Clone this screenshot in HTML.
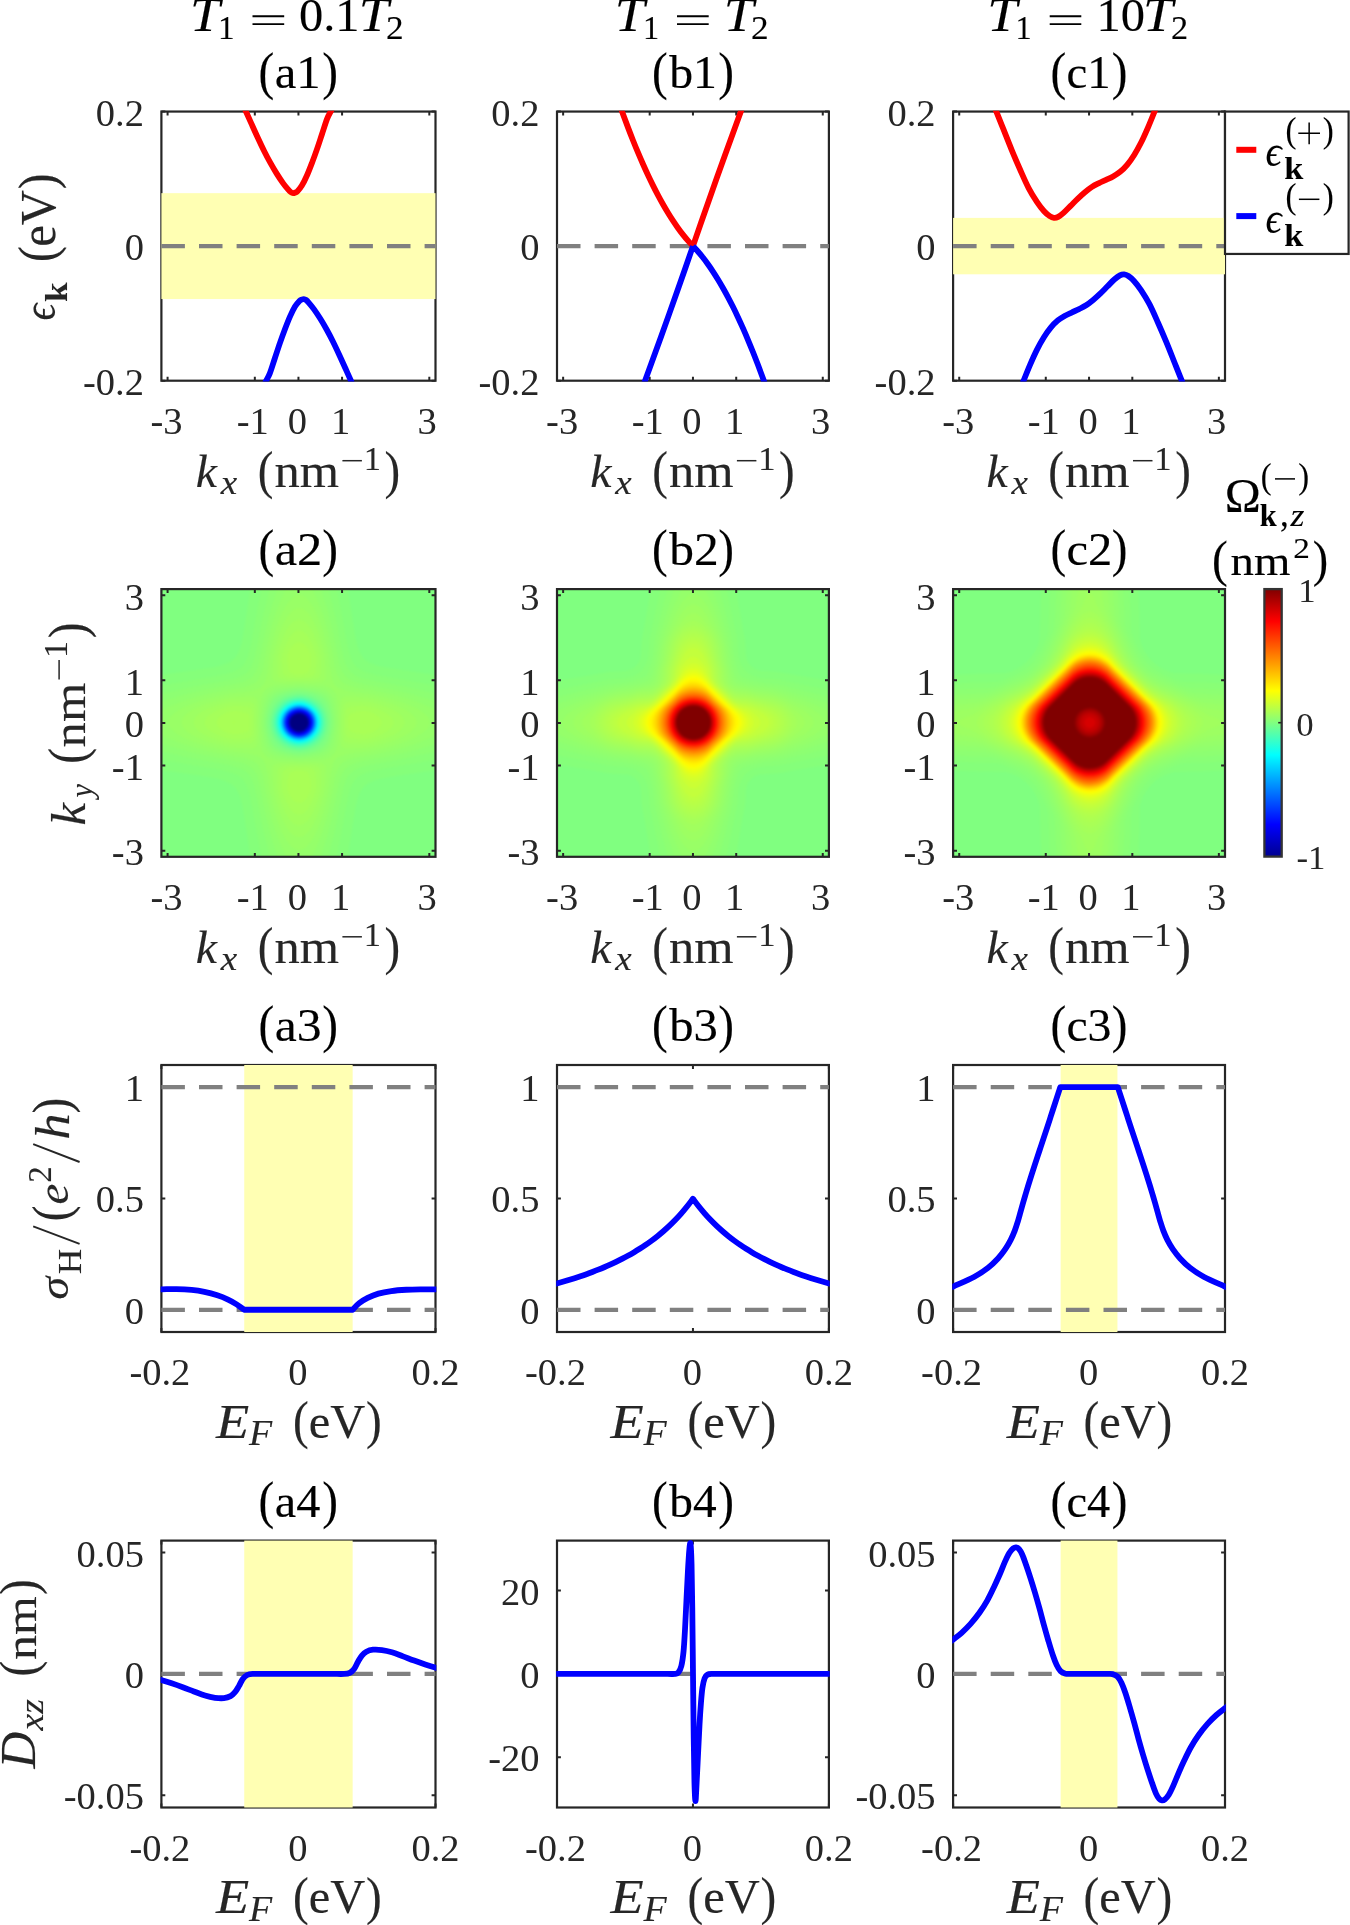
<!DOCTYPE html>
<html><head><meta charset="utf-8"><title>figure</title>
<style>html,body{margin:0;padding:0;background:#fff;font-family:"Liberation Serif",serif}svg{display:block;will-change:transform}</style></head>
<body>
<svg width="1350" height="1925" viewBox="0 0 1350 1925" font-family="'Liberation Serif', serif">
<defs>
<filter id="hb" x="-5%" y="-5%" width="110%" height="110%" color-interpolation-filters="sRGB"><feGaussianBlur stdDeviation="1.3"/></filter>
<clipPath id="ka1"><rect x="160.6" y="110.75" width="275.7" height="270.75"/></clipPath>
<clipPath id="ya1"><rect x="161.4" y="111.55" width="274.1" height="269.15"/></clipPath>
<clipPath id="ka2"><rect x="160.6" y="588.3" width="275.7" height="269.3"/></clipPath>
<clipPath id="ya2"><rect x="161.4" y="589.1" width="274.1" height="267.7"/></clipPath>
<clipPath id="ka3"><rect x="160.6" y="1064.2" width="275.7" height="268.6"/></clipPath>
<clipPath id="ya3"><rect x="161.4" y="1065" width="274.1" height="267"/></clipPath>
<clipPath id="ka4"><rect x="160.6" y="1539.8" width="275.7" height="268.5"/></clipPath>
<clipPath id="ya4"><rect x="161.4" y="1540.6" width="274.1" height="266.9"/></clipPath>
<clipPath id="kb1"><rect x="556.2" y="110.75" width="273.5" height="270.75"/></clipPath>
<clipPath id="yb1"><rect x="557" y="111.55" width="271.9" height="269.15"/></clipPath>
<clipPath id="kb2"><rect x="556.2" y="588.3" width="273.5" height="269.3"/></clipPath>
<clipPath id="yb2"><rect x="557" y="589.1" width="271.9" height="267.7"/></clipPath>
<clipPath id="kb3"><rect x="556.2" y="1064.2" width="273.5" height="268.6"/></clipPath>
<clipPath id="yb3"><rect x="557" y="1065" width="271.9" height="267"/></clipPath>
<clipPath id="kb4"><rect x="556.2" y="1539.8" width="273.5" height="268.5"/></clipPath>
<clipPath id="yb4"><rect x="557" y="1540.6" width="271.9" height="266.9"/></clipPath>
<clipPath id="kc1"><rect x="952.3" y="110.75" width="273.5" height="270.75"/></clipPath>
<clipPath id="yc1"><rect x="953.1" y="111.55" width="271.9" height="269.15"/></clipPath>
<clipPath id="kc2"><rect x="952.3" y="588.3" width="273.5" height="269.3"/></clipPath>
<clipPath id="yc2"><rect x="953.1" y="589.1" width="271.9" height="267.7"/></clipPath>
<clipPath id="kc3"><rect x="952.3" y="1064.2" width="273.5" height="268.6"/></clipPath>
<clipPath id="yc3"><rect x="953.1" y="1065" width="271.9" height="267"/></clipPath>
<clipPath id="kc4"><rect x="952.3" y="1539.8" width="273.5" height="268.5"/></clipPath>
<clipPath id="yc4"><rect x="953.1" y="1540.6" width="271.9" height="266.9"/></clipPath>
<linearGradient id="jet" x1="0" y1="1" x2="0" y2="0"><stop offset="0" stop-color="#00008F"/><stop offset="0.12" stop-color="#0000FF"/><stop offset="0.38" stop-color="#00FFFF"/><stop offset="0.5" stop-color="#80FF80"/><stop offset="0.62" stop-color="#FFFF00"/><stop offset="0.88" stop-color="#FF0000"/><stop offset="1" stop-color="#800000"/></linearGradient>
</defs>
<rect width="1350" height="1925" fill="#fff"/>
<rect x="161.4" y="111.55" width="274.1" height="269.15" fill="none" stroke="#262626" stroke-width="2.2"/><path d="M167.58,111.55v3.9 M167.58,380.7v-3.9M254.83,111.55v3.9 M254.83,380.7v-3.9M298.45,111.55v3.9 M298.45,380.7v-3.9M342.07,111.55v3.9 M342.07,380.7v-3.9M429.32,111.55v3.9 M429.32,380.7v-3.9M161.4,111.55h3.9 M435.5,111.55h-3.9M161.4,246.1h3.9 M435.5,246.1h-3.9M161.4,380.7h3.9 M435.5,380.7h-3.9" stroke="#262626" stroke-width="2" fill="none"/>
<rect x="161.4" y="193.15" width="274.1" height="105.9" fill="#FFFFB3"/>
<path d="M161.4,246.2H435.5" stroke="#808080" stroke-width="4.2" stroke-dasharray="23.5 14.1" fill="none"/>
<path d="M243.39,105.82C243.8,106.74 244.5,108.29 245.85,111.3C247.21,114.31 249.53,119.48 251.52,123.89C253.51,128.3 255.72,133.23 257.82,137.74C259.91,142.25 262.01,146.77 264.11,150.96C266.21,155.16 268.31,159.15 270.41,162.93C272.51,166.71 274.61,170.27 276.71,173.63C278.8,176.99 281.11,180.45 283,183.08C284.89,185.7 286.72,187.84 288.04,189.37C289.36,190.9 290.1,191.64 290.94,192.27C291.77,192.9 292.34,193.11 293.08,193.15C293.81,193.19 294.61,192.84 295.34,192.52C296.08,192.21 296.39,192.42 297.48,191.26C298.57,190.11 300.32,188.22 301.89,185.59C303.46,182.97 305.25,179.3 306.93,175.52C308.61,171.74 310.29,167.33 311.97,162.93C313.64,158.52 315.32,153.9 317,149.08C318.68,144.25 320.36,139 322.04,133.96C323.72,128.93 325.61,122.63 327.08,118.85C328.55,115.07 329.78,113.45 330.85,111.3C331.93,109.14 333.09,106.82 333.54,105.93" stroke="#FF0000" stroke-width="5.8" fill="none" stroke-linejoin="round" clip-path="url(#ka1)"/>
<path d="M263.36,386.27C263.81,385.38 264.97,383.06 266.05,380.9C267.12,378.75 268.35,377.13 269.82,373.35C271.29,369.57 273.18,363.27 274.86,358.24C276.54,353.2 278.22,347.95 279.9,343.12C281.58,338.3 283.26,333.68 284.93,329.27C286.61,324.87 288.29,320.46 289.97,316.68C291.65,312.9 293.44,309.23 295.01,306.61C296.58,303.98 298.33,302.09 299.42,300.94C300.51,299.78 300.82,299.99 301.56,299.68C302.29,299.36 303.09,299.01 303.82,299.05C304.56,299.09 305.13,299.3 305.96,299.93C306.8,300.56 307.54,301.3 308.86,302.83C310.18,304.36 312.01,306.5 313.9,309.12C315.79,311.75 318.1,315.21 320.19,318.57C322.29,321.93 324.39,325.49 326.49,329.27C328.59,333.05 330.69,337.04 332.79,341.24C334.89,345.43 336.99,349.95 339.08,354.46C341.18,358.97 343.39,363.9 345.38,368.31C347.37,372.72 349.69,377.89 351.05,380.9C352.4,383.91 353.1,385.46 353.51,386.38" stroke="#0000FF" stroke-width="5.8" fill="none" stroke-linejoin="round" clip-path="url(#ka1)"/>
<rect x="557" y="111.55" width="271.9" height="269.15" fill="none" stroke="#262626" stroke-width="2.2"/><path d="M563.13,111.55v3.9 M563.13,380.7v-3.9M649.68,111.55v3.9 M649.68,380.7v-3.9M692.95,111.55v3.9 M692.95,380.7v-3.9M736.22,111.55v3.9 M736.22,380.7v-3.9M822.77,111.55v3.9 M822.77,380.7v-3.9M557,111.55h3.9 M828.9,111.55h-3.9M557,246.1h3.9 M828.9,246.1h-3.9M557,380.7h3.9 M828.9,380.7h-3.9" stroke="#262626" stroke-width="2" fill="none"/>
<path d="M557,246.2H828.9" stroke="#808080" stroke-width="4.2" stroke-dasharray="23.5 14.1" fill="none"/>
<path d="M612.95,85.19C613.78,87.63 616.28,95.08 617.95,99.87C619.62,104.66 621.28,109.35 622.95,113.93C624.62,118.52 626.28,123 627.95,127.38C629.62,131.76 631.28,136.04 632.95,140.21C634.62,144.39 636.28,148.46 637.95,152.43C639.62,156.4 641.28,160.26 642.95,164.03C644.62,167.79 646.28,171.45 647.95,175.01C649.62,178.56 651.28,182.02 652.95,185.37C654.62,188.72 656.28,191.97 657.95,195.12C659.62,198.27 661.28,201.31 662.95,204.25C664.62,207.19 666.28,210.03 667.95,212.77C669.62,215.5 671.28,218.14 672.95,220.67C674.62,223.2 676.28,225.63 677.95,227.95C679.62,230.28 681.28,232.5 682.95,234.62C684.62,236.74 686.28,238.75 687.95,240.67C689.62,242.58 692.12,245.19 692.95,246.1 M692.95,246.1L700.95,223.02L708.95,200.19L716.95,177.59L724.95,155.25L732.95,133.14L740.95,111.28L748.95,89.66" stroke="#FF0000" stroke-width="5.8" fill="none" stroke-linejoin="round" clip-path="url(#kb1)"/>
<path d="M636.95,402.54L644.95,380.92L652.95,359.06L660.95,336.95L668.95,314.61L676.95,292.01L684.95,269.18L692.95,246.1 M692.95,246.1C693.78,247.01 696.28,249.62 697.95,251.53C699.62,253.45 701.28,255.46 702.95,257.58C704.62,259.7 706.28,261.92 707.95,264.25C709.62,266.57 711.28,269 712.95,271.53C714.62,274.06 716.28,276.7 717.95,279.43C719.62,282.17 721.28,285.01 722.95,287.95C724.62,290.89 726.28,293.93 727.95,297.08C729.62,300.23 731.28,303.48 732.95,306.83C734.62,310.18 736.28,313.64 737.95,317.19C739.62,320.75 741.28,324.41 742.95,328.17C744.62,331.94 746.28,335.8 747.95,339.77C749.62,343.74 751.28,347.81 752.95,351.99C754.62,356.16 756.28,360.44 757.95,364.82C759.62,369.2 761.28,373.68 762.95,378.27C764.62,382.85 766.28,387.54 767.95,392.33C769.62,397.12 772.12,404.57 772.95,407.01" stroke="#0000FF" stroke-width="5.8" fill="none" stroke-linejoin="round" clip-path="url(#kb1)"/>
<rect x="953.1" y="111.55" width="271.9" height="269.15" fill="none" stroke="#262626" stroke-width="2.2"/><path d="M959.23,111.55v3.9 M959.23,380.7v-3.9M1045.78,111.55v3.9 M1045.78,380.7v-3.9M1089.05,111.55v3.9 M1089.05,380.7v-3.9M1132.32,111.55v3.9 M1132.32,380.7v-3.9M1218.87,111.55v3.9 M1218.87,380.7v-3.9M953.1,111.55h3.9 M1225,111.55h-3.9M953.1,246.1h3.9 M1225,246.1h-3.9M953.1,380.7h3.9 M1225,380.7h-3.9" stroke="#262626" stroke-width="2" fill="none"/>
<rect x="953.1" y="217.9" width="271.9" height="56.4" fill="#FFFFB3"/>
<path d="M953.1,246.2H1225" stroke="#808080" stroke-width="4.2" stroke-dasharray="23.5 14.1" fill="none"/>
<path d="M994.03,105.76C994.4,106.69 994.72,107.47 996.26,111.33C997.8,115.19 1000.72,122.48 1003.3,128.93C1005.88,135.38 1008.93,143.24 1011.74,150.04C1014.56,156.84 1017.37,163.41 1020.19,169.74C1023,176.08 1025.82,182.64 1028.63,188.04C1031.45,193.44 1034.5,198.24 1037.08,202.11C1039.66,205.99 1042,208.92 1044.11,211.26C1046.22,213.61 1048.1,215.09 1049.74,216.19C1051.39,217.29 1052.56,217.76 1053.97,217.88C1055.37,218 1056.55,217.76 1058.19,216.89C1059.83,216.03 1061.71,214.55 1063.82,212.67C1065.93,210.79 1068.51,207.98 1070.86,205.63C1073.2,203.29 1075.55,200.82 1077.89,198.6C1080.24,196.37 1082.58,194.21 1084.93,192.26C1087.28,190.32 1089.62,188.44 1091.97,186.91C1094.31,185.39 1096.66,184.29 1099,183.11C1101.35,181.94 1103.7,180.98 1106.04,179.88C1108.39,178.77 1110.73,177.84 1113.08,176.5C1115.42,175.16 1117.77,173.8 1120.12,171.85C1122.46,169.91 1124.81,167.63 1127.15,164.82C1129.5,162 1131.84,158.72 1134.19,154.96C1136.54,151.21 1138.88,146.99 1141.23,142.3C1143.57,137.61 1146.04,131.98 1148.27,126.82C1150.49,121.65 1153.16,114.84 1154.6,111.33C1156.03,107.83 1156.49,106.71 1156.87,105.78" stroke="#FF0000" stroke-width="5.8" fill="none" stroke-linejoin="round" clip-path="url(#kc1)"/>
<path d="M1021.23,386.42C1021.61,385.49 1022.07,384.37 1023.5,380.87C1024.94,377.36 1027.61,370.55 1029.83,365.38C1032.06,360.22 1034.53,354.59 1036.87,349.9C1039.22,345.21 1041.56,340.99 1043.91,337.24C1046.26,333.48 1048.6,330.2 1050.95,327.38C1053.29,324.57 1055.64,322.29 1057.98,320.35C1060.33,318.4 1062.68,317.04 1065.02,315.7C1067.37,314.36 1069.71,313.43 1072.06,312.32C1074.4,311.22 1076.75,310.26 1079.1,309.09C1081.44,307.91 1083.79,306.81 1086.13,305.29C1088.48,303.76 1090.82,301.88 1093.17,299.94C1095.52,297.99 1097.86,295.83 1100.21,293.6C1102.55,291.38 1104.9,288.91 1107.24,286.57C1109.59,284.22 1112.17,281.41 1114.28,279.53C1116.39,277.65 1118.27,276.17 1119.91,275.31C1121.55,274.44 1122.73,274.2 1124.13,274.32C1125.54,274.44 1126.71,274.91 1128.36,276.01C1130,277.11 1131.88,278.59 1133.99,280.94C1136.1,283.28 1138.44,286.21 1141.02,290.09C1143.6,293.96 1146.65,298.76 1149.47,304.16C1152.28,309.56 1155.1,316.12 1157.91,322.46C1160.73,328.79 1163.54,335.36 1166.36,342.16C1169.17,348.96 1172.22,356.82 1174.8,363.27C1177.38,369.72 1180.3,377.01 1181.84,380.87C1183.38,384.73 1183.7,385.51 1184.07,386.44" stroke="#0000FF" stroke-width="5.8" fill="none" stroke-linejoin="round" clip-path="url(#kc1)"/>
<clipPath id="hac"><rect x="161.40" y="589.10" width="274.10" height="267.70"/></clipPath>
<g clip-path="url(#hac)"><g filter="url(#hb)">
<rect x="155.4" y="583.1" width="286.1" height="279.7" fill="#80FF80"/>
<path d="M249,598.1 250.9,583.1 347.4,583.1 349.1,597.2 355.1,635.7 356.2,641.2 357.5,646.4 359.5,651.7 361.4,655.2 362.6,657 364.2,658.7 365.9,660.3 367.7,661.5 371.3,663.5 376.7,665.4 382.1,666.8 386.2,667.5 428.9,673.9 441.5,675.4 441.5,769.7 427.8,771.3 392.4,776.6 381.9,778.4 375.3,780.1 370.8,781.9 367.6,783.6 364.1,786.4 362,788.9 359.9,792.4 357.8,797.7 356.4,803 355.1,809.4 349.2,847 347.3,862.8 250.9,862.8 249,847 243.6,812.5 241.9,803 240,796.4 238.3,792.4 236.4,789.2 234.6,786.9 233,785.4 231,783.9 227.4,781.9 222.9,780.1 216.6,778.4 205.8,776.6 170.4,771.3 155.4,769.6 155.4,675.5 169.8,673.8 211.2,667.7 216.6,666.7 222,665.3 227.4,663.2 231,661.2 234,658.7 236.4,655.9 238.2,652.9 240,648.7 241.8,642.5 243.6,632.6ZM294,692 290.4,692.6 286.8,693.4 283.2,694.6 279.6,696.2 277.5,697.4 275.3,699.2 273.8,701 271.6,704.5 270.1,708 268.6,713.3 267.9,716.8 267.3,722.1 267.5,725.6 268,729.1 269.7,736.1 271.1,739.7 272.4,742 274.2,744.6 276,746.5 279.6,748.9 285,751.2 288.6,752.1 292.2,752.9 295.8,753.4 299.3,753.6 306.5,752.8 310.1,752 313.7,751 317.3,749.5 319.1,748.6 320.9,747.5 322.7,746 324.5,744 326.2,741.4 327.1,739.7 328.5,736.1 329.5,732.6 330.2,729.1 330.7,725.6 330.9,722.1 330.3,716.8 329.6,713.3 328.7,709.8 326.6,704.5 324.4,701 322.9,699.2 320.9,697.6 317.6,695.7 315.5,694.8 311.9,693.6 306.5,692.3 299.3,691.5Z" fill="#85FF7A"/>
<path d="M262,583.1 336.2,583.1 337.8,593.7 341.6,613 346.2,639.4 348,648.2 349.9,655.2 352,660.5 354,664 355.4,665.8 356.9,667.3 359.6,669.3 362.9,671.1 367.7,672.8 374.9,674.7 382.8,676.3 410.9,681 430.7,684.7 441.5,686.3 441.5,758.8 428.9,760.7 412.7,763.8 383.9,768.6 374.9,770.4 369.5,771.8 364.1,773.6 360.5,775.2 358.4,776.6 356.3,778.4 354.7,780.1 353.5,781.9 351.6,785.4 349.7,790.5 347.9,797.2 346.4,804.7 341.4,832.9 337.9,850.5 336.1,862.8 262.1,862.8 260.3,850.5 256.8,832.9 251.8,804.7 250.4,797.7 248.5,790.7 246.6,785.4 244.7,781.9 243.5,780.1 241.9,778.4 240,776.7 238.2,775.5 234.6,773.8 229.2,771.9 222,770.1 214.8,768.7 186,763.9 168,760.5 155.4,758.6 155.4,686.5 168,684.6 187.8,680.9 215.4,676.3 223.8,674.6 230.5,672.8 235.3,671.1 238.6,669.3 241.8,666.9 244.2,664 246.2,660.5 248.3,655.2 250.2,648.2 252,639.4 256.9,611.2 260.1,595.4ZM286.8,692.2 283.2,693.2 279.6,694.6 276,696.6 274.2,698.1 272.4,700.1 270.8,702.7 269.3,706.2 268.1,709.8 267.3,713.3 266.5,718.6 266.2,722.1 266.4,725.6 267.1,730.9 267.9,734.4 269.6,739.7 271.2,743.2 272.4,745 274.2,747 276,748.5 278.9,750.2 281.4,751.3 285,752.5 288.6,753.4 294,754.3 299.3,754.7 304.7,754.2 308.3,753.6 311.9,752.8 315.5,751.8 317.3,751.1 320.9,749.4 322.7,748.2 324.5,746.5 326.3,744.2 327.9,741.4 329.3,737.9 330.3,734.4 331.1,730.9 331.6,727.3 332,722.1 331.5,716.8 330.9,713.3 328.9,706.2 327.4,702.7 326.4,701 325.1,699.2 323.4,697.4 320.8,695.7 319.1,694.8 315.5,693.3 310.1,691.8 304.7,690.9 299.3,690.4 292.2,691.1Z" fill="#89FF76"/>
<path d="M270.5,583.1 327.7,583.1 329.7,593.7 334.8,614.8 337.8,628.8 340.7,645 343.8,658.7 345.5,664 347.2,667.5 349.7,671 351.5,672.8 353.8,674.6 356.9,676.4 360.5,677.8 365.9,679.2 377.1,681.6 394.7,684.7 409.1,687.6 430.7,692.6 441.5,694.6 441.5,750.5 430.7,752.5 409.1,757.5 394.7,760.4 376.7,763.6 367.7,765.5 362.3,766.8 359.2,767.8 356.9,768.8 353.3,770.9 350.7,773.1 347.9,776.4 346.1,779.6 345.2,781.9 344.1,785.4 342.8,790.7 340.5,801.2 336.5,822.3 333.8,834.7 329.9,850.5 327.5,862.8 270.7,862.8 268.3,850.5 263.6,831.1 260.3,815.3 257.7,801.2 254.1,785.4 252.6,780.8 250.4,776.6 249.1,774.8 247.5,773.1 245.5,771.3 243.6,770 241.8,769 238.2,767.5 231,765.6 216.6,762.6 198.6,759.4 184.2,756.4 166.2,752.3 155.4,750.3 155.4,694.8 168,692.5 186,688.3 198.6,685.7 222,681.4 229.5,679.9 236.4,678.2 241.3,676.3 244.4,674.6 247.2,672.3 249.9,669.3 251,667.5 252.7,664 254.8,657 257.9,642.9 260.4,628.8 263.4,614.8 268.5,593.7ZM288.6,690.4 283.2,691.6 279.6,692.7 276,694.3 274.2,695.5 272.4,697.1 270.7,699.2 269.7,701 268.2,704.5 267.1,708 265.9,713.3 265.1,720.3 265,723.8 265.5,729.1 266.5,734.4 267.9,739.7 269.2,743.2 270.1,744.9 271.3,746.7 272.9,748.5 275.1,750.2 277.8,751.6 281.4,753 286.8,754.4 290.4,755 295.8,755.7 299.3,756 304.7,755.5 310.1,754.7 317.3,752.8 320.9,751.4 322.7,750.5 324.5,749.2 326.3,747.4 328.1,744.9 329,743.2 330.3,739.7 331.3,736.1 332.4,730.9 332.9,727.3 333.3,722.1 332.8,716.8 332.3,713.3 330.6,706.2 329.3,702.7 328.1,700.3 326.1,697.4 324.5,695.9 322.7,694.6 319.1,692.9 313.7,691.2 306.5,689.9 299.3,689.1 294,689.6Z" fill="#8DFF72"/>
<path d="M278.6,583.1 319.6,583.1 322.4,593.7 327.8,611.2 331.4,625.3 333,632.4 338.9,662.3 339.8,665.8 341.1,669.3 343,672.8 344.3,674.8 345.7,676.3 347.9,678.3 350.2,679.9 353.3,681.4 358.7,683.2 391.1,689.4 398.3,690.9 412.7,694.4 430.7,699.7 441.5,702.4 441.5,742.7 430.7,745.4 412.7,750.7 398.3,754.2 391.1,755.7 362.3,761.2 356.9,762.4 353.3,763.7 349.7,765.6 346.7,767.8 344.3,770.3 342.5,773 341.5,774.8 340.7,776.6 339.6,780.1 338.8,783.6 332.8,813.5 331.2,820.6 327.6,834.7 322.1,852.2 319.4,862.8 278.8,862.8 276.1,852.2 270.1,832.9 266.6,818.8 265,811.8 259.4,783.6 258.1,778.4 256.7,774.8 254.4,771 251.5,767.8 249.2,766 245.4,763.9 240,762.1 200.4,754.3 186,750.8 166.2,745 155.4,742.4 155.4,702.7 166.2,700.1 186,694.3 198.6,691.2 207.6,689.3 236.4,683.8 241.8,682.5 245.4,681.2 249,679.2 250.8,677.9 252.5,676.3 254,674.6 256.3,671.1 257.1,669.3 258.4,665.8 259.6,660.5 264.9,634.1 266.8,625.3 270.4,611.2 275.8,593.7ZM290.4,688.6 285,689.4 281.4,690.2 277.8,691.2 274.2,692.7 272.3,693.9 270.4,695.7 268.8,697.8 267.2,701 265.7,706.2 264.6,711.5 263.9,716.8 263.5,722.1 263.8,727.3 264.8,734.4 265.9,739.7 267.5,744.9 268.8,747.2 270.6,749.6 272.4,751.2 274.2,752.4 276,753.3 279.6,754.5 288.6,756.3 294,757 299.3,757.4 304.7,756.9 310.1,756.2 315.5,755.2 319.1,754.3 322.7,753.1 324.7,752 327,750.2 328.6,748.5 329.9,746.4 331.3,743.2 332.3,739.7 334,730.9 334.6,725.6 334.8,722.1 334.3,716.8 333.2,709.8 332.5,706.2 331,701 330.2,699.2 329.2,697.4 328.1,696.1 325.9,693.9 322.7,692 319.1,690.8 311.9,689.2 301.1,687.8 297.6,687.8Z" fill="#91FF6E"/>
<path d="M288.4,583.1 309.8,583.1 317.3,600.2 320.5,607.7 322.7,614 325.7,623.6 328.1,632.4 331.5,648.2 332.9,655.2 334.6,665.8 335.9,671.1 337.2,674.6 338.9,678.1 340.7,680.6 342.5,682.3 344.3,683.5 347.7,685.1 353.3,687.1 358.7,688.2 371.3,690.1 389.3,693.8 397.2,695.7 409.1,699.1 419.5,702.7 441.5,712 441.5,733.1 421.9,741.4 410.9,745.4 398.3,749.1 389.3,751.3 371.3,755 356.9,757.2 353.3,758.1 349.7,759.2 345.9,760.8 342.9,762.5 340.7,764.5 338.9,767 337.6,769.6 335.3,775.9 334.4,780.1 332.5,792.4 328.3,811.8 326.3,819.3 322.7,831.1 319.1,840.8 311.9,857.3 309.3,862.8 288.8,862.8 288.6,862.3 279.6,842 277.3,836.4 275.5,831.1 271.7,818.8 269.9,811.8 266.1,794.2 263.8,780.1 262.6,774.8 261.3,771.3 259.7,767.8 258,765.1 256.2,763.3 254.4,761.9 252.3,760.8 249,759.4 245.4,758.2 240,757 225.6,754.8 207.6,751 200.4,749.3 187.8,745.6 182.4,743.8 176.3,741.4 155.4,732.5 155.4,712.6 161.8,709.8 180.6,702 187.8,699.5 196.8,696.9 205.8,694.5 222,691.1 229.2,689.7 240,688.1 245.5,686.9 250.5,685.1 254.1,683.4 256.2,681.9 258,680 259.3,678.1 260.2,676.3 261.6,673.2 262.8,669.3 263.6,665.8 265.9,651.7 269.7,634.1 272,625.3 275.2,614.8 277,609.5 279.6,603.1ZM290.4,686.8 279.6,688 276,688.8 274.2,689.4 270.6,691.6 268.8,693.1 266.6,695.7 264.8,699.2 263.9,702.7 263.3,706.2 262.5,713.3 261.8,722.1 262.4,730.9 263.4,739.7 264,743.2 265.2,746.8 266,748.5 267.2,750.2 268.8,752 270.8,753.7 272.4,754.7 276,756.3 280.6,757.3 290.4,758.4 299.3,759 308.3,758.3 317.3,757.3 320.9,756.7 324.5,755.4 327.4,753.7 329.4,752 331,750.2 332.2,748.5 333.7,744.9 334.8,739.7 335.9,729.1 336.4,722.1 335.7,713.3 334.6,704.5 334,701 332.6,697.4 331.6,695.7 330.2,693.9 328.1,692 326.3,690.7 324.5,689.7 320.9,688.5 313.7,687.3 299.3,686.1Z" fill="#95FF6A"/>
<path d="M294,596.6 297.6,595 299.3,594.8 301.1,595.1 302.9,595.8 304.7,597 306.5,598.5 310.1,602.6 311.9,605.2 314.5,609.5 317,614.8 320.5,623.6 322.7,630.3 326.8,646.4 328.6,655.2 330.3,669.3 332.6,679.9 334,683.4 335.3,685.6 336.6,686.9 339.5,688.6 344.3,690.2 353.3,692 365.9,693.4 374.9,695 391.1,698.8 396.5,700.4 403.3,702.7 412.7,706.5 418.1,709.3 421.6,711.5 425.9,715 427.5,716.8 428.7,718.6 429.5,720.3 429.9,722.1 429.8,723.8 429.2,725.6 428.2,727.3 426.8,729.1 425,730.9 420.4,734.4 417.5,736.1 414.2,737.9 409.1,740.2 401.1,743.2 394.7,745.3 389.3,746.8 376.7,749.7 367.7,751.4 353.3,753.1 344.3,754.9 340.7,755.9 338.9,756.7 337.1,757.8 335.8,759 334.5,760.8 333.6,762.5 332.9,764.3 332,767.8 330.2,776.6 329,787.2 328.2,792.4 324.1,810 321.4,818.8 317.4,829.4 315.5,833.5 313.7,837 311.9,839.9 308.3,844.7 306.5,846.6 304.7,848.1 302.9,849.3 301.1,850 299.3,850.3 297.6,850.1 295.8,849.5 294,848.5 292.2,847 290.4,845.3 286.8,840.7 285,837.8 283.2,834.6 280.8,829.4 276.8,818.8 274.2,810.1 270,792.4 269.2,787.2 268,776.6 266.2,767.8 265.3,764.3 264.6,762.5 263.7,760.8 262.4,759 261.6,758.2 259.8,757 258,756.1 254.4,755 245.4,753.2 231,751.5 222,749.8 209.4,746.9 204,745.4 197.1,743.2 189.6,740.4 184.2,738 180.7,736.1 177.8,734.4 173.2,730.9 171.4,729.1 170,727.3 169,725.6 168.4,723.8 168.3,722.1 168.7,720.3 169.5,718.6 170.7,716.8 172.3,715 174.3,713.3 179.3,709.8 182.4,708 186,706.2 190.2,704.5 200.4,700.8 209.4,698.2 227.4,694.2 232.8,693.3 243.6,692.2 253,690.4 258,689 259.8,688.1 261.6,686.9 263.2,685.1 264.3,683.4 265.2,681.2 266.1,678.1 267.9,669.3 269.3,657 270.6,649.9 274.9,632.4 276.5,627.1 278.4,621.8 281.2,614.8 282.8,611.2 285,607.3 286.8,604.4 288.6,601.9 292.2,598ZM279.6,685.1 274.2,685.6 270.6,686.6 268.8,687.4 267,688.7 265.2,690.3 263.6,692.2 262.6,693.9 261.4,697.4 261.1,699.2 260.8,702.7 260,723.8 261,744.9 261.6,748.5 262.2,750.2 263.4,752.6 264.2,753.7 265.8,755.5 267,756.5 268.8,757.7 272.4,759.1 274.2,759.5 277.8,759.9 299.3,760.8 319.1,760 324.5,759.4 328.1,758.3 330.2,757.3 331.7,756.1 333.5,754.3 335.3,751.7 336.6,748.5 337,746.7 337.3,743.2 338.3,722.1 337.4,702.7 336.8,697.4 335.6,693.9 334.6,692.2 333.2,690.4 331.7,689 329.9,687.7 326.3,686.1 322.7,685.4 299.3,684.3Z" fill="#99FF66"/>
<path d="M294.1,609.5 295.8,608.7 297.6,608.1 299.3,608 301.1,608.2 302.9,608.9 304,609.5 306.5,611.4 309.5,614.8 311.9,618.5 315.5,625.3 317.3,629.4 319.1,634.4 322.7,647 324.2,653.5 324.9,658.7 325.7,672.8 325.5,678.1 324.8,679.9 322.7,681 319.1,681.9 311.9,682.4 306.5,682.5 299.3,682.2 290.4,682.5 283.2,682.3 279.6,682 276,681.2 274.2,680.4 273.4,679.9 272.7,678.1 272.5,672.8 273.1,660.5 273.7,655.2 275.2,648.2 279.2,634.1 281.1,628.8 282.6,625.3 285,620.8 286.8,617.7 288.6,614.9 290.4,612.7 292.2,610.9ZM232.6,697.4 249,696.5 252.6,696.7 254.4,696.9 255.2,697.4 256.2,698.5 256.5,699.2 257.4,702.7 258,708.2 258.1,715 257.8,722.1 258.1,729.1 258,736.1 257.6,741.4 256.8,744.9 256.1,746.7 254.4,748.2 252.6,748.4 249,748.6 236.4,747.9 231,747.5 223.8,746.1 209.4,742.3 205.8,741.1 200.4,739 194.5,736.1 191.4,734.4 188.6,732.6 186.4,730.9 184.6,729.1 183.3,727.3 182.4,725.6 181.9,723.8 181.8,722.1 182.1,720.3 182.8,718.6 183.9,716.8 185.5,715 187.5,713.3 190,711.5 193,709.8 198.6,706.9 204,704.6 207.6,703.4 223.8,699 229.2,697.9ZM342.5,697.7 344.3,696.8 349.7,696.6 362.3,697.2 367.7,697.7 373.1,698.7 378.5,700 389.3,703 394.7,704.8 400.1,707.2 405.2,709.8 409.1,712.2 412.7,715 414.5,717.2 415.4,718.6 416.1,720.3 416.4,722.1 416.3,723.8 415.8,725.6 414.9,727.3 413.6,729.1 411.8,730.9 409.1,732.9 403.7,736.1 400.2,737.9 396.3,739.7 391.1,741.6 376.7,745.6 371.3,746.8 367.7,747.4 362.3,747.9 349.7,748.5 344.3,748.3 342.5,747.3 341.4,744.9 340.6,741.4 340.2,734.4 340.4,722.1 340.1,713.3 340.4,706.2 340.7,702.8 341.1,701 341.7,699.2ZM274.8,764.3 277.8,763.4 279.6,763.1 285,762.7 292.2,762.6 299.3,762.9 306.5,762.6 311.9,762.7 317.3,763 320.9,763.6 323.4,764.3 324.5,765.1 325.3,766 325.6,767.8 325.7,771.3 325.1,783.6 324.6,788.9 324,792.4 322.8,797.7 319.1,810.7 317.3,815.7 315.5,819.8 313.7,823.4 310.2,829.4 308.3,831.8 306.5,833.7 304.7,835.2 302.9,836.2 301.1,836.9 299.3,837.1 297.6,837 295.8,836.4 294,835.5 292.2,834.2 289.3,831.1 286.8,827.4 283.2,820.9 280.7,815.3 278.9,810 275.4,797.7 274.2,792.4 273.4,787.2 272.5,773.1 272.5,769.6 272.9,766 274.2,764.7Z" fill="#9DFF62"/>
<path d="M297,620 299.3,619.7 301.1,620 302.9,620.7 304.7,621.8 306.5,623.3 308.3,625.2 310.9,628.8 313.7,634.1 318.2,646.4 320,653.5 320.7,658.7 320.9,664 320.6,672.8 319.8,676.3 319.1,677.2 318.1,678.1 315.5,679.1 311.9,679.8 306.5,680.2 294,680.2 288.6,680 285,679.6 281.4,678.6 279.6,677.7 278.4,676.3 277.9,674.6 277.6,672.8 277.3,664 277.5,658.7 277.9,655.2 278.5,651.7 280.6,644.7 283.2,637.5 285,633.1 286.8,629.6 288.4,627.1 290.4,624.6 292.2,622.8 294,621.4 295.8,620.4ZM225.5,702.7 231,701.7 234.6,701.4 240,701.3 247.2,701.5 250.8,702 252.5,702.7 253.8,704.5 254.4,705.7 255,708 255.6,713.3 255.7,729.1 255.4,734.4 254.8,737.9 254.3,739.7 253.3,741.4 252.6,742.3 250.8,743.1 249,743.4 236.4,743.8 231,743.4 223.8,741.9 211.4,737.9 205.8,735.5 202.2,733.5 198.6,730.9 196.8,729.1 195.4,727.3 194.4,725.6 193.9,723.8 193.8,722.1 194.2,720.3 194.9,718.6 196.1,716.8 197.7,715 199.7,713.3 204,710.5 209.2,708 219.3,704.5ZM344.3,704.5 346.1,702.4 347.9,701.9 351.5,701.5 360.5,701.3 365.9,701.5 369.5,702.1 374.9,703.3 378.9,704.5 389,708 392.9,709.8 396,711.5 398.5,713.3 400.5,715 402.1,716.8 403.3,718.6 404,720.3 404.4,722.1 404.3,723.8 403.7,725.6 402.8,727.3 401.4,729.1 399.6,730.9 397.4,732.6 394.6,734.4 391.2,736.1 387.5,737.6 376.3,741.4 369.5,743.1 365.9,743.6 362.3,743.8 349.7,743.5 347.9,743.2 346.1,742.7 344.9,741.4 344.3,740.6 343.4,737.9 342.6,732.6 342.4,727.3 342.5,715 342.9,709.8 343.7,706.2ZM282.5,766 286.8,765.3 292.2,764.9 304.7,764.9 310.1,765.1 313.7,765.6 315.7,766 317.3,766.7 319.2,767.8 320.1,769.6 320.6,773.1 320.9,781.9 320.7,787.2 320.2,790.7 319.5,794.2 317.3,801.2 313.7,810.9 311.9,814.6 310.1,817.5 308.3,819.9 306.5,821.8 304.7,823.3 302.9,824.4 301.1,825.1 299.3,825.4 297.6,825.2 295.8,824.7 294,823.7 292.2,822.3 290.4,820.5 289,818.8 286.8,815.5 284.8,811.8 283.2,807.6 279.7,797.7 278.3,792.4 277.5,787.2 277.3,781.9 277.6,773.1 278.1,769.6 279.1,767.8 281.4,766.5Z" fill="#A1FF5E"/>
<path d="M297.3,630.6 299.3,630.3 301.1,630.6 302.9,631.4 304.3,632.4 306.5,634.5 308.3,637 311.6,642.9 313.2,646.4 314.5,649.9 315.5,653.5 316.2,657 316.4,660.5 316.1,665.8 315.2,672.8 314.5,674.6 313.7,675.3 311.9,676.4 308.3,677.3 304.7,677.7 295.8,677.8 290.4,677.4 286.8,676.5 285,675.6 283.7,674.6 283,672.8 282.1,665.8 281.8,660.5 282.3,655.2 283.7,649.9 285,646.4 286.8,642.6 290.4,636.2 292.2,633.9 294,632.2 295.8,631.1ZM229.6,706.2 234.6,705.7 241.8,706 247.2,706.6 249,707 250.8,708.2 251.6,709.8 252.3,711.5 253,715 253.2,718.6 253.2,727.3 252.9,730.9 252.6,732.7 252,734.4 250.8,736.9 249.3,737.9 247.2,738.5 243.6,738.9 236.4,739.4 231,739.1 225.6,737.9 222,736.7 218.4,735.1 211.2,731.4 208.1,729.1 206.5,727.3 205.8,726.3 205.4,725.6 204.8,723.8 204.7,722.1 205.1,720.3 205.9,718.6 207.3,716.8 209.2,715 211.9,713.3 218.8,709.8 223.8,707.8ZM354.1,706.2 362.3,705.7 365.9,705.9 368.6,706.2 371.3,706.9 375.1,708 379.4,709.8 383,711.5 386.3,713.3 389,715 390.9,716.8 392.3,718.6 393.1,720.3 393.5,722.1 393.4,723.8 392.8,725.6 391.7,727.3 390.1,729.1 387.5,731.1 380.3,734.9 376.7,736.5 372.6,737.9 367.7,739 362.3,739.4 355.1,739 351.5,738.5 349,737.9 347.9,737.4 347,736.1 346.1,734.4 345.3,730.9 345,727.3 345,718.6 345.5,713.3 346.1,710.6 346.5,709.8 347.9,707.7 349.7,706.9ZM289.7,767.8 295.8,767.3 304.7,767.4 308.5,767.8 311.9,768.8 313.5,769.6 314.9,771.3 315.4,773.1 316.2,780.1 316.3,785.4 315.7,790.7 314.3,796 311.9,801.5 308.3,808.1 307,810 304.7,812.5 302.9,813.7 301.1,814.5 299.3,814.8 297.6,814.6 295.8,814 294,812.9 292.2,811.2 290.4,808.9 286.8,802.5 284.6,797.7 282.9,792.4 281.9,787.2 281.8,783.6 282.2,778.4 282.8,773.1 283.2,771.8 283.3,771.3 284.7,769.6 286.8,768.6Z" fill="#A5FF5A"/>
<path d="M296,642.9 297.6,642.3 299.3,642.1 301.1,642.4 302.9,643.3 304.7,644.7 306.5,646.7 308.6,649.9 310.1,653.7 310.9,657 311,660.5 310.7,664 310.1,666.9 308.8,671.1 307.8,672.8 306.5,673.5 304.7,674.1 301.7,674.6 296.5,674.6 294,674.3 292.2,673.7 290.3,672.8 289.4,671.1 288.6,668.7 287.5,664 287.1,660.5 287.3,657 288.1,653.5 289.6,649.9 291.9,646.4 294,644.2ZM229.5,711.5 232.8,711 234.6,710.9 240,711.3 243.6,712.2 247,713.3 248.9,715 249.5,716.8 249.8,718.6 249.9,725.6 249.3,729.1 249,729.9 248.2,730.9 247.2,731.7 244.7,732.6 241.8,733.4 236.4,734.2 232.8,734.2 229.2,733.5 225.6,732.2 222,730.2 220.5,729.1 218.7,727.3 217.5,725.6 216.9,723.8 216.8,722.1 217.2,720.3 218.1,718.6 219.6,716.8 222,714.9 225.6,712.9ZM357.2,711.5 362.3,710.9 365.9,711 369.5,711.7 373.1,713.1 374.9,714.1 376.4,715 378.6,716.8 380.1,718.6 381,720.3 381.4,722.1 381.3,723.8 380.7,725.6 379.5,727.3 377.7,729.1 375.2,730.9 371.7,732.6 367.7,733.8 364.1,734.2 360.5,734.1 355.1,733.1 351.5,731.9 349.7,730.8 349,729.1 348.5,727.3 348.3,725.6 348.2,720.3 348.8,716.8 349.7,714.4 351.3,713.3ZM292,771.3 294,770.9 297.6,770.6 302.9,770.7 306.2,771.3 308.4,773.1 309.7,776.6 310.8,781.9 311.1,785.4 310.7,788.9 310.1,791.4 308.3,795.7 306.5,798.4 304.7,800.4 302.9,801.8 301.1,802.7 299.3,803 297.6,802.8 295.8,802.1 294,800.9 292.2,799 290.4,796.5 288.6,792.9 287.9,790.7 287.2,787.2 287.1,785.4 287.7,780.1 288.6,776.4 289.8,773.1Z" fill="#A9FF56"/>
<path d="M298.1,658.7 299.3,657.8 300,658.7 299.3,659.8ZM232.6,722.1 232.8,721.9 234.6,721.8 234.9,722.1 234.6,723.3 232.8,722.9ZM363.4,722.1 364.1,721.6 365.5,722.1 364.1,723.8ZM298.8,785.4 299.3,785.2 299.6,785.4 299.8,787.2 299.3,787.5 298.5,787.2Z" fill="#ADFF52"/>
<path d="M294,693.9 299.3,693.4 306.5,694.3 311.9,695.8 313.7,696.5 317.3,698.4 319.1,699.6 320.9,701.2 323.7,704.5 325.6,708 327,711.5 327.9,715 328.6,718.6 329,722.1 328.5,727.3 327.8,730.9 326.7,734.4 325.2,737.9 324.3,739.7 322.7,741.9 320.9,743.9 319.1,745.5 317.3,746.7 315.5,747.7 311.9,749.3 306.5,750.8 302.9,751.4 299.3,751.7 294,751.2 290.4,750.5 286.8,749.5 283.2,748 281.4,747 279.6,745.8 277.8,744.4 276,742.5 274.2,740 273,737.9 271.5,734.4 270,729.1 269.5,725.6 269.3,722.1 269.9,716.8 270.7,713.3 271.8,709.8 273.5,706.2 274.5,704.5 276,702.6 277.5,701 279.6,699.3 281.4,698.1 285,696.3 288.6,695.1Z" fill="#7AFF85"/>
<path d="M289.7,695.7 294,694.7 299.3,694.2 302.9,694.5 306.5,695.1 311.9,696.8 315.5,698.5 317.3,699.7 320.9,702.7 323.6,706.2 325.4,709.8 327.1,715 328,720.3 328.1,722.1 327.9,725.6 326.9,730.9 325,736.1 323,739.7 321.7,741.4 320.1,743.2 318,744.9 313.7,747.5 308.3,749.5 304.7,750.3 301.1,750.8 299.3,750.9 295.8,750.6 290.4,749.6 285,747.8 281.4,745.8 279.6,744.5 277.8,742.8 276,740.8 275.2,739.7 273.2,736.1 271.8,732.6 270.9,729.1 270.3,725.6 270.1,722.1 270.5,718.6 271.1,715 272.8,709.8 274.6,706.2 275.9,704.5 277.3,702.7 279.2,701 283.2,698.2 286.8,696.6Z" fill="#76FF89"/>
<path d="M292.8,695.7 295.8,695.2 299.3,694.9 302.9,695.2 306.5,695.9 310.1,697 314.9,699.2 317.3,700.8 319.1,702.3 320.9,704.2 322.5,706.2 323.6,708 325.2,711.5 326.3,715 327.3,720.3 327.4,722.1 327.2,725.6 326.5,729.1 325.6,732.6 324.1,736.1 323.1,737.9 320.5,741.4 318.7,743.2 316.5,744.9 311.9,747.4 306.5,749.2 302.9,749.9 299.3,750.2 294,749.7 288.6,748.3 286.8,747.7 283.2,745.9 279.5,743.2 277.8,741.4 276,739.2 275.1,737.9 273.3,734.4 271.6,729.1 271,725.6 270.8,722.1 271.5,716.8 273,711.5 274.6,708 275.7,706.2 277,704.5 279.6,701.9 283.2,699.3 285,698.3 288.6,696.8Z" fill="#72FF8D"/>
<path d="M297.5,695.7 299.3,695.6 302.9,695.9 306.5,696.6 308.3,697.1 311.9,698.5 313.7,699.4 316.2,701 318.4,702.7 320.1,704.5 321.5,706.2 323.7,709.8 324.4,711.5 325.1,713.3 326,716.8 326.7,722.1 326.2,727.3 325.4,730.9 324.8,732.6 323.2,736.1 322.2,737.9 319.1,741.6 315.5,744.6 313.7,745.7 310.1,747.4 304.7,748.9 299.3,749.5 294,749 288.6,747.6 285,746 283.2,744.9 279.6,742.1 277.3,739.7 276,737.9 274.1,734.4 272.8,730.9 272,727.3 271.5,723.8 271.5,722.1 271.8,718.6 273.1,713.3 274.6,709.8 275.5,708 278.1,704.5 279.8,702.7 282,701 283.2,700.1 286.8,698.2 292.2,696.5Z" fill="#6EFF91"/>
<path d="M291,697.4 295.8,696.4 299.3,696.2 301.1,696.3 306.5,697.2 310.1,698.4 311.9,699.2 315.5,701.3 319.1,704.5 321.9,708 323.7,711.5 324.4,713.3 325.8,718.6 326.1,722.1 326.1,723.8 325.2,729.1 324.1,732.6 323.4,734.4 320.9,738.4 319.1,740.6 317.3,742.3 313.7,744.9 311.9,745.9 308.3,747.4 302.9,748.6 299.3,748.9 297.6,748.9 292.2,748 290.4,747.5 286.8,746.1 284.5,744.9 281.9,743.2 279.9,741.4 278.2,739.7 275.8,736.1 274.8,734.4 273.5,730.9 273,729.1 272.4,725.6 272.1,722.1 272.3,720.3 273.2,715 274.5,711.5 275.3,709.8 277.8,706 279.6,704 281.4,702.4 285,699.9 288.6,698.2Z" fill="#6AFF95"/>
<path d="M290.4,698.2 295.8,697 299.3,696.7 302.9,697.1 308.3,698.3 311.9,699.9 313.7,700.9 317.3,703.6 319.8,706.2 321.1,708 322.2,709.8 323.8,713.3 324.8,716.8 325.6,722.1 325.3,725.6 324.1,730.9 323.5,732.6 321.7,736.1 319.1,739.6 317.4,741.4 313.7,744.2 310.1,746.1 304.7,747.7 299.3,748.4 294,747.8 288.6,746.3 285,744.5 280.8,741.4 279.1,739.7 276.5,736.1 274.7,732.6 273.2,727.3 272.7,722.1 273.4,716.8 275.1,711.5 277.1,708 280,704.5 283.2,701.8 286.8,699.6 288.6,698.8Z" fill="#66FF99"/>
<path d="M296.6,697.4 299.3,697.2 301.1,697.4 304.7,697.9 306.5,698.3 310.1,699.6 311.9,700.5 313.7,701.5 315.5,702.9 319,706.2 321.5,709.8 322.5,711.5 323.8,715 324.9,720.3 325,722.1 324.8,725.6 324.1,729.1 323.6,730.9 322.1,734.4 319.8,737.9 318.4,739.7 315.5,742.3 311.9,744.6 310.1,745.5 308.3,746.2 304.7,747.2 301.1,747.8 299.3,747.9 295.8,747.6 290.4,746.4 288.6,745.7 285,743.9 281.7,741.4 278.4,737.9 277.1,736.1 275.3,732.6 274.6,730.9 273.7,727.3 273.2,723.8 273.1,722.1 273.5,718.6 275,713.3 276.6,709.8 279.2,706.2 280.8,704.5 282.9,702.7 286.8,700.2 292.2,698.2Z" fill="#62FF9D"/>
<path d="M288.6,699.9 294,698.2 299.3,697.7 304.7,698.3 310.1,700.1 313.7,702.2 315.5,703.5 318.4,706.2 319.8,708 321.9,711.5 323.3,715 323.8,716.8 324.4,720.3 324.5,722.1 324.3,725.6 323.6,729.1 322.4,732.6 321.5,734.4 319.1,737.9 317.6,739.7 315.7,741.4 311.9,744.1 308.3,745.7 302.9,747.1 299.3,747.5 295.8,747.2 294,746.8 290.4,745.9 288.6,745.2 286.8,744.3 283.2,742 280.6,739.7 279,737.9 276.7,734.4 275.1,730.9 273.9,725.6 273.6,722.1 274.4,716.8 274.9,715 276.3,711.5 278.4,708 281.4,704.7 283.2,703.1 285,701.8 286.8,700.8Z" fill="#5EFFA1"/>
<path d="M292,699.2 295.8,698.3 299.3,698.1 301.1,698.2 304.7,698.8 308.3,699.9 311.9,701.6 316,704.5 317.8,706.2 319.2,708 321.4,711.5 322.2,713.3 323.4,716.8 323.8,718.6 324.1,722.1 323.9,725.6 323.2,729.1 321.9,732.6 320.9,734.4 319.9,736.1 318.6,737.9 317,739.7 315,741.4 313.7,742.4 310.1,744.5 306.5,745.9 301.1,746.9 297.6,746.9 292.2,746 290.4,745.4 286.8,743.8 283.2,741.4 281.2,739.7 279.6,737.9 277.2,734.4 276.3,732.6 275,729.1 274.6,727.3 274.2,723.8 274.2,720.3 274.8,716.8 275.3,715 276.8,711.5 279,708 280.4,706.2 283.2,703.7 286.8,701.3 288.6,700.4Z" fill="#5AFFA5"/>
<path d="M290.4,700.1 295.8,698.7 299.3,698.5 302.9,698.8 306.5,699.7 308.3,700.3 311.9,702 315.5,704.7 318.7,708 320,709.8 321.8,713.3 322.9,716.8 323.4,718.6 323.8,722.1 323.5,725.6 322.2,730.9 320.5,734.4 318.1,737.9 315.5,740.5 313.7,741.9 310.1,744 306.5,745.4 304.7,745.9 299.3,746.6 294,746 292.2,745.6 288.6,744.3 285,742.2 281.8,739.7 278.8,736.1 276.7,732.6 275.4,729.1 275,727.3 274.5,723.8 274.5,722.1 274.8,718.6 275.2,716.8 276.4,713.3 278.3,709.8 281.4,705.9 285,702.9 286.8,701.7Z" fill="#56FFA9"/>
<path d="M295.5,699.2 299.3,698.8 304.7,699.6 306.5,700 310.1,701.5 313.7,703.7 315.5,705.2 317.3,707 319.5,709.8 320.5,711.5 322.1,715 323.2,720.3 323.3,723.8 322.4,729.1 321.8,730.9 320.1,734.4 317.5,737.9 315.5,739.9 311.9,742.6 308.3,744.4 304.7,745.6 302.9,745.9 299.3,746.3 295.8,746 294,745.7 290.4,744.6 288.6,743.9 285,741.8 283.2,740.4 281.4,738.7 279.3,736.1 278.1,734.4 276.4,730.9 275.4,727.3 275,725.6 274.8,722.1 275.2,718.6 275.6,716.8 276.8,713.3 278.7,709.8 280,708 283.2,704.7 286.8,702.2 290.4,700.5 292.2,699.9Z" fill="#52FFAD"/>
<path d="M288.6,701.6 294,699.8 295.8,699.5 299.3,699.2 302.9,699.5 304.7,699.9 306.5,700.4 310.1,701.9 313.7,704.1 315.5,705.6 317.3,707.5 320.1,711.5 321.7,715 322.2,716.8 322.9,720.3 323,723.8 322,729.1 320.6,732.6 318.5,736.1 315.5,739.4 311.9,742.2 308.3,744.1 302.9,745.6 299.3,745.9 295.8,745.7 290.4,744.2 286.8,742.5 282.9,739.7 281.1,737.9 279.7,736.1 278.5,734.4 276.8,730.9 275.4,725.6 275.2,722.1 275.6,718.6 276.5,715 277.2,713.3 279.1,709.8 282,706.2 285,703.8Z" fill="#4EFFB1"/>
<path d="M288.6,702 294,700.1 295.8,699.8 299.3,699.5 301.1,699.6 304.7,700.2 308.3,701.4 310.1,702.3 313.7,704.6 315.5,706.1 317.3,708 319.8,711.5 321.3,715 322.3,718.6 322.7,722.1 322.6,723.8 322.1,727.3 321.7,729.1 320.3,732.6 318.1,736.1 315.5,739 311.9,741.8 308.3,743.7 306.5,744.4 302.9,745.2 299.3,745.6 295.8,745.3 292.2,744.5 290.4,743.9 286.8,742.1 283.2,739.4 280.1,736.1 278.9,734.4 277.2,730.9 276.5,729.1 275.8,725.6 275.5,722.1 275.7,720.3 276.3,716.8 277.6,713.3 278.4,711.5 279.6,709.8 280.9,708 283.2,705.6 286.8,703Z" fill="#4AFFB5"/>
<path d="M292.1,701 295.8,700.1 299.3,699.8 301.1,699.9 304.7,700.6 308.3,701.7 310.1,702.6 313.7,705 316.9,708 319.4,711.5 320.3,713.3 321.6,716.8 322.2,720.3 322.3,723.8 321.8,727.3 321.3,729.1 319.9,732.6 317.7,736.1 316.2,737.9 314.3,739.7 310.1,742.5 306.5,744 304.7,744.5 301.1,745.2 297.6,745.2 294,744.7 292.2,744.2 288.6,742.7 285,740.5 283.2,739 281.4,737.2 279.3,734.4 278.3,732.6 276.9,729.1 276.4,727.3 275.9,723.8 276,720.3 276.6,716.8 277.2,715 278.8,711.5 281.4,708 283.2,706.1 285,704.6 288.6,702.4Z" fill="#46FFB9"/>
<path d="M293.2,701 297.6,700.2 301.1,700.2 302.9,700.5 306.5,701.4 310.1,703 313.7,705.3 315.5,707 317.3,709 320,713.3 321.2,716.8 321.7,718.6 322.1,722.1 321.8,725.6 321.5,727.3 320.4,730.9 318.5,734.4 315.5,738.1 311.9,741.1 308.3,743 304.7,744.3 302.9,744.6 299.3,745 295.8,744.7 292.2,743.9 288.6,742.4 286.8,741.4 285,740.1 283.2,738.6 280.9,736.1 278.6,732.6 277.2,729.1 276.7,727.3 276.2,723.8 276.1,722.1 276.5,718.6 277.5,715 279.2,711.5 281.7,708 285,705 286.8,703.7 288.6,702.7 290.4,701.9Z" fill="#42FFBD"/>
<path d="M294.5,701 297.6,700.5 299.3,700.4 302.9,700.8 306.5,701.7 308.3,702.4 311.9,704.4 313.7,705.7 315.5,707.4 317.5,709.8 318.7,711.5 320.4,715 321.4,718.6 321.8,722.1 321.5,725.6 320.7,729.1 320.1,730.9 318.2,734.4 315.3,737.9 311.9,740.7 308.3,742.7 304.7,744 302.9,744.3 299.3,744.7 295.8,744.4 294,744.1 290.4,742.9 286.8,741 283.2,738.2 281.3,736.1 280,734.4 278.2,730.9 277,727.3 276.5,723.8 276.4,722.1 276.8,718.6 277.3,716.8 278.6,713.3 280.7,709.8 283.2,706.9 285,705.3 286.8,704 290.4,702.2Z" fill="#3CFFC3"/>
<path d="M299.3,701 302.9,701.3 304.7,701.7 308.3,703 311.9,705 315.3,708 318.1,711.5 319.8,715 320.8,718.6 321.2,722.1 321.2,723.8 320.6,727.3 319.4,730.9 317.5,734.4 316.2,736.1 314.6,737.9 311.9,740.1 308.3,742.1 306.5,742.8 302.9,743.8 299.3,744.2 295.8,743.9 294,743.5 290.4,742.3 286.8,740.4 283.6,737.9 282,736.1 280.7,734.4 278.7,730.9 278.1,729.1 277.2,725.6 277,722.1 277.4,718.6 278.4,715 280.2,711.5 283.2,707.7 285,706 286.8,704.7 290.4,702.8 294,701.6 295.8,701.2Z" fill="#34FFCB"/>
<path d="M292,702.7 295.8,701.7 299.3,701.4 302.9,701.8 304.7,702.2 308.3,703.5 311.9,705.7 314.6,708 316.2,709.8 317.4,711.5 319.2,715 320.3,718.6 320.7,722.1 320.7,723.8 320.1,727.3 318.9,730.9 316.9,734.4 315.5,736.1 313.8,737.9 310.1,740.6 306.5,742.3 302.9,743.3 299.3,743.7 297.6,743.6 294,743 290.4,741.8 286.8,739.8 285,738.4 283.2,736.7 281.3,734.4 280.2,732.6 278.6,729.1 277.8,725.6 277.5,722.1 277.9,718.6 278.4,716.8 279.8,713.3 282,709.8 285,706.7 286.8,705.3 288.6,704.2Z" fill="#2CFFD3"/>
<path d="M293.6,702.7 297.6,702 301.1,702 302.9,702.3 306.5,703.3 310.1,705.1 313.7,707.8 315.5,709.8 317.9,713.3 319.3,716.8 320.1,720.3 320.2,723.8 319.6,727.3 318.4,730.9 317.4,732.6 316.3,734.4 314.9,736.1 311.9,738.8 308.3,741 304.7,742.4 302.9,742.8 299.3,743.2 295.8,742.9 292.2,742 288.6,740.3 285,737.7 281.9,734.4 279.9,730.9 278.6,727.3 278,723.8 278,722.1 278.4,718.6 279.5,715 280.3,713.3 281.4,711.5 282.6,709.8 284.2,708 286.8,705.9 290.4,703.8Z" fill="#24FFDB"/>
<path d="M295.7,702.7 299.3,702.4 302.9,702.8 306.5,703.8 310.1,705.6 311.9,706.9 313.7,708.4 316.3,711.5 318.2,715 319.3,718.6 319.8,722.1 319.7,723.8 319.1,727.3 317.8,730.9 315.7,734.4 313.7,736.7 311.9,738.2 310.1,739.5 306.5,741.3 302.9,742.3 299.3,742.7 295.8,742.4 294,742 290.4,740.8 286.8,738.6 284,736.1 282.5,734.4 281.3,732.6 279.6,729.1 278.7,725.6 278.4,722.1 278.9,718.6 280,715 281.9,711.5 283.2,709.8 284.9,708 286.8,706.5 288.6,705.3 292.2,703.6Z" fill="#1CFFE3"/>
<path d="M291.2,704.5 294,703.5 295.8,703.1 299.3,702.8 302.9,703.2 306.5,704.3 308.3,705.1 310.1,706.1 311.9,707.4 313.7,709.1 315.8,711.5 316.9,713.3 317.7,715 318.9,718.6 319.3,722.1 319,725.6 318.1,729.1 316.4,732.6 315.2,734.4 313.6,736.1 311.9,737.7 310.1,739 306.5,740.9 302.9,741.9 299.3,742.3 295.8,742 292.2,741 290.4,740.3 288.6,739.3 286.8,738.1 284.6,736.1 281.8,732.6 280.1,729.1 279.2,725.6 278.9,722.1 279.4,718.6 280.5,715 282.4,711.5 285,708.6 286.8,707 288.6,705.8Z" fill="#14FFEB"/>
<path d="M290.4,705.2 295.8,703.5 299.3,703.2 302.9,703.6 306.5,704.7 308.3,705.5 310.1,706.6 312,708 313.8,709.8 315.3,711.5 316.4,713.3 318,716.8 318.8,720.3 318.9,723.8 318.3,727.3 316.9,730.9 314.7,734.4 313.1,736.1 310.1,738.5 306.5,740.4 304.7,741.1 302.9,741.4 299.3,741.9 295.8,741.5 292.2,740.6 288.6,738.9 286.8,737.6 285.1,736.1 283.5,734.4 282.3,732.6 280.5,729.1 279.6,725.6 279.3,722.1 279.8,718.6 280.2,716.8 281.8,713.3 284.4,709.8 286.8,707.5Z" fill="#0CFFF3"/>
<path d="M292.2,704.9 295.8,703.9 297.6,703.6 301.1,703.6 302.9,704 306.5,705 310.1,707 311.9,708.4 314.8,711.5 316.9,715 318.1,718.6 318.6,722.1 318.5,723.8 317.9,727.3 316.5,730.9 314.2,734.4 311.9,736.7 308.3,739.2 304.7,740.7 301.1,741.4 297.6,741.4 294,740.9 290.4,739.4 286.8,737.1 284,734.4 281.7,730.9 280.3,727.3 279.7,723.8 279.8,720.3 280.6,716.8 282.2,713.3 283.4,711.5 284.9,709.8 286.8,708.1 288.6,706.7 290.4,705.7Z" fill="#04FFFB"/>
<path d="M292.2,705.2 297.6,704 301.1,704 304.7,704.8 306.5,705.4 310.1,707.4 311.9,708.8 314.4,711.5 316.6,715 317.7,718.6 318.2,722.1 317.9,725.6 316.9,729.1 316.1,730.9 315.1,732.6 312,736.1 310.1,737.6 308.3,738.8 304.7,740.4 302.9,740.8 299.3,741.2 295.8,740.9 294,740.5 290.4,739.1 288.6,737.9 286.2,736.1 284.4,734.4 283.2,732.6 282,730.9 280.6,727.3 280.2,725.6 280,722.1 280.4,718.6 281.7,715 282.6,713.3 283.8,711.5 286.8,708.4 288.6,707.1Z" fill="#00F7FF"/>
<path d="M291.4,706.2 294,705.2 297.6,704.6 301.1,704.6 304.7,705.4 308.3,707 311.9,709.7 313.6,711.5 314.9,713.3 315.9,715 316.6,716.8 317.1,718.6 317.6,722.1 317.3,725.6 316.3,729.1 314.4,732.6 311.9,735.4 310.1,737 306.5,739 302.9,740.2 299.3,740.7 295.8,740.3 292.2,739.2 290.4,738.4 288.6,737.3 286.8,735.9 283.8,732.6 281.9,729.1 280.9,725.6 280.6,722.1 281.1,718.6 282.3,715 284.5,711.5 286.1,709.8 288.6,707.8Z" fill="#00E7FF"/>
<path d="M292.7,706.2 295.8,705.3 299.3,705 302.9,705.4 306.5,706.6 308.3,707.6 310.1,708.8 311.9,710.4 314.3,713.3 316.1,716.8 316.9,720.3 317,723.8 316.4,727.3 315.7,729.1 314.9,730.9 312.3,734.4 310.1,736.3 306.5,738.5 302.9,739.6 299.3,740.1 295.8,739.7 292.2,738.7 288.6,736.7 286.8,735.2 284.4,732.6 282.5,729.1 281.5,725.6 281.1,722.1 281.6,718.6 282.1,716.8 282.9,715 283.9,713.3 285,711.9 286.9,709.8 288.6,708.4 290.4,707.3Z" fill="#00D7FF"/>
<path d="M294.1,706.2 297.6,705.5 301.1,705.6 304.7,706.4 306.5,707.1 308.3,708.1 310.1,709.4 311.9,711 313.7,713.3 314.8,715 316.1,718.6 316.6,722.1 316.3,725.6 315.2,729.1 314.3,730.9 311.9,734 310.1,735.7 308.3,737 304.7,738.7 301.1,739.5 297.6,739.5 294,738.9 290.4,737.3 288.6,736.1 286.8,734.6 285.1,732.6 283.9,730.9 282.3,727.3 281.7,723.8 281.8,720.3 282.6,716.8 283.4,715 284.5,713.3 285.8,711.5 287.6,709.8 290.4,707.8 292.2,706.9Z" fill="#00C7FF"/>
<path d="M295.9,706.2 299.3,705.9 302.9,706.4 306.5,707.6 308.3,708.6 310.1,709.9 311.8,711.5 313.2,713.3 314.3,715 315.1,716.8 316,720.3 316.1,723.8 315.4,727.3 314.7,729.1 312.6,732.6 310.1,735.2 308.3,736.5 306.5,737.5 302.9,738.8 299.3,739.2 295.8,738.9 294,738.4 290.4,736.8 287.2,734.4 285.6,732.6 284.4,730.9 283.5,729.1 282.3,725.6 282,722.1 282.6,718.6 283.9,715 285,713.3 286.8,711.1 288.6,709.5 290.4,708.3 292.2,707.4 294,706.7Z" fill="#00B7FF"/>
<path d="M291.8,708 294,707.1 297.6,706.4 301.1,706.4 304.7,707.3 308.3,709.1 310.1,710.5 311.9,712.3 313.8,715 314.6,716.8 315.2,718.6 315.7,722.1 315.7,723.8 315,727.3 314.3,729.1 313.3,730.9 311.9,732.8 310.1,734.6 308.3,736 306.5,737 302.9,738.3 299.3,738.8 295.8,738.5 294,738 292.2,737.3 290.4,736.3 287.8,734.4 286.1,732.6 283.9,729.1 282.8,725.6 282.5,722.1 282.6,720.3 283.6,716.8 285,714.1 287,711.5 288.9,709.8Z" fill="#00A7FF"/>
<path d="M292.8,708 295.8,707.1 299.3,706.7 302.9,707.2 304.7,707.7 306.5,708.5 308.3,709.6 310.7,711.5 312.2,713.3 313.3,715 314.2,716.8 314.8,718.6 315.3,722.1 315,725.6 314.5,727.3 312.9,730.9 311.6,732.6 309.8,734.4 306.5,736.6 302.9,737.9 299.3,738.4 297.6,738.3 294,737.5 290.9,736.1 288.4,734.4 286.6,732.6 285.3,730.9 284.4,729.1 283.2,725.6 282.9,722.1 283.4,718.6 284,716.8 284.9,715 286,713.3 287.5,711.5 290.4,709.2Z" fill="#0097FF"/>
<path d="M292.2,708.7 295.8,707.4 299.3,707.1 302.9,707.6 304.7,708.1 307.9,709.8 310.1,711.5 311.9,713.6 313.8,716.8 314.4,718.6 314.9,722.1 314.6,725.6 313.4,729.1 311.9,731.5 310.1,733.6 308.3,735.1 306.5,736.2 304.7,737 302.9,737.5 299.3,738 295.8,737.6 292.2,736.4 289,734.4 287.2,732.6 285.8,730.9 284.8,729.1 284.1,727.3 283.6,725.6 283.3,722.1 283.8,718.6 285,715.7 286.5,713.3 288.6,711.1 290.4,709.7Z" fill="#0087FF"/>
<path d="M295.2,708 297.6,707.5 301.1,707.6 304.7,708.5 306.5,709.4 309.6,711.5 311.2,713.3 312.5,715 314,718.6 314.5,722.1 314.2,725.6 313,729.1 311.9,730.9 310.5,732.6 308.3,734.6 305.7,736.1 302.9,737.1 299.3,737.6 295.8,737.3 292.5,736.1 290.4,734.9 288.6,733.5 286.3,730.9 285,728.5 284,725.6 283.7,722.1 283.8,720.3 284.9,716.8 285.8,715 287,713.3 288.6,711.6 290.4,710.2 292.2,709.1Z" fill="#0078FF"/>
<path d="M297.1,708 299.3,707.8 302.9,708.4 306.5,709.8 308.3,711 310.1,712.6 312,715 312.9,716.8 314,720.3 314.2,722.1 313.8,725.6 312.5,729.1 311.5,730.9 310,732.6 308.3,734.1 306.5,735.3 304.7,736.2 301.1,737.1 299.3,737.3 295.8,736.9 294,736.4 292.2,735.6 290.2,734.4 288.2,732.6 286.7,730.9 285.7,729.1 284.9,727.3 284.1,723.8 284,722.1 284.6,718.6 285.3,716.8 286.2,715 287.5,713.3 289.2,711.5 292.2,709.5 294,708.8Z" fill="#0068FF"/>
<path d="M292.6,709.8 295.8,708.6 297.6,708.3 299.3,708.2 302.9,708.7 305.6,709.8 308.3,711.5 310.2,713.3 311.9,715.7 313.2,718.6 313.6,720.3 313.8,722.1 313.4,725.6 312.1,729.1 311,730.9 309.5,732.6 306.5,734.9 303.6,736.1 301.1,736.7 299.3,736.9 295.8,736.5 294,735.9 292.2,735.1 290.4,734 288.6,732.5 287.2,730.9 286.1,729.1 285,726.2 284.5,723.8 284.4,722.1 285,718.6 285.7,716.8 286.6,715 288,713.3 290.4,711.1Z" fill="#0058FF"/>
<path d="M293.5,709.8 295.8,709 299.3,708.6 302.9,709.1 304.7,709.8 307.8,711.5 309.7,713.3 311.1,715 312.1,716.8 312.8,718.6 313.4,722.1 313.3,723.8 312.5,727.3 311.7,729.1 310.5,730.9 308.9,732.6 306.6,734.4 304.7,735.3 302.2,736.1 299.3,736.5 295.9,736.1 294,735.5 291.6,734.4 289.3,732.6 287.7,730.9 286.8,729.5 285.7,727.3 285,724.4 284.8,722.1 285,720.3 286.1,716.8 287.1,715 288.6,713.2 290.4,711.5Z" fill="#0048FF"/>
<path d="M294.6,709.8 297.6,709.1 299.3,709 302.9,709.5 304.7,710.2 307.1,711.5 309.2,713.3 310.6,715 311.9,717.5 312.8,720.3 313,722.1 312.6,725.6 312.1,727.3 310.1,730.7 308.4,732.6 306.5,734 304.7,734.9 301.1,736 299.3,736.1 297.6,736 294,735.1 292.2,734.3 289.9,732.6 288.2,730.9 287,729.1 286.1,727.3 285.3,723.8 285.2,722.1 285.9,718.6 286.5,716.8 288.6,713.8 290.4,712.1 292.2,710.8Z" fill="#0038FF"/>
<path d="M295.9,709.8 299.3,709.4 301.1,709.5 302.9,709.9 306.4,711.5 308.3,713 310.1,715 312,718.6 312.6,722.1 312.5,723.8 311.9,726.5 310.8,729.1 309.5,730.9 307.7,732.6 305,734.4 302.9,735.1 299.3,735.7 297.6,735.6 294,734.7 292.2,733.8 290.4,732.6 288.6,730.7 286.8,727.8 286,725.6 285.7,723.8 285.6,722.1 285.8,720.3 286.8,717.3 288.1,715 289.6,713.3 291.8,711.5 294,710.4Z" fill="#0028FF"/>
<path d="M299.3,709.8 301.1,709.9 304.7,711.1 306.5,712.1 308.3,713.6 309.6,715 310.7,716.8 311.9,720.2 312.2,722.1 311.9,724.8 311.2,727.3 310.1,729.3 308.3,731.5 306.5,733 303.9,734.4 301.1,735.1 299.3,735.3 297.6,735.2 294.2,734.4 292.2,733.3 290.4,732 288.6,730 287,727.3 286.4,725.6 286.1,723.8 286,722.1 286.7,718.6 287.5,716.8 288.5,715 290.2,713.3 292.2,711.8 294,710.9 297.6,709.9Z" fill="#0018FF"/>
<path d="M293.5,711.5 295.8,710.7 297.6,710.3 299.3,710.2 302.9,710.8 304.8,711.5 307.3,713.3 309,715 310.1,716.6 311,718.6 311.5,720.3 311.7,722.1 311.7,723.8 311.3,725.6 310.7,727.3 309.7,729.1 308.3,730.9 306.4,732.6 302.9,734.3 301.1,734.7 299.3,734.9 295.8,734.5 294,733.8 291.9,732.6 289.8,730.9 288.4,729.1 287.5,727.3 286.8,725.1 286.5,722.1 286.8,720 288,716.8 289.2,715 290.8,713.3Z" fill="#0008FF"/>
<path d="M294.7,711.5 297.6,710.8 299.3,710.7 301.1,710.9 303.5,711.5 306.7,713.3 308.5,715 310.1,717.7 311,720.3 311.2,722.1 311.1,723.8 310.2,727.3 309.1,729.1 307.7,730.9 304.7,733 302.9,733.8 300.2,734.4 297.6,734.4 295.8,733.9 292.7,732.6 290.4,730.9 289,729.1 288,727.3 287,723.8 286.9,722.1 287.2,720.3 287.7,718.6 288.6,716.7 290.4,714.4 292.2,712.9Z" fill="#0000F7"/>
<path d="M296.4,711.5 299.3,711.2 301.1,711.4 302.9,711.8 305.7,713.3 308.3,715.7 310,718.6 310.5,720.3 310.7,722.1 310.6,723.8 310.3,725.6 309.6,727.3 308.6,729.1 307,730.9 304.7,732.5 301.1,733.7 299.3,733.9 297.6,733.8 295.8,733.4 294,732.7 292.2,731.6 290.4,730 288.6,727.3 287.6,723.8 287.5,722.1 287.7,720.3 288.3,718.6 289.1,716.8 290.4,715 292.2,713.5 294,712.4Z" fill="#0000E7"/>
<path d="M293.5,713.3 295.8,712.2 297.6,711.8 299.3,711.7 301.1,711.9 302.9,712.4 304.7,713.3 307,715 308.4,716.8 309.4,718.6 310,720.3 310.2,722.1 310.1,723.8 309.7,725.6 309,727.3 307.9,729.1 306.5,730.5 304.7,731.8 302.9,732.7 301.1,733.2 299.3,733.4 297.6,733.2 295.8,732.8 294,732.1 292.1,730.9 290.4,729.1 289.2,727.3 288.5,725.6 288.1,723.8 288,722.1 288.6,719.4 288.8,718.6 290.4,716 292.2,714.2Z" fill="#0000D7"/>
<path d="M294,713.6 297.6,712.4 299.3,712.2 301.1,712.5 302.9,713 304.7,713.9 306.5,715.4 307.8,716.8 308.8,718.6 309.4,720.3 309.7,722.1 309.6,723.8 309.2,725.6 308.3,727.3 306.5,729.7 304.7,731.2 302.9,732.1 301.1,732.6 299.3,732.8 297.6,732.7 295.8,732.3 294,731.5 292.2,730.2 291,729.1 289.8,727.3 289,725.6 288.7,723.8 288.6,722.1 288.8,720.3 289.4,718.6 290.4,716.8 292,715Z" fill="#0000C7"/>
<path d="M294,714.2 297.6,712.9 299.3,712.8 301.1,713 302.9,713.5 304.7,714.5 307.1,716.8 308.2,718.6 308.8,720.3 309.1,722.1 309.1,723.8 308.6,725.6 307.8,727.3 306.4,729.1 304.7,730.6 302.9,731.6 301.1,732.2 299.3,732.4 297.6,732.2 295.8,731.8 294,730.8 291.8,729.1 290.4,727.3 289.6,725.6 289.1,723.8 289,722.1 289.3,720.3 290,718.6 291,716.8 292.2,715.6Z" fill="#0000B7"/>
<path d="M293.6,715 295.8,713.8 297.6,713.4 299.3,713.3 301.1,713.4 302.9,714 304.7,715.1 306.5,716.8 307.7,718.6 308.3,720.3 308.6,722.1 308.5,723.8 308.1,725.6 307.3,727.3 305.8,729.1 304.7,730 302.9,731 301.1,731.7 299.3,732 297.6,731.8 295.8,731.3 294,730.4 292.4,729.1 290.9,727.3 290.1,725.6 289.6,723.8 289.5,722.1 289.8,720.3 290.5,718.6 291.6,716.8Z" fill="#0000A7"/>
<path d="M294.3,715 295.8,714.2 297.6,713.7 299.3,713.5 301.1,713.8 302.9,714.4 304.7,715.5 306.1,716.8 307.3,718.6 308,720.3 308.2,722.1 308.2,723.8 307.8,725.6 306.7,727.3 304.7,729.5 302.9,730.7 301.1,731.3 299.3,731.5 297.6,731.4 295.8,730.8 294,729.9 293,729.1 291.4,727.3 290.5,725.6 290.1,723.8 289.9,722.1 290.3,720.3 290.9,718.6 292.2,716.8Z" fill="#000097"/>
<path d="M294,715.5 297.6,713.9 299.3,713.8 301.1,714.1 304.7,716 305.6,716.8 306.8,718.6 307.7,720.3 308,722.1 307.9,723.8 307.4,725.6 306.4,727.3 304.7,729 302.9,730.4 299.3,731.1 295.8,730.6 293.5,729.1 291.9,727.3 290.8,725.6 290.4,723.8 290.4,722.1 290.6,720.3 291.2,718.6 292.6,716.8Z" fill="#000087"/>
<path d="M294,715.9 297.6,714.2 299.3,714.1 301.1,714.4 302.9,715.2 304.7,716.4 306.5,718.6 307.4,720.3 307.8,722.1 307.7,723.8 307.1,725.6 306.1,727.3 304.7,728.8 302.9,730.1 301.1,730.6 299.3,730.8 297.6,730.7 295.8,730.3 294,729 292.3,727.3 291,725.6 290.7,723.8 290.8,720.3 291.6,718.6 292.9,716.8Z" fill="#000080"/>
</g></g>
<rect x="161.4" y="589.1" width="274.1" height="267.7" fill="none" stroke="#262626" stroke-width="2.2"/><path d="M167.58,589.1v3.9 M167.58,856.8v-3.9M254.83,589.1v3.9 M254.83,856.8v-3.9M298.45,589.1v3.9 M298.45,856.8v-3.9M342.07,589.1v3.9 M342.07,856.8v-3.9M429.32,589.1v3.9 M429.32,856.8v-3.9M161.4,850.77h3.9 M435.5,850.77h-3.9M161.4,765.56h3.9 M435.5,765.56h-3.9M161.4,722.95h3.9 M435.5,722.95h-3.9M161.4,680.34h3.9 M435.5,680.34h-3.9M161.4,595.13h3.9 M435.5,595.13h-3.9" stroke="#262626" stroke-width="2" fill="none"/>
<clipPath id="hbc"><rect x="557.00" y="589.10" width="271.90" height="267.70"/></clipPath>
<g clip-path="url(#hbc)"><g filter="url(#hb)">
<rect x="551.0" y="583.1" width="283.9" height="279.7" fill="#80FF80"/>
<path d="M651.5,583.1 735.3,583.1 736.7,592.8 741.9,623.6 744.9,639.4 745.4,644.7 746.1,657 747.1,660.5 748,662.3 749.1,664 751,666.1 752.8,667.6 755.5,669.3 758.1,670.3 759.9,670.7 772.4,671.3 777.8,671.9 793.8,674.8 824.7,679.9 834.9,681.3 834.9,763.8 820.6,765.9 795.6,770 783.1,772.4 777.8,773.2 772.4,773.8 759.9,774.4 758,774.8 754.6,776.3 752.8,777.5 751,779 749.2,781 747.5,783.6 746.3,787.2 745.9,790.7 745.4,801.2 744.8,806.5 741.7,822.3 736.7,852.2 735.2,862.8 651.6,862.8 649.2,847 645,822.3 642.3,808.3 641.4,801.2 640.9,790.7 640.5,787.2 640,785.4 639.3,783.6 638.3,781.9 636.7,779.9 634.9,778.2 632.7,776.6 629.6,775.1 627.8,774.6 624.2,774.2 613.5,773.7 606.4,772.8 592.1,770.2 567.1,766 551,763.7 551,681.4 562.1,679.9 592.1,674.9 608.1,672 613.5,671.4 624.2,670.9 627.8,670.5 631.3,669.3 634.1,667.5 636.2,665.8 637.7,664 638.8,662.3 640.3,659 640.7,657 641.4,644.7 642.2,637.6 645.2,621.8 649.4,597.2Z" fill="#85FF7A"/>
<path d="M661.4,583.1 725.4,583.1 727.8,595.4 730.8,609.5 733.3,621.8 735.8,632.4 736.8,637.6 737.5,642.9 737.9,651.7 738.6,657 740.1,662.3 741.7,665.8 743.8,669.1 745.6,671.1 749.2,673.9 752.8,675.8 756.3,677.1 759.9,678 765.3,678.7 774.2,679.1 781.3,680.1 795.6,683.3 808.1,685.7 822.4,688.7 834.9,691 834.9,754.1 826,755.7 793.8,762.2 779.5,765.3 774.2,766 765.3,766.3 761.7,766.8 758.1,767.5 754.6,768.6 751,770.1 747.4,772.5 745.6,774 743.4,776.6 741.3,780.1 739.8,783.6 738.8,787.2 738,792.4 737.6,801.2 736.7,808.3 733.5,822.3 731,834.7 727.6,850.5 725.3,862.8 661.5,862.8 659.5,852.2 655.4,832.9 653.3,822.3 650.1,808.3 649.2,801.2 648.8,792.4 647.9,787.2 647,783.6 645.6,780.3 643.8,777.2 642,774.8 640.2,773.1 638.5,771.8 634.9,769.6 631.3,768.3 627.8,767.3 622.4,766.4 613.5,766 606.4,765.2 592.1,762 581.4,760 561.7,755.9 551,753.9 551,691.2 563.5,688.9 579.6,685.5 592.1,683.1 606.4,679.9 613.5,679 622.4,678.7 627.8,677.8 631.3,676.8 634.9,675.4 638.5,673.3 641.2,671.1 643.8,667.8 645.1,665.8 646.7,662.3 647.8,658.7 648.5,655.2 648.9,651.7 649.3,642.9 650,637.6 653.1,623.6 655.6,611.2 659.7,591.9Z" fill="#89FF76"/>
<path d="M661.3,613 669,583.1 717.8,583.1 720.4,593.7 725.1,611.2 727.9,623.6 731.2,635.9 732.1,641.2 733.5,653.5 735.2,662.3 736.1,665.8 738.6,672.8 740.3,675.4 742.1,677 743.8,678.1 745.6,678.7 751,680.4 755.4,681.6 763.5,683 776,684.4 781.3,685.3 793.8,688.5 806.3,691.4 824.2,695.9 834.9,698.5 834.9,746.6 804.5,754.2 793.8,756.6 781.3,759.8 776,760.7 761.7,762.3 754.6,763.7 746.5,766 743.8,767.1 742.1,768.1 740.3,769.6 739.1,771.3 738.2,773.1 735.9,780.1 735,783.6 733.7,790.7 732,804.7 731,810 727.7,822.3 725.3,832.9 720.7,850.5 717.6,862.8 669.2,862.8 666.6,852.2 662,834.7 659.1,822.3 655.8,810 654.8,804.7 652.9,788.9 651.4,781.9 649.2,774.8 647.7,771.3 646.4,769.6 644.3,767.8 640.3,766 634.6,764.3 631.3,763.5 624.2,762.2 609.9,760.6 604.6,759.6 592.1,756.4 581.4,754 561.7,749 551,746.4 551,698.7 563.5,695.7 581.4,691.1 592.1,688.7 604.6,685.5 609.9,684.5 624.2,682.9 633.1,681.2 642.8,678.1 645.6,676.4 647.2,674.6 648.9,671.1 651.6,662.3 653,655.2 654.7,641.2 655.6,635.9 658.9,623.6Z" fill="#8DFF72"/>
<path d="M668.1,607.7 676.3,583.1 710.5,583.1 718.8,608 723.2,623.6 726.5,634.1 728.7,644.7 731.6,664 734,672.8 735.3,676.3 736.7,678.5 738.5,680.2 740.3,681.3 742.1,682 752.8,684.9 772.4,687.7 783.1,689.9 793.8,693.2 809.5,697.4 834.9,705.6 834.9,739.5 809.9,747.5 793.8,751.9 783.1,755.2 777.8,756.4 772.4,757.3 752.8,760.2 743.8,762.5 742.1,763.1 739.5,764.3 738.5,765 736.7,766.6 734.9,769.5 734.3,771.3 731.8,780.1 728.6,801.2 727.2,808.3 726.3,811.8 723,822.3 718.8,837.1 710.3,862.8 676.5,862.8 667.8,836.4 663.8,822.3 660.1,810 657.9,799.5 655.3,781.9 654.6,778.4 653.1,773.1 651.9,769.6 651,767.8 649.2,765.7 647.4,764.3 645.6,763.4 643.2,762.5 636.7,760.8 631.3,759.8 611.7,756.9 602.8,754.9 592.1,751.7 577.8,747.8 551,739.2 551,705.9 577.3,697.4 592.1,693.4 604.6,689.7 615.3,687.6 633.1,685.1 642.1,682.9 645.6,681.7 647.4,680.8 649.2,679.4 650.4,678.1 651.5,676.3 652.8,673.2 654.8,665.8 655.8,660.5 658.4,642.9 660.3,634.1 663.6,623.6Z" fill="#91FF6E"/>
<path d="M683.1,587 685.8,583.1 701.1,583.1 702.8,585.5 706.3,591.9 710.6,600.7 714.3,609.5 723.3,635.9 725.6,644.7 726.8,651.7 728.1,662.3 731.1,674.6 732.3,678.1 733.1,679.9 734.9,682.1 736.6,683.4 738.5,684.3 742.1,685.4 754.6,688.3 765.3,689.7 772.4,690.8 777.8,692.1 784.9,694.2 793.8,697.3 805.3,701 814.5,704.5 822.4,708 829.5,711.5 832.5,713.3 834.9,714.9 834.9,730.2 831.2,732.6 824.4,736.1 816.7,739.7 808,743.2 802.8,745 793.8,747.8 783.1,751.5 777.8,753 772.4,754.3 752.8,757.1 747.4,758.6 740.3,760.2 738.5,760.8 736.7,761.7 734.9,763 733.8,764.3 732.7,766 731.4,769.6 728.3,781.9 726.4,796 725,803 723.1,810 718.7,822.3 715.9,831.1 712.5,839.9 708.1,849.6 704.6,856.6 702.8,859.6 700.4,862.8 686.4,862.8 684.9,860.9 683.1,858.2 679.6,851.4 676,843.9 672.4,835.3 670.3,829.4 668.1,822.3 664.3,811.8 662.7,806.5 661.4,801.2 660.4,796 658.5,781.9 655.4,769.6 654.1,766 652.8,764 651.3,762.5 649.2,761.2 647.4,760.5 634.9,757.3 631.3,756.6 615.3,754.5 608.1,752.8 601,750.6 592.1,747.5 581.4,744.1 570,739.7 558.9,734.4 555.6,732.6 552.8,730.9 551,729.5 551,715.6 554.3,713.3 557.3,711.5 564.4,708 572.3,704.5 579.6,701.6 592.1,697.6 604.6,693.4 613.5,691 620.6,689.8 631.3,688.5 645.6,685.2 649.2,683.9 651,682.8 652.3,681.6 653.7,679.9 654.6,678.1 655.7,674.6 656.8,669.3 658.1,664.8 658.7,662.3 660.3,649.9 661.2,644.7 662.5,639.4 664.6,632.4 667.8,623.6 671.2,613 674.2,605.3 679.6,593.7Z" fill="#95FF6A"/>
<path d="M688.5,595.4 690.3,594.4 692.1,593.8 693.8,593.7 695.6,594.1 697.4,594.9 699.2,596.1 701,597.7 704.6,602 707.1,606 709.9,611.2 712.2,616.5 714.9,623.6 719.4,634.1 721.4,639.4 723.2,646.4 725.5,662.3 727.5,669.3 729.1,678.1 729.7,679.9 730.5,681.6 731.6,683.4 733.1,684.8 734.9,686 736.7,686.8 738.5,687.4 747.4,689 752.8,690.5 756.3,691.3 768.8,692.9 776,694.5 783.1,696.9 793.8,701.4 802.2,704.5 809.8,708 813,709.8 818.1,713.3 820.2,715 821.8,716.8 823.1,718.6 823.9,720.3 824.2,722.1 824.1,723.8 823.6,725.6 822.6,727.3 821.1,729.1 819.3,730.9 814.5,734.4 811.6,736.1 804.5,739.7 793.8,743.7 783.1,748.2 776,750.6 768.8,752.2 756.3,753.8 747.4,756.1 738.5,757.7 734.9,759 732.6,760.8 731,762.5 730.1,764.3 728.9,767.8 727.3,776.6 725.3,783.6 723.4,797.7 721.7,804.7 719.8,810 714.6,822.3 711.7,829.8 708.1,837.3 705.5,841.7 702.8,845.4 701,847.4 699.2,849 697.4,850.2 695.6,851 693.8,851.4 692.1,851.3 690.3,850.7 688.5,849.7 686.7,848.3 684.9,846.5 683.1,844.3 679.6,838.8 675.7,831.1 672.2,822.3 667.7,811.8 665.1,804.7 664.2,801.2 663.4,797.7 661.5,783.6 659.1,774.8 657.9,767.8 656.7,764.3 655.7,762.5 654.6,761.1 651.8,759 649.2,758 647.4,757.5 640.3,756.3 631.3,754 617.1,752.1 613.5,751.3 609.9,750.4 602.8,747.9 592.1,743.4 582.3,739.7 575.2,736.1 569.7,732.6 567.5,730.9 565.7,729.1 564.2,727.3 563.2,725.6 562.7,723.8 562.6,722.1 562.9,720.3 563.7,718.6 565,716.8 566.6,715 568.7,713.3 572.4,710.6 577,708 584.6,704.5 592.1,701.7 604.6,696.5 609.9,694.7 617.1,693 631.3,691.1 638.5,689.2 647.4,687.6 651,686.5 652.8,685.5 654.6,684 656.4,681.6 657.7,678.1 659.3,669.3 661.7,660.5 663,649.9 664,644.7 664.9,641.2 666.7,635.9 671.9,623.6 675.3,614.8 678.8,607.7 681.3,603.3 683.1,600.8 684.9,598.6 686.7,596.8Z" fill="#99FF66"/>
<path d="M688.4,606 690.3,605 692.1,604.5 693.8,604.4 695.6,604.7 697.4,605.4 699.2,606.5 701,608 702.4,609.5 704.6,612.2 706.3,615 708.1,618.2 710.7,623.6 716.4,634.1 719.2,641.2 720.3,644.7 721,648.2 722.2,657 722.8,660.5 725.2,669.3 726.2,676.3 727,679.9 727.6,681.6 728.6,683.4 729.9,685.1 731.3,686.6 733.1,687.8 734.9,688.8 738.5,689.9 747.4,691.2 752.8,692.7 758.1,693.9 767,695.1 772.4,696.1 777.8,697.7 781.7,699.2 785.5,701 793.8,705.4 799.2,708 802.6,709.8 805.4,711.5 808.1,713.6 809.7,715 811.2,716.8 812.3,718.6 813.1,720.3 813.4,722.1 813.3,723.8 812.8,725.6 811.9,727.3 810.6,729.1 808.8,730.9 806.7,732.6 804.1,734.4 801.1,736.1 795.6,738.8 783.1,745.3 777.8,747.4 772.4,749 767,750 758.1,751.2 754.4,752 747.4,753.9 738.5,755.2 736.7,755.6 733.1,757.2 730.8,759 729.3,760.8 728.1,762.5 726.8,766 725.4,774.8 723.5,781.9 722.4,786.6 721.1,796 720.5,799.5 719,804.7 716.9,810 714.2,815.3 710.3,822.3 707.7,827.6 704.6,832.9 702.8,835.2 701,837.1 699.2,838.6 697.4,839.7 695.6,840.4 693.8,840.7 692.1,840.6 690.3,840.1 688.5,839.2 686.7,837.9 685.2,836.4 683.1,834.1 681.3,831.5 679.6,828.5 676.5,822.3 672.4,815 669.9,810 667.8,804.7 666.3,799.5 665.7,796 664.5,787.2 663.5,782.5 661.4,774.8 660.1,766 658.7,762.5 657.5,760.8 656.3,759.4 654.6,757.9 652.8,756.7 649.2,755.4 640.3,754.1 632.4,752 627.8,751 618.9,749.9 615.3,749.2 609.9,747.7 604.6,745.7 599.4,743.2 592.1,739.2 585.7,736.1 582.7,734.4 580.1,732.6 577.8,730.7 576.2,729.1 574.9,727.3 574,725.6 573.5,723.8 573.4,722.1 573.7,720.3 574.5,718.6 575.6,716.8 577.1,715 579.1,713.3 581.4,711.5 586.7,708.4 592.1,705.9 599.2,702 604.6,699.4 609.9,697.4 615.3,695.9 618.9,695.2 628.7,693.9 633.1,692.9 640.3,691 649.2,689.7 652.8,688.4 654.6,687.3 656.3,685.7 658.2,683.4 659.1,681.6 659.9,679.5 661.6,669.3 663.5,662.6 664.3,658.7 666.1,646.4 667.6,641.2 668.8,637.6 672.1,630.6 676.1,623.6 679.6,616.6 681.3,613.6 683.1,611 684.9,608.9 686.7,607.2Z" fill="#9DFF62"/>
<path d="M688.6,614.8 690.3,613.9 692.1,613.4 693.8,613.3 695.6,613.6 697.4,614.3 699.2,615.4 701,617 702.8,618.9 708.1,625.8 711.7,630.9 713.5,634 716,639.4 717.8,644.7 718.6,648.2 720.3,658.7 723.2,669.3 724,676.3 724.7,679.9 726.3,683.4 727.5,685.1 729.6,687.4 731.3,689 733.1,690.1 736.7,691.7 740.3,692.4 747.4,693.2 758.1,696.1 770.6,698.1 776,699.6 781.3,701.8 784.9,703.6 789.1,706.2 798.6,713.3 800.6,715 802.2,716.8 803.3,718.6 804.1,720.3 804.4,722.1 804.3,723.8 803.8,725.6 802.8,727.3 801.5,729.1 799.7,730.9 792.9,736.1 787.9,739.7 785,741.4 781.3,743.3 776,745.5 770.6,747 758.1,749.1 747.4,751.9 740.3,752.7 736.7,753.4 733.1,755 729.6,757.6 727.8,759.6 726,762.3 724.5,766 724.1,767.8 723.3,774.8 720.5,785.4 718,799.5 716.4,804.7 714.9,808.3 713.1,811.8 709.9,816.8 702.8,826.2 701,828.1 699.2,829.7 697.4,830.8 695.6,831.5 693.8,831.8 692.1,831.7 690.3,831.2 688.5,830.3 686.7,828.9 684.9,827.2 679.6,820.4 676,815.5 673.7,811.8 671.9,808.3 669.8,803 668.8,799.5 666.7,787.2 663.5,774.8 662.7,767.8 662.3,766 661.8,764.3 660.9,762.5 659.9,760.8 658.1,758.5 656.3,756.8 654.6,755.5 651.1,753.7 649.2,753.1 647.4,752.8 640.3,752 627.8,748.9 615.3,746.8 609.9,745.2 605.1,743.2 601,740.9 596.3,737.9 587.1,730.9 585.3,729.1 584,727.3 583,725.6 582.5,723.8 582.4,722.1 582.7,720.3 583.5,718.6 584.6,716.8 586.2,715 588.2,713.3 597.7,706.2 602.8,703.1 606.4,701.4 609.9,699.9 615.3,698.3 627.8,696.2 640.3,693.1 647.4,692.3 649.2,692 651,691.4 653.2,690.4 655.8,688.6 657.8,686.9 660.5,683.4 662.1,679.9 662.8,676.3 663.6,669.3 666.5,658.7 668.6,646.4 669.5,642.9 671.5,637.6 674.2,632.4 677.8,627 684.9,617.9 686.7,616.2Z" fill="#A1FF5E"/>
<path d="M686.7,623.1 690.3,621.3 692.1,620.9 693.8,620.8 695.6,621.1 699.2,622.6 702.8,625.1 706.3,628.5 709.5,632.4 711.7,635.8 714.2,641.2 715.9,646.4 718.3,658.7 721.2,669.3 721.9,676.3 722.7,679.9 724.2,683.3 725.5,685.1 726.9,686.9 729.6,689.5 733.1,692.1 736.7,693.7 740.3,694.5 747.4,695.2 758.1,698 770.6,700.4 776,702 779.5,703.5 784.9,706.7 788.8,709.8 790.7,711.5 792.3,713.3 794.9,716.8 796.5,720.3 796.8,722.1 796.7,723.8 796.2,725.6 795.4,727.3 794.4,729.1 791.6,732.6 787.9,736.1 785.7,737.9 783,739.7 779.9,741.4 775.8,743.2 770.6,744.7 759.8,746.7 747.4,749.9 740.3,750.6 736.7,751.4 734.9,752.1 732,753.7 729.6,755.6 727.8,757.3 726.2,759 724.2,761.9 723,764.3 722.4,766 721.8,769.6 721.4,774.8 721,776.6 718.1,787.2 715.7,799.5 713.9,804.7 712.3,808.3 710.1,811.8 708.1,814.5 706.3,816.6 702.8,820 701,821.4 697.4,823.4 695.6,824 693.8,824.3 692.1,824.2 690.3,823.8 688.5,823 686.7,821.9 683.1,819.2 679.6,815.6 677.8,813.3 676,810.8 674.2,807.6 672.2,803 671.1,799.5 668.7,787.2 665.8,776.6 665.4,774.8 665,769.6 664.4,766 663.5,763.6 661.9,760.8 659,757.3 656.3,754.8 654.6,753.5 651.6,752 649.2,751.1 645.6,750.5 640.3,750.1 638.5,749.8 627.8,746.9 615.3,744.5 611,743.2 606.4,741.1 603.8,739.7 601.1,737.9 598.9,736.1 595.2,732.6 592.4,729.1 591.3,727.3 590.6,725.6 590.1,723.8 590.1,722.1 590.3,720.3 591,718.6 593.1,715 594.5,713.3 598,709.8 600.1,708 602.8,706.1 606.4,704 609.9,702.3 615.3,700.6 627.8,698.2 638.5,695.3 640.3,695 647.4,694.3 649.2,694 651,693.4 653.6,692.2 656.3,690.3 658.2,688.6 659.9,686.9 661.7,684.6 663.5,681.6 664.1,679.9 664.9,676.3 665.6,669.3 668.8,657.3 671.4,644.7 673.3,639.4 676,634.3 679.6,629.5 681.3,627.6 684.9,624.4Z" fill="#A5FF5A"/>
<path d="M687.9,627.1 690.3,626.2 692.1,625.8 693.8,625.8 695.6,626 697.4,626.4 699.2,627.2 701,628.2 704.6,630.9 707.5,634.1 709.9,637.6 711.8,641.2 713.5,646.4 716.4,658.7 719.3,669.3 720.1,676.3 720.8,679.9 722.4,683.3 723.6,685.1 725.1,686.9 729.6,691.3 733.1,693.9 736.7,695.5 740.3,696.3 745.6,696.8 749.2,697.4 758.1,699.9 772.4,703.2 776,704.4 777.8,705.2 779.6,706.2 783.1,708.6 786.4,711.5 788,713.3 789.2,715 791,718.6 791.5,720.3 791.7,722.1 791.6,723.8 791.3,725.6 789.8,729.1 788.7,730.9 785.6,734.4 783.6,736.1 781.2,737.9 778.2,739.7 776,740.7 772.4,741.9 758.1,745.2 749.2,747.7 747.4,748.1 740.3,748.8 736.7,749.6 734.9,750.3 731.3,752.4 729.6,753.8 726,757.3 724.4,759 722.4,761.8 721.2,764.3 720.6,766 720,769.6 719.2,776.6 716.6,785.4 713.3,799.5 712.2,803 710.5,806.5 708.3,810 706.8,811.8 704.6,814.2 702.8,815.7 699.2,817.9 695.6,819.1 693.8,819.3 692.1,819.3 688.5,818.3 684.9,816.3 683.1,815 680,811.8 677.8,808.9 676.3,806.5 674.6,803 673.5,799.5 670.6,787.2 667.6,776.6 666.9,769.6 666.2,766 665.3,763.5 663.7,760.8 662.4,759 659.9,756.4 657.1,753.7 654.9,752 652.8,750.7 651,749.9 647.4,748.9 638.5,747.9 627.8,745 615.3,742.2 611.7,741 608.1,739.4 605.6,737.9 602.8,735.8 599.5,732.6 598.1,730.9 596.1,727.3 595.5,725.6 595.2,723.8 595.1,722.1 595.3,720.3 596.5,716.8 598.8,713.3 600.4,711.5 602.8,709.3 604.6,707.9 608.1,705.7 611.7,704.1 615.3,702.9 629.6,699.7 638.5,697.2 645.6,696.4 649.5,695.7 652.8,694.4 654.6,693.4 656.3,692.1 660,688.6 661.7,686.9 663.5,684.7 665.3,681.6 666,679.9 666.7,676.3 667.2,671.1 667.9,667.5 670.4,658.7 673.8,644.7 675,641.2 676,639.2 677.8,636.2 680.8,632.4 683.1,630.1 684.9,628.8Z" fill="#A9FF56"/>
<path d="M686.7,631.4 690.3,630 692.1,629.7 693.8,629.6 695.6,629.8 697.4,630.2 699.2,631 701,632 702.8,633.2 704.6,634.8 706.3,636.8 708.1,639.4 709.9,642.8 711.2,646.4 717.1,667.5 717.8,671.1 718.3,676.3 719.2,679.9 720.6,683.1 722,685.1 725.1,688.6 729.6,692.9 733.1,695.5 736.7,697.2 740.3,698 745.6,698.5 749.2,699.2 770.6,705 776,707 777.8,708 780.4,709.8 782.4,711.5 784.1,713.3 785.4,715 786.4,716.8 787.1,718.6 787.6,720.3 787.8,722.1 787.8,723.8 787.4,725.6 786.8,727.3 786,729.1 784.8,730.9 783.4,732.6 781.3,734.6 779.3,736.1 776.3,737.9 774.2,738.9 770.6,740.1 749.2,745.9 747.4,746.3 740.3,747.1 736.7,747.9 734.9,748.6 731.3,750.7 729.6,752.2 724.3,757.3 722.7,759 720.6,762 719.5,764.3 718.9,766 718.2,769.6 717.4,776.6 711.5,797.7 710.3,801.2 708.7,804.7 706.3,808.3 704.6,810.3 702.8,811.9 701,813.1 699.2,814.1 697.4,814.9 695.6,815.3 693.8,815.5 692.1,815.4 690.3,815.1 688.5,814.5 686.7,813.7 684.9,812.5 683.1,811.1 681.3,809.3 679.6,807.1 678.1,804.7 676.5,801.2 675.3,797.7 669.4,776.6 668.3,767.8 667.3,764.3 665.3,760.6 664,759 660.7,755.5 656.3,751.4 654.6,750.1 651,748.2 647.4,747.3 638.5,746.2 617.1,740.4 613.5,739.2 609.9,737.6 607.5,736.1 605.2,734.4 603.4,732.6 602,730.9 600.8,729.1 600,727.3 599.4,725.6 599,723.8 599,722.1 599.2,720.3 599.7,718.6 600.4,716.8 601.4,715 602.7,713.3 604.4,711.5 606.4,709.8 609.9,707.5 613.5,705.9 617.1,704.7 638.5,699 647.4,697.8 651,696.8 653.4,695.7 656.3,693.7 661.7,688.6 663.4,686.9 665.3,684.5 667,681.6 667.6,679.9 668.5,676.3 669.3,669.3 669.7,667.5 671.8,660.5 675,648.2 676.9,642.9 678.7,639.4 681.3,635.8 683.1,634 684.9,632.6Z" fill="#ADFF52"/>
<path d="M688.6,634.1 690.3,633.5 692.1,633.2 693.8,633.1 695.6,633.3 697.4,633.8 699.2,634.6 701,635.6 702.8,637.1 704.6,638.9 706.2,641.2 708.1,644.7 709.6,648.2 710.8,651.7 715.4,667.5 715.8,669.3 717.1,678.1 718.3,681.6 720.5,685.1 722,686.9 729.6,694.3 733.1,697 736.7,698.7 740.3,699.6 745.6,700.2 749.2,700.9 767.9,706.2 772.4,708 774.2,708.9 778.2,711.5 780.2,713.3 781.6,715 782.7,716.8 783.5,718.6 784,720.3 784.2,722.1 784.2,723.8 783.8,725.6 783.2,727.3 782.3,729.1 781,730.9 779.4,732.6 777.2,734.4 774.4,736.1 770.6,737.9 767,739.1 749.2,744.2 747.4,744.6 738.5,745.9 734.9,747.1 732.6,748.5 729.6,750.8 722.9,757.3 720.6,759.9 718.8,762.5 717.4,766 716.6,769.6 715.6,776.6 710.5,794.2 709.3,797.7 707.7,801.2 706.3,803.7 704.6,806.2 702.8,808 701,809.5 699.2,810.5 697.4,811.3 695.6,811.8 693.8,812 692.1,811.9 690.3,811.6 688.5,810.9 686.7,810 684.9,808.8 683.1,807.1 681.3,805 679.6,802.2 677.8,798.4 676.3,794.2 671.1,776.6 669.9,767.8 668.8,764.3 666.9,760.8 665.5,759 662.1,755.5 656.3,750 654.6,748.6 651,746.7 647.4,745.7 638.5,744.5 620.6,739.4 616.3,737.9 612.4,736.1 609.6,734.4 607.4,732.6 605.8,730.9 604.6,729.2 603.6,727.3 603,725.6 602.6,723.8 602.6,722.1 602.8,720.3 603.3,718.6 604.1,716.8 605.2,715 606.6,713.3 608.1,711.9 611.7,709.4 614.4,708 619,706.2 638.5,700.6 647.4,699.4 651,698.4 652.9,697.4 656.3,695.1 663.1,688.6 664.8,686.9 667.1,684 668.5,681.6 669.2,679.9 670.1,676.3 670.7,671.1 671.4,667.5 676,651.9 677.8,646.7 678.7,644.7 680.6,641.2 683.1,638 685.5,635.9Z" fill="#B1FF4E"/>
<path d="M686.7,638.9 690.3,637.2 692.1,636.8 693.8,636.7 695.6,636.9 697.4,637.5 699.2,638.3 701,639.6 702.8,641.2 704.6,643.4 706.3,646.3 707.3,648.2 709.9,655.1 714.2,669.3 715.3,676.5 716.2,679.9 716.9,681.6 718.8,684.6 720.7,686.9 729.6,695.6 733.1,698.3 734.9,699.3 736.7,700.1 740.3,701 745.6,701.7 749.2,702.5 763.5,706.8 766.8,708 770.8,709.8 774.2,711.9 775.9,713.3 777.6,715 778.9,716.8 779.8,718.6 780.4,720.3 780.6,722.1 780.5,723.8 780.1,725.6 779.4,727.3 778.4,729.1 776,731.8 772.5,734.4 769.1,736.1 767,737 759.9,739.4 749.2,742.6 747.4,743 738.5,744.5 736.7,745 734.9,745.8 733.1,746.8 729.6,749.6 721.7,757.3 718.6,760.8 717.1,763.3 715.9,766 715.1,769.6 714,776.6 709.7,790.7 708.1,794.9 706.3,798.8 704.6,801.7 702.8,803.9 701,805.5 699.2,806.8 697.4,807.6 695.6,808.2 693.8,808.4 692.1,808.3 690.3,808 688.5,807.2 686.7,806.2 684.9,804.7 683.1,802.9 680.8,799.5 679.6,797 677.8,792.6 672.8,776.6 671.3,767.8 670.2,764.3 668.1,760.8 666.8,759 663.4,755.5 656.3,748.8 653.5,746.7 651,745.3 647.4,744.3 638.5,742.8 627.8,739.7 620.6,737.3 617.7,736.1 614.3,734.4 611.7,732.6 609.9,730.9 608.4,729.1 607.4,727.3 606.6,725.6 606.3,723.8 606.2,722.1 606.4,720.3 607,718.6 607.9,716.8 609.2,715 611.7,712.6 615.3,710.2 618.9,708.5 622.4,707.1 638.5,702.3 647.4,700.9 651,699.7 652.8,698.9 656.3,696.3 664.3,688.6 667.1,685.7 668.9,683.4 670.6,679.9 671.5,676.3 672.3,671.1 673.1,667.5 677.5,653.5 679.6,648.1 681.3,644.7 683.1,642.2 684.9,640.4Z" fill="#B5FF4A"/>
<path d="M689.5,641.2 692.1,640.4 693.8,640.3 695.6,640.6 697.4,641.2 699.2,642.1 701,643.5 703.5,646.4 704.6,648 706.3,651.4 708.6,657 712.2,667.5 712.7,669.3 714.3,678.1 715.8,681.6 716.8,683.4 719.7,686.9 729.6,696.6 733.1,699.4 736.7,701.4 740.3,702.4 745.6,703.2 749.2,704 761.1,708 765.5,709.8 768.8,711.4 772.4,713.9 773.6,715 775.1,716.8 776,718.6 776.7,720.3 776.9,722.1 776.8,723.8 776.4,725.6 775.6,727.3 774.5,729.1 772.8,730.9 770.6,732.6 767.6,734.4 765.3,735.4 758.8,737.9 747.4,741.5 738.5,743.1 734.9,744.6 731.8,746.7 729.6,748.5 720.6,757.3 717.6,760.8 715.3,764.3 714.1,767.8 712.5,776.6 708.1,789.4 706.3,793.7 704.6,797.1 702.8,799.7 701,801.6 699.2,803 697.4,803.9 695.6,804.5 693.8,804.8 692.1,804.7 690.3,804.3 688.5,803.5 686.7,802.3 684.9,800.7 682.6,797.7 681.3,795.5 679.6,791.6 674.3,776.6 673.1,769.6 672.2,766 670.5,762.5 669.2,760.8 667.8,759 664.4,755.5 656.3,747.7 652.8,745.1 651,744.1 649.2,743.4 647.4,742.9 638.5,741.3 623.1,736.1 619.2,734.4 617.1,733.2 614,730.9 612.3,729.1 611.2,727.3 610.4,725.6 610,723.8 609.9,722.1 610.2,720.3 610.8,718.6 611.7,716.8 613.1,715 615.1,713.3 617.8,711.5 621.3,709.8 625.7,708 638.5,703.8 647.4,702.2 651,701 653.9,699.2 656.3,697.4 665.4,688.6 668.8,684.8 671,681.6 671.9,679.9 672.9,676.3 673.8,671.1 674.6,667.5 678.9,655.2 681.3,649.6 683.1,646.6 684.9,644.4 686.7,642.8Z" fill="#B9FF46"/>
<path d="M689.9,644.7 692.1,644 693.8,643.9 695.6,644.2 697.4,644.9 699.7,646.4 701,647.7 702.8,649.9 704.6,652.9 706.3,656.7 710.7,667.5 711.2,669.3 712.5,676.3 713,678.1 714.7,681.6 717.1,684.9 718.8,686.9 729.6,697.5 733.1,700.4 736.7,702.5 740.3,703.7 747.4,705 749.2,705.5 760.1,709.8 765.3,712.2 768.8,714.6 771.1,716.8 772.4,718.8 773,720.3 773.3,722.1 773.2,723.8 772.7,725.6 771.8,727.3 770.4,729.1 768.4,730.9 767,731.8 762.4,734.4 749.2,739.6 745.6,740.5 740.2,741.4 736.7,742.6 734.9,743.6 732.8,744.9 729.6,747.6 719.7,757.3 717.1,760.2 715.3,762.5 713.4,766 712.4,769.6 711,776.6 706.3,788.4 704.4,792.4 702.2,796 701,797.4 699.2,799.1 697.4,800.2 695.6,800.9 693.8,801.2 692.1,801.1 690.3,800.6 688.5,799.7 686.1,797.7 684.9,796.4 683.1,793.8 680.7,788.9 675.8,776.6 674,767.8 672.6,764.3 670.6,761.4 668.8,759.1 665.4,755.5 656.3,746.8 653.9,744.9 651,743.1 647.4,741.6 638.5,739.9 626,735 620.6,732.4 618.4,730.9 617.1,729.7 615,727.3 614.1,725.6 613.6,723.8 613.5,722.1 613.8,720.3 614.5,718.6 615.7,716.8 617.4,715 619.7,713.3 622.8,711.5 626.7,709.8 638.5,705.2 647.4,703.4 649.2,702.9 651,702 652.8,701 656.3,698.3 666.3,688.6 668.8,685.9 670.9,683.4 673,679.9 674.3,676.3 675.2,671.1 676.1,667.5 680.4,657 682.9,651.7 684.9,648.7 686.7,646.8 688.5,645.4Z" fill="#BDFF42"/>
<path d="M690.3,648.5 692.1,647.9 693.8,647.8 695.6,648.2 697.4,649 698.7,649.9 701,652.2 702.8,654.8 704.6,658.1 709.2,667.5 710.2,671.1 711.3,676.3 711.9,678.1 713.8,681.6 715.3,683.7 717.9,686.9 729.6,698.3 733.1,701.3 735.4,702.7 738.5,704.3 740.3,704.9 747.4,706.4 749.2,707 758.8,711.5 762.1,713.3 764.7,715 766.7,716.8 768.1,718.6 768.9,720.3 769.3,722.1 769.2,723.8 768.8,725 767.5,727.3 765.9,729.1 763.6,730.9 760.7,732.6 749.2,738.1 747.4,738.7 740.3,740.2 737.2,741.4 734.9,742.7 731.7,744.9 729.6,746.7 718.8,757.3 715.3,761.4 713.3,764.3 712.4,766 711.6,767.8 711.1,769.6 709.5,776.6 706.3,783.4 702.8,790.3 701,792.9 699.2,794.8 697.4,796.1 695.6,796.9 693.8,797.3 692.1,797.2 690.3,796.6 688.5,795.5 686.7,793.9 684.9,791.6 683.1,788.7 681.3,785.2 677.3,776.6 675.7,769.6 674.4,766 672.4,762.5 671.1,760.8 666.2,755.5 656.3,746 652.8,743.2 651,742.2 647.4,740.5 645.6,740 640.3,738.9 637.1,737.9 626.1,732.6 623.2,730.9 620.9,729.1 619.3,727.3 618.2,725.6 617.6,723.8 617.5,722.1 617.9,720.3 618.7,718.6 620.1,716.8 622.4,714.8 624.7,713.3 628,711.5 636.7,707.4 640.3,706.2 647.4,704.6 651,703 654.1,701 656.3,699.2 667.2,688.6 670.6,684.9 672.4,682.5 674,679.9 675.5,676.3 676.6,671.1 677.6,667.5 681.3,659.9 683.8,655.2 684.9,653.5 686.7,651.2 688.5,649.6Z" fill="#C3FF3C"/>
<path d="M692.1,657 693.8,656.8 695.6,657.2 697.4,658.1 699.2,659.4 702.8,663.2 706.3,668.1 706.9,669.3 708.7,674.6 710.1,678.1 713.4,683.4 716.4,686.9 727.8,698.2 733,702.7 736.7,705.1 740.3,706.8 747.4,709.2 749.2,710.1 751.3,711.5 755.7,715 757.5,716.8 758.8,718.6 759.7,720.3 760.1,722.1 760,723.8 759.4,725.6 758.2,727.3 756.7,729.1 754.8,730.9 749.2,735 746.7,736.1 742.1,737.6 738.5,739.1 734.9,741 733.1,742.3 729.6,745.2 717.3,757.3 714.1,760.8 711.6,764.3 709.7,767.8 706.5,776.6 704.6,779.6 701,783.9 699.2,785.7 697.4,787 695.6,787.9 693.8,788.3 692.1,788.1 690.3,787.5 688.5,786.4 686.7,784.8 683.1,780.8 680.3,776.6 679.5,774.8 677.8,769.6 676.2,766 675.2,764.3 672.7,760.8 667.7,755.5 658.1,746 654.9,743.2 652.8,741.6 649.2,739.5 647.4,738.6 638.5,735.5 636.7,734.4 632,730.9 630.1,729.1 628.5,727.3 627.4,725.6 626.8,723.8 626.7,722.1 627.1,720.3 628,718.6 629.3,716.8 633.2,713.3 635.5,711.5 638.5,709.6 647.4,706.5 651,704.6 652.8,703.5 656,701 658.1,699.1 668.7,688.6 672.4,684.6 675.8,679.9 677.5,676.3 679.9,669.3 681.3,666.7 684.9,662.2 686.7,660.3 688.5,658.7 690.3,657.6Z" fill="#CBFF34"/>
<path d="M690.2,664 692.1,663.5 693.8,663.4 695.6,663.7 697.4,664.3 699.2,665.3 702.1,667.5 703.5,669.3 704.6,670.9 710.7,681.6 713.4,685.1 714.9,686.9 727.8,699.6 731.3,702.9 736.7,706.6 745.8,711.5 747.4,712.5 749.2,713.9 751.5,716.8 752.5,718.6 753.2,720.3 753.5,722.1 753.4,723.8 752.9,725.6 752.1,727.3 749.5,730.9 747.4,732.6 734.9,739.6 729.6,743.8 715.9,757.3 712.7,760.8 710.1,764.3 704.6,774.3 702.8,776.8 701,778.5 699.2,779.8 697.4,780.8 695.6,781.4 693.8,781.7 692.1,781.6 690.3,781.2 688.5,780.3 686.7,779.2 684.9,777.7 683.1,775.7 677.7,766 674.1,760.8 670.9,757.3 656.3,743 654.4,741.4 651,739 639.4,732.6 637.3,730.9 635.8,729.1 634.7,727.3 633.9,725.6 633.4,723.8 633.3,722.1 633.6,720.3 634.3,718.6 635.3,716.8 636.6,715 638.3,713.3 640.9,711.5 651,706.1 654.6,703.6 658.1,700.5 671.9,686.9 676.1,681.6 683.2,669.3 684.9,667.3 686.7,665.9 688.5,664.7Z" fill="#D3FF2C"/>
<path d="M686.7,669.9 688.5,668.8 690.3,668 692.1,667.7 693.8,667.6 695.6,667.8 697.4,668.3 699.2,669.3 701,670.6 702.8,672.3 704.6,674.5 709.3,681.6 712,685.1 715.3,688.6 727.8,700.9 733.1,705.5 742.1,711.5 744.3,713.3 746.1,715 747.4,716.8 748.4,718.6 749,720.3 749.2,722.1 749.1,723.8 748.8,725.6 748,727.3 746.9,729.1 745.3,730.9 743.4,732.6 741,734.4 733.1,739.5 727.8,744.2 712.9,759 710,762.5 704.6,770.6 702.8,772.7 701,774.5 699.2,775.8 697.4,776.7 695.6,777.3 693.8,777.5 692.1,777.5 690.3,777.1 688.5,776.3 686.7,775.2 684.9,773.7 683.1,771.7 681.3,769.4 676,761.5 672.3,757.3 656.3,741.7 652.8,738.9 645.8,734.4 643.4,732.6 641.4,730.9 639.9,729.1 638.8,727.3 638,725.6 637.6,723.8 637.5,722.1 637.8,720.3 638.4,718.6 639.3,716.8 640.7,715 642.5,713.3 644.6,711.5 652.8,706.2 658.1,701.7 673.2,686.9 676.2,683.4 681.3,675.7 683.1,673.4 684.9,671.4Z" fill="#DBFF24"/>
<path d="M690.2,671.1 692.1,670.6 693.8,670.5 695.6,670.8 697.4,671.3 699.2,672.2 701,673.4 702.8,675 706.3,679.2 710.8,685.1 714.1,688.6 729.6,703.8 733.1,706.8 739.7,711.5 741.6,713.3 743.2,715 744.5,716.8 745.4,718.6 746,720.3 746.2,722.1 746.2,723.8 745.7,725.6 745,727.3 743.9,729.1 742.5,730.9 738.6,734.4 733.1,738.3 729.6,741.3 715.1,755.5 710.1,760.8 706.3,765.9 702.8,770.1 701,771.6 699.2,772.9 697.4,773.8 695.6,774.3 693.8,774.6 692.1,774.5 690.3,774.1 688.5,773.4 686.7,772.3 684.9,770.9 681.3,767.1 678,762.5 675.1,759 659.9,743.9 654.6,739 648.1,734.4 646,732.6 644.3,730.9 642.8,729.1 641.8,727.3 641,725.6 640.7,723.8 640.6,722.1 640.8,720.3 641.4,718.6 642.3,716.8 643.6,715 645.2,713.3 649.4,709.8 654.6,706.1 658.1,703 674.4,686.9 677.4,683.4 681.3,678.1 683.1,676 684.9,674.2 686.7,672.8 688.5,671.7Z" fill="#E3FF1C"/>
<path d="M687.7,674.6 690.3,673.4 692.1,673 693.8,672.9 695.6,673.2 697.4,673.7 699.2,674.6 701,675.7 702.8,677.2 706.3,681 711.2,686.9 727.8,703.3 731.3,706.5 737.6,711.5 739.4,713.3 740.9,715 743,718.6 743.5,720.3 743.8,722.1 743.7,723.8 743.3,725.6 742.6,727.3 741.6,729.1 738.6,732.6 736.7,734.4 731.3,738.6 727.8,741.8 712.1,757.3 709,760.8 704.6,766.1 702.8,767.9 699.2,770.6 697.4,771.4 695.6,771.9 693.8,772.2 692.1,772.1 690.3,771.7 688.5,771 686.7,770 683.1,767.1 681.3,765.2 676.3,759 672.9,755.5 658.1,741 654.6,737.8 650.1,734.4 646.5,730.9 645.2,729.1 644.2,727.3 643.5,725.6 643.1,723.8 643,722.1 643.2,720.3 643.8,718.6 644.7,716.8 645.9,715 647.4,713.3 649.2,711.5 654.6,707.2 658.1,704.1 675.6,686.9 681.3,680 683.1,678 684.9,676.4Z" fill="#EBFF14"/>
<path d="M686.7,677.1 690.3,675.5 692.1,675.1 693.8,675 695.6,675.2 697.4,675.7 699.2,676.6 702.8,679 706.3,682.5 711.8,688.6 727.8,704.4 731.3,707.6 734,709.8 737.6,713.3 739,715 740.9,718.6 741.4,720.3 741.7,722.1 741.6,723.8 741.2,725.6 740.6,727.3 739.6,729.1 736.8,732.6 727.8,740.7 711,757.3 706.3,762.5 702.8,766.1 699.2,768.6 697.4,769.3 695.6,769.9 693.8,770.1 692.1,770 690.3,769.6 688.5,769 684.9,766.8 683.1,765.3 681.3,763.5 677.5,759 674,755.5 658.1,739.8 651.7,734.4 650,732.6 648.4,730.9 646.2,727.3 645.6,725.6 645.2,723.8 645.1,722.1 645.4,720.3 645.9,718.6 646.7,716.8 649.2,713.3 652.9,709.8 658.1,705.2 675,688.6 683.1,679.8 684.9,678.3Z" fill="#F3FF0C"/>
<path d="M688.2,678.1 690.3,677.3 692.1,677 693.8,676.9 695.6,677.1 697.4,677.6 699.2,678.4 702.8,680.7 706.3,684 710.7,688.6 727.8,705.5 734.3,711.5 737.2,715 738.3,716.8 739,718.6 739.6,720.3 739.8,722.1 739.7,723.8 739.4,725.6 738.7,727.3 737.8,729.1 736.6,730.9 733.6,734.4 727.8,739.6 709.9,757.3 704.6,762.9 701,765.7 699.2,766.7 697.4,767.5 695.6,768 693.8,768.2 692.1,768.1 690.3,767.8 688.5,767.2 684.9,765.1 681.3,762.1 675.1,755.5 658.1,738.8 653.2,734.4 651.6,732.6 650.1,730.9 648.1,727.3 647.5,725.6 647.1,723.8 647,722.1 647.3,720.3 647.8,718.6 648.5,716.8 649.6,715 652.5,711.5 658.1,706.3 676.1,688.6 681.3,683.1 684.9,680Z" fill="#FBFF04"/>
<path d="M688,679.9 690.3,679 692.1,678.7 693.8,678.6 695.6,678.8 697.4,679.3 701,681 704.6,683.6 732.9,711.5 735.6,715 736.6,716.8 737.3,718.6 737.8,720.3 738,722.1 737.9,723.8 737.6,725.6 737,727.3 735.1,730.9 732.2,734.4 704.6,761.5 702.8,762.9 699.2,765.1 695.6,766.3 693.8,766.5 692.1,766.4 688.5,765.5 684.9,763.6 681.3,760.7 654.6,734.4 653.1,732.6 651.7,730.9 649.8,727.3 648.9,723.8 648.8,722.1 649,720.3 649.5,718.6 650.2,716.8 651.2,715 653.9,711.5 681.3,684.4 684.9,681.6Z" fill="#FFF700"/>
<path d="M686.6,683.4 688.5,682.6 690.3,682.1 692.1,681.8 695.6,681.9 699.2,682.9 701,683.7 704.6,685.9 708.1,689 729.1,709.8 730.6,711.5 732.8,715 734.3,718.6 734.6,720.3 734.8,723.8 734,727.3 732.4,730.9 729.9,734.4 728.4,736.1 706.3,757.7 702.8,760.4 701,761.4 699.2,762.2 695.6,763.2 692.1,763.3 690.3,763 686.7,761.8 683.1,759.8 679.6,756.9 658.5,736.1 656.9,734.4 655.6,732.6 653.5,729.1 652.3,725.6 652,723.8 652.1,720.3 653.2,716.8 655,713.3 657.7,709.8 679.6,688.2 683.1,685.3Z" fill="#FFE700"/>
<path d="M688.1,685.1 690.3,684.5 692.1,684.3 695.6,684.4 697.4,684.7 701,685.9 704.6,687.8 706.3,689.1 709.9,692.4 725.8,708 727.4,709.8 728.7,711.5 730.6,715 731.8,718.6 732.2,720.3 732.3,723.8 732,725.6 731,729.1 729.2,732.6 726.7,736.1 708.1,754.5 706.3,756 702.8,758.3 701,759.2 699.2,759.9 695.6,760.7 692.1,760.8 688.5,760.1 686.7,759.6 683.1,757.8 679.6,755.3 661.8,737.9 658.7,734.4 657.5,732.6 655.8,729.1 655.2,727.3 654.6,723.8 654.7,720.3 655.5,716.8 657.1,713.3 659.4,709.8 661,708 679.6,689.8 683.1,687.3 684.9,686.3Z" fill="#FFD700"/>
<path d="M688.6,686.9 692.1,686.3 693.8,686.3 697.4,686.7 701,687.7 702.8,688.5 706.3,690.6 709.9,693.8 724.3,708 725.8,709.8 727,711.5 728.8,715 729.8,718.6 730.1,720.3 730.2,723.8 730,725.6 729.1,729.1 727.6,732.6 725.2,736.1 709.9,751.4 706.3,754.5 702.8,756.6 701,757.4 699.2,758 695.6,758.7 692.1,758.8 690.3,758.6 686.7,757.7 683.1,756.2 679.6,753.8 661.6,736.1 660.3,734.4 658.4,730.9 657.2,727.3 656.6,723.8 656.7,720.3 657,718.6 658.1,715 659.8,711.5 662.4,708 679.6,691.3 683.1,688.9 686.7,687.4Z" fill="#FFC700"/>
<path d="M688.1,688.6 690.3,688.2 693.8,688 695.6,688.1 699.2,688.8 702.8,690 704.6,690.9 708.1,693.4 721.3,706.2 724.4,709.8 725.5,711.5 727.2,715 728.1,718.6 728.4,720.3 728.5,723.8 728.3,725.6 727.5,729.1 726.9,730.9 725,734.4 722.2,737.9 709.9,750 706.3,753.1 704.6,754.2 701,755.8 699.2,756.4 695.6,757 692.1,757.1 690.3,756.9 686.7,756.1 683.1,754.7 679.6,752.4 677.8,750.9 666.3,739.7 663,736.1 660.8,732.6 660,730.9 659.3,729.1 658.5,725.6 658.3,723.8 658.4,720.3 659.1,716.8 660.4,713.3 661.3,711.5 663.8,708 677.8,694.2 679.6,692.7 683.1,690.4 684.9,689.6Z" fill="#FFB700"/>
<path d="M687.1,690.4 690.3,689.7 692.1,689.5 695.6,689.6 697.4,689.9 701,690.8 702.8,691.5 706.3,693.4 709.9,696.3 721.6,708 723,709.8 725,713.3 725.7,715 726.6,718.6 726.8,720.3 726.9,723.8 726.4,727.3 725.4,730.9 724.6,732.6 722.4,736.1 719.2,739.7 708.1,750.4 706.3,751.7 702.8,753.6 701,754.3 697.4,755.2 693.8,755.6 690.3,755.4 688.5,755.1 686.7,754.6 683.1,753.2 679.6,751.1 677.8,749.6 667.6,739.7 664.4,736.1 663.2,734.4 661.4,730.9 660.8,729.1 660.1,725.6 659.9,722.1 660.2,718.6 660.6,716.8 661.1,715 662.7,711.5 665.2,708 676,697.2 679.6,694 683.1,691.9Z" fill="#FFA700"/>
<path d="M685.9,692.2 690.3,691.1 692.1,691 695.6,691 699.2,691.6 701,692.2 702.8,692.8 706.3,694.7 709.9,697.6 720.3,708 721.6,709.8 723.6,713.3 724.8,716.8 725.2,718.6 725.4,720.3 725.5,723.8 725,727.3 723.9,730.9 723.2,732.6 721.1,736.1 717.9,739.7 708.1,749.1 706.3,750.4 702.8,752.3 701,752.9 697.4,753.8 693.8,754.2 692.1,754.1 688.5,753.6 684.9,752.6 683.1,751.8 679.6,749.7 677.8,748.3 668.9,739.7 665.7,736.1 663.6,732.6 662.9,730.9 661.8,727.3 661.3,723.8 661.3,722.1 661.7,718.6 662.6,715 663.3,713.3 665.2,709.8 668.1,706.2 677.8,696.8 681.3,694.2 683.1,693.2Z" fill="#FF9700"/>
<path d="M684.7,693.9 686.7,693.2 690.3,692.5 692.1,692.3 695.6,692.4 699.2,693 701,693.5 704.6,695 706.3,696.1 709.9,698.9 717.4,706.2 719,708 721.3,711.5 722.2,713.3 723.4,716.8 723.8,718.6 724.1,722.1 723.9,725.6 723.6,727.3 723.2,729.1 721.8,732.6 719.7,736.1 716.6,739.7 709.9,746.3 708.1,747.8 704.6,750.1 702.8,750.9 699.2,752.1 697.4,752.5 693.8,752.8 690.3,752.6 688.5,752.3 684.9,751.3 683.1,750.5 679.6,748.4 677.8,747 670.2,739.7 667.1,736.1 665,732.6 664.2,730.9 663.2,727.3 662.7,723.8 662.8,720.3 663,718.6 663.9,715 664.6,713.3 666.5,709.8 669.4,706.2 677.8,698.1 681.3,695.5Z" fill="#FF8700"/>
<path d="M689.4,693.9 693.8,693.6 695.6,693.7 699.2,694.3 701,694.8 704.6,696.3 708.1,698.6 709.9,700.1 716.1,706.2 719,709.8 720,711.5 721.6,715 722.1,716.8 722.7,720.3 722.8,723.8 722.6,725.6 721.9,729.1 721.3,730.9 719.6,734.4 717,737.9 709.9,745 706.3,747.8 702.8,749.7 701,750.3 699.2,750.8 695.6,751.4 692.1,751.5 690.3,751.3 686.7,750.6 683.1,749.2 681.3,748.3 677.8,745.8 671.5,739.7 668.4,736.1 666.3,732.6 665.5,730.9 664.5,727.3 664.2,725.6 664,723.8 664.1,720.3 664.7,716.8 665.9,713.3 666.8,711.5 669.1,708 676,701 679.6,697.9 681.3,696.8 684.9,695.1 686.7,694.5Z" fill="#FF7800"/>
<path d="M684.9,696.3 688.5,695.3 692.1,694.8 695.6,694.8 697.4,695.1 701,696 702.8,696.6 706.3,698.5 709.9,701.3 716.5,708 717.8,709.8 719.7,713.3 720.9,716.8 721.5,720.3 721.6,723.8 721.4,725.6 721.1,727.3 720.1,730.9 718.4,734.4 715.8,737.9 709.9,743.8 708.1,745.3 704.6,747.6 701,749.1 699.2,749.6 697.4,750 693.8,750.3 692.1,750.3 688.5,749.8 686.7,749.4 683.1,748.1 679.6,746 677.8,744.6 672.7,739.7 669.6,736.1 667.5,732.6 666.1,729.1 665.7,727.3 665.2,723.8 665.2,722.1 665.5,718.6 666.4,715 668,711.5 669,709.8 671.9,706.2 677.8,700.5 681.3,698Z" fill="#FF6800"/>
<path d="M684.8,697.4 686.7,696.8 690.3,696 692.1,695.9 695.6,696 699.2,696.5 701,697.1 704.6,698.6 708.1,700.9 713.8,706.2 716.7,709.8 717.7,711.5 719.3,715 719.8,716.8 720.4,720.3 720.5,723.8 720.3,725.6 719.6,729.1 718.2,732.6 717.3,734.4 714.7,737.9 709.9,742.7 708.1,744.2 704.6,746.5 701,748 697.4,748.9 695.6,749.2 692.1,749.2 690.3,749.1 688.5,748.7 684.9,747.7 681.3,746 677.8,743.5 672.1,737.9 669.5,734.4 667.8,730.9 667.2,729.1 666.5,725.6 666.3,723.8 666.4,720.3 666.6,718.6 667.5,715 669.1,711.5 671.4,708 673,706.2 677.8,701.6 681.3,699.1Z" fill="#FF5800"/>
<path d="M688.3,697.4 692.1,696.9 695.6,697 697.4,697.2 701,698.1 702.8,698.8 706.3,700.6 708.1,701.9 711,704.5 714.3,708 715.6,709.8 717.5,713.3 718.2,715 719.1,718.6 719.4,720.3 719.5,723.8 719,727.3 717.9,730.9 717.2,732.6 715.1,736.1 713.6,737.9 709.9,741.6 706.3,744.5 702.8,746.3 699.2,747.5 697.4,747.9 695.6,748.1 692.1,748.2 688.5,747.7 686.7,747.3 683.1,745.9 679.6,743.9 677.8,742.5 674.9,739.7 671.7,736.1 669.6,732.6 668.3,729.1 667.8,727.3 667.3,723.8 667.4,720.3 667.7,718.6 668,716.8 669.3,713.3 671.2,709.8 674.1,706.2 677.8,702.7 679.6,701.3 683.1,699.2 684.9,698.4Z" fill="#FF4800"/>
<path d="M685.5,699.2 688.5,698.3 690.3,698 692.1,697.9 695.6,697.9 699.2,698.5 702.8,699.7 704.6,700.6 708.1,702.9 709.9,704.5 713.3,708 715.7,711.5 717.2,715 718.2,718.6 718.4,720.3 718.5,723.8 718,727.3 717.6,729.1 716.2,732.6 715.2,734.4 713.5,736.8 711.7,738.8 709,741.4 706.3,743.5 704.6,744.5 701,746 697.4,746.9 695.6,747.2 692.1,747.2 690.3,747.1 686.7,746.3 684.9,745.7 681.3,744 677.8,741.4 674.2,737.9 672.8,736.1 670.6,732.6 669.2,729.1 668.5,725.6 668.3,723.8 668.4,720.3 669,716.8 669.6,715 671.1,711.5 673.5,708 677.8,703.7 681.3,701.1 683.1,700.1Z" fill="#FF3800"/>
<path d="M688.8,699.2 692.1,698.8 693.8,698.7 697.4,699.1 701,700 702.8,700.7 706.3,702.6 709.9,705.5 712.3,708 713.6,709.8 715.6,713.3 716.3,715 717.2,718.6 717.5,720.3 717.6,723.8 717.1,727.3 716,730.9 715.2,732.6 713.1,736.1 709.9,739.6 706.3,742.5 702.8,744.4 699.2,745.7 697.4,746 695.6,746.3 692.1,746.3 688.5,745.9 686.7,745.4 683.1,744 679.6,741.9 676,738.7 673.7,736.1 671.6,732.6 670.2,729.1 669.7,727.3 669.2,723.8 669.3,720.3 669.6,718.6 669.9,716.8 671.2,713.3 673.2,709.8 676.1,706.2 679.6,703.2 681.3,702 684.9,700.3Z" fill="#FF2800"/>
<path d="M685.6,701 688.5,700.1 690.3,699.8 693.8,699.6 697.4,699.9 699.2,700.3 702.8,701.6 705,702.7 707.6,704.5 711.3,708 713.8,711.5 715.4,715 716.4,718.6 716.6,720.3 716.7,723.8 716.2,727.3 715.7,729.1 714.3,732.6 712.1,736.1 710.6,737.9 708.1,740.2 704.6,742.6 701,744.2 699.2,744.8 695.6,745.4 692.1,745.5 690.3,745.3 686.7,744.5 683.1,743.1 679.6,740.9 676.2,737.9 673.5,734.4 671.7,730.9 671.1,729.1 670.3,725.6 670.1,722.1 670.2,720.3 670.9,716.8 672.1,713.3 674.1,709.8 675.5,708 677.8,705.7 681.3,703 683.1,702Z" fill="#FF1800"/>
<path d="M688.6,701 692.1,700.5 693.8,700.4 697.4,700.8 701,701.7 704.6,703.4 708.1,705.9 710.3,708 711.7,709.8 713.8,713.3 715.1,716.8 715.7,720.3 715.8,723.8 715.6,725.6 714.8,729.1 714.2,730.9 712.3,734.4 709.5,737.9 706.3,740.6 702.8,742.6 699.2,743.9 695.6,744.6 692.1,744.6 690.3,744.5 686.7,743.7 684.9,743 681.3,741.2 679.6,739.9 677.3,737.9 674.5,734.4 672.6,730.9 671.5,727.3 671,723.8 671.1,720.3 671.3,718.6 672.3,715 674.2,711.1 676.5,708 678.3,706.2 680.5,704.5 683.1,702.9 684.9,702.1Z" fill="#FF0800"/>
<path d="M685.5,702.7 688.5,701.8 690.3,701.5 693.8,701.2 697.4,701.6 699.2,702 702.8,703.3 706.3,705.5 709.2,708 711.9,711.5 713.6,715 714.7,718.6 714.9,720.3 715,723.8 714.5,727.3 713.3,730.9 711.4,734.4 710.1,736.1 708.4,737.9 706.3,739.6 704.6,740.8 701,742.5 697.4,743.5 695.6,743.8 692.1,743.8 688.5,743.3 684.9,742.2 681.3,740.2 678.4,737.9 676.7,736.1 675.4,734.4 673.5,730.9 672.3,727.3 671.8,723.8 671.9,720.3 672.1,718.6 673.1,715 674.9,711.5 676.1,709.8 677.8,707.8 679.6,706.2 681.3,704.9 683.1,703.8Z" fill="#F70000"/>
<path d="M688.1,702.7 692.1,702.1 695.6,702.1 699.2,702.8 701,703.4 703.3,704.5 706.3,706.5 708.1,708 709.7,709.8 712,713.3 713.4,716.8 714.1,720.3 714.2,723.8 714,725.6 713.2,729.1 711.6,732.6 709,736.1 706.3,738.6 702.8,740.9 699.2,742.3 695.6,743 692.1,743 690.3,742.9 686.7,742 683.1,740.4 679.6,737.9 677.8,736.1 676.4,734.4 674.3,730.9 673.1,727.3 672.6,723.8 672.7,720.3 672.9,718.6 674,715 675.8,711.5 677.1,709.8 678.7,708 681.3,705.8 684.9,703.8Z" fill="#E70000"/>
<path d="M685.3,704.5 688.5,703.3 690.3,703 693.8,702.8 697.4,703.1 701,704.2 704.6,706.1 706.3,707.4 708.1,709.1 710.1,711.5 712,715 713.1,718.6 713.4,720.3 713.4,723.8 712.9,727.3 711.6,730.9 709.9,733.8 708,736.1 706.3,737.7 704.6,739 701,740.9 697.4,741.9 693.8,742.4 690.3,742.1 686.7,741.2 683.1,739.6 681.3,738.4 679.6,736.9 677.3,734.4 675.2,730.9 673.9,727.3 673.3,723.8 673.4,720.3 673.7,718.6 674.8,715 676.7,711.5 679.6,708.2 682,706.2Z" fill="#D70000"/>
<path d="M687.3,704.5 690.3,703.7 692.1,703.5 695.6,703.6 699.2,704.3 702.8,705.8 705.9,708 708.1,710.2 710.3,713.3 711.9,716.8 712.7,720.3 712.8,723.8 712.2,727.3 710.9,730.9 708.6,734.4 706.3,736.8 702.8,739.3 699.2,740.8 695.6,741.5 692.1,741.6 688.5,741 684.9,739.7 681.9,737.9 679.6,735.9 676.9,732.6 675.2,729.1 674.3,725.6 674,722.1 674.4,718.6 675.6,715 677.6,711.5 679,709.8 680.9,708 683.1,706.4 684.9,705.4Z" fill="#C70000"/>
<path d="M689.9,704.5 692.1,704.2 695.6,704.3 699.2,705 702.8,706.6 704.6,707.8 706.3,709.2 708.4,711.5 710.5,715 711.7,718.6 712.1,722.1 711.9,725.6 710.9,729.1 709.1,732.6 706.3,735.8 704.6,737.3 701,739.4 697.4,740.6 693.8,741 690.3,740.7 686.7,739.7 684.9,739 683.1,737.9 680.8,736.1 679.1,734.4 677.7,732.6 676.7,730.9 675.9,729.1 674.9,725.6 674.7,722.1 675.1,718.6 676.3,715 678.4,711.5 679.9,709.8 683.1,707.1 686.7,705.3Z" fill="#B70000"/>
<path d="M686.2,706.2 688.5,705.4 692.1,704.8 695.6,704.9 699.2,705.7 702.8,707.3 706,709.8 708.1,712.2 709.8,715 711.1,718.6 711.5,722.1 711.2,725.6 710.2,729.1 709.4,730.9 708.3,732.6 706.3,735 704.6,736.6 701,738.7 697.4,739.9 693.8,740.4 690.3,740.1 686.7,739.1 683.1,737.2 681.3,735.8 679.9,734.4 678.5,732.6 676.6,729.1 675.6,725.6 675.3,722.1 675.8,718.6 677,715 679.2,711.5 680.8,709.8 683.1,707.9Z" fill="#A70000"/>
<path d="M687.8,706.2 690.3,705.6 693.8,705.3 697.4,705.8 701,707 704.6,709.3 706.3,711 708.1,713.3 709.2,715 709.9,716.8 710.8,720.3 710.9,723.8 710.2,727.3 708.8,730.9 707.6,732.6 706.3,734.1 704.6,735.8 702.8,737.1 699.2,738.8 695.6,739.6 692.1,739.7 688.5,739.1 684.9,737.6 683.1,736.5 681.3,735 679.6,733.1 678.1,730.9 676.6,727.3 676,723.8 676,720.3 676.9,716.8 677.7,715 679.6,712 681.7,709.8 684.9,707.5Z" fill="#970000"/>
<path d="M689.9,706.2 692.1,705.9 695.6,706 699.2,706.8 702.8,708.6 704.6,710 706.1,711.5 707.5,713.3 709.4,716.8 709.9,718.6 710.2,720.3 710.3,723.8 709.7,727.3 709,729.1 708.1,730.9 706.3,733.3 704.6,735.1 703.2,736.1 701,737.5 697.4,738.8 693.8,739.3 690.3,739 688.5,738.6 684.9,737 683.1,735.8 681.4,734.4 679.9,732.6 678.7,730.9 677.8,729.1 676.7,725.6 676.4,722.1 676.9,718.6 678.2,715 679.3,713.3 680.7,711.5 683.1,709.3 686.7,707.2Z" fill="#870000"/>
<path d="M684.9,708.6 688.5,707 692.1,706.4 695.6,706.5 699.2,707.3 702.8,709.2 704.6,710.6 706.9,713.3 708,715 708.8,716.8 709.4,718.6 709.7,720.3 709.8,723.8 709.2,727.3 707.6,730.9 706.3,732.6 704.6,734.4 702.8,735.9 701,737 697.4,738.3 693.8,738.8 690.3,738.5 688.5,738 686.7,737.4 684.9,736.4 682.1,734.4 680.5,732.6 678.3,729.1 677.2,725.6 676.9,722.1 677.1,720.3 678,716.8 678.8,715 679.9,713.3 681.4,711.5 683.3,709.8Z" fill="#800000"/>
</g></g>
<rect x="557" y="589.1" width="271.9" height="267.7" fill="none" stroke="#262626" stroke-width="2.2"/><path d="M563.13,589.1v3.9 M563.13,856.8v-3.9M649.68,589.1v3.9 M649.68,856.8v-3.9M692.95,589.1v3.9 M692.95,856.8v-3.9M736.22,589.1v3.9 M736.22,856.8v-3.9M822.77,589.1v3.9 M822.77,856.8v-3.9M557,850.77h3.9 M828.9,850.77h-3.9M557,765.56h3.9 M828.9,765.56h-3.9M557,722.95h3.9 M828.9,722.95h-3.9M557,680.34h3.9 M828.9,680.34h-3.9M557,595.13h3.9 M828.9,595.13h-3.9" stroke="#262626" stroke-width="2" fill="none"/>
<clipPath id="hcc"><rect x="953.10" y="589.10" width="271.90" height="267.70"/></clipPath>
<g clip-path="url(#hcc)"><g filter="url(#hb)">
<rect x="947.1" y="583.1" width="283.9" height="279.7" fill="#80FF80"/>
<path d="M1041.5,583.1 1138.1,583.1 1139.3,613 1139.9,639.4 1141.4,644.7 1143.7,649.9 1147.1,655.3 1149.7,658.7 1152.4,661.6 1157.5,665.8 1163.1,669.3 1168.5,671.6 1172.1,672.8 1173.9,673.2 1200.6,673.8 1231,675 1231,770.1 1202.4,771.2 1175.6,771.8 1173.9,772 1168.5,773.5 1164.9,774.9 1161.7,776.6 1156.4,780.1 1152.3,783.6 1148.9,787.4 1145.3,792.4 1143.3,796 1141.7,799.4 1140,804.7 1139.8,806.5 1139.3,831.1 1138.1,862.8 1041.5,862.8 1040.3,831.1 1039.8,806.5 1039.5,804.7 1037.9,799.5 1036.3,796 1034.6,792.9 1031,787.8 1027.4,783.7 1023.2,780.1 1017.9,776.6 1015,775.1 1011.4,773.6 1006,772 1004.2,771.8 979.2,771.3 947.1,770.1 947.1,675 979.2,673.8 1004.2,673.3 1006,673.1 1011.4,671.5 1016.7,669.1 1022.1,665.8 1024.4,664 1027.4,661.3 1031,657.3 1034.9,651.7 1036.8,648.2 1038.2,644.9 1039.7,639.4 1040.3,613Z" fill="#85FF7A"/>
<path d="M1050.5,583.1 1129.1,583.1 1130.4,611.2 1131,630.6 1131.3,632.4 1132.9,637.6 1136.4,645.6 1139.4,651.7 1141.7,655.6 1144.9,660.5 1147.1,663.1 1148.9,665 1151.8,667.5 1154.3,669.3 1159.6,672.5 1163.1,674.5 1175.5,679.9 1181,681.6 1184.6,682 1202.4,682.5 1231,683.8 1231,761.3 1200.6,762.6 1184.6,763.1 1181,763.5 1177.4,764.5 1173.9,765.9 1165.4,769.6 1161.8,771.3 1153.2,776.6 1148.8,780.1 1145.3,784.1 1143.5,786.7 1139.9,792.4 1138,796 1134.1,804.7 1132.6,808.3 1131.6,811.8 1131,815.3 1130.5,832.9 1129.1,862.8 1050.5,862.8 1049.1,832.9 1048.6,815.3 1048,811.8 1047,808.3 1045.5,804.7 1041.7,796.3 1039.9,792.9 1036.4,787.1 1034.6,784.5 1031,780.4 1028.8,778.4 1026.4,776.6 1017.8,771.3 1014.2,769.6 1006,766 1002.5,764.6 998.9,763.6 995.3,763.1 979.2,762.6 947.1,761.2 947.1,683.9 977.5,682.5 995.3,682 998.9,681.5 1004.2,679.8 1016.7,674.3 1025.3,669.3 1027.8,667.5 1031,664.7 1034.7,660.5 1040.2,651.7 1042,648.2 1045.9,639.4 1047.3,635.9 1048.3,632.4 1048.6,628.8 1049.2,611.2Z" fill="#89FF76"/>
<path d="M1056.9,583.1 1122.7,583.1 1124.3,611.2 1124.8,623.6 1124.9,625.3 1125.6,628.8 1128.2,635.9 1135.3,651.7 1140.1,660.5 1142.5,664 1145.5,667.5 1148.9,670.4 1152.4,672.8 1161.4,677.6 1177.4,684.6 1184.6,687.1 1189.9,688.1 1204.2,688.7 1231,690.1 1231,755 1204.2,756.4 1189.9,757 1188.1,757.2 1184.6,758 1181,759.1 1177.4,760.5 1160.7,767.8 1151.1,773.1 1148.6,774.8 1145.3,777.8 1143.2,780.1 1140.7,783.6 1135.7,792.4 1127.8,810 1125.5,817.1 1125.1,818.8 1124.7,822.3 1124.2,834.7 1122.7,862.8 1056.9,862.8 1055.4,834.7 1054.8,820.6 1054.2,817.1 1052.5,811.8 1051,808.3 1043.9,792.4 1038.9,783.6 1036.4,780.1 1034.6,778.1 1031,774.9 1028.5,773.1 1025.5,771.3 1018.5,767.6 1002.5,760.6 998.3,759 993.5,757.6 990,757 975.7,756.4 947.1,754.9 947.1,690.2 973.9,688.8 990,688.1 995.3,687.1 1002.5,684.5 1018.5,677.5 1027.4,672.7 1031,670.2 1034,667.5 1036.4,665 1038.4,662.3 1043.5,653.3 1045.3,649.7 1050.7,637.6 1052.4,633.4 1053.9,628.8 1054.7,625.3 1054.8,623.6 1055.3,611.2Z" fill="#8DFF72"/>
<path d="M1062.3,583.1 1117.3,583.1 1119.5,618.3 1119.9,621.8 1120.8,625.3 1122,628.8 1123.9,633.6 1128.1,642.9 1131,650.2 1132.8,654.1 1135.3,658.7 1137.5,662.3 1140.1,665.8 1143.5,669.5 1147.1,672.7 1150.7,675.4 1154.2,677.6 1158.6,679.9 1162.4,681.6 1170.3,684.7 1179.2,688.6 1188.1,691.9 1191.7,692.8 1195.3,693.3 1231,695.5 1231,749.6 1195.3,751.8 1191.7,752.3 1188.1,753.2 1181,755.7 1170.3,760.4 1159.6,764.8 1154.2,767.5 1150.7,769.7 1147.1,772.4 1143.5,775.6 1141,778.4 1138.1,781.9 1135.8,785.4 1133,790.7 1131,794.9 1127.7,803 1123.7,811.8 1122.1,816 1120.6,820.6 1119.6,825.9 1117.2,862.8 1062.4,862.8 1060,825.9 1059.8,824.1 1059,820.6 1057.9,817.1 1056,812.2 1051.9,803 1047.1,791.6 1043.8,785.4 1041.7,782.3 1038.7,778.4 1036.4,775.9 1032.8,772.6 1029.2,769.9 1025.9,767.8 1022.6,766 1018.5,764.1 1007.8,759.8 1000.7,756.6 991.7,753.3 988.2,752.4 984.6,751.8 947.1,749.5 947.1,695.6 984.6,693.3 988.2,692.7 991.7,691.8 1000.4,688.6 1009.6,684.6 1017.2,681.6 1021,679.9 1025.7,677.4 1029.2,675.2 1032.8,672.5 1036.3,669.3 1039.5,665.8 1042.1,662.3 1044.3,658.7 1047.1,653.5 1051.5,642.9 1056,632.9 1058.8,625.3 1060,620Z" fill="#91FF6E"/>
<path d="M1067.4,583.1 1112.2,583.1 1114.7,614.8 1115.4,618.3 1116.3,621.8 1118.9,628.8 1125.2,642.9 1128.6,651.7 1132.4,658.7 1134.6,662.2 1137.3,665.8 1141.7,670.6 1146,674.6 1150.5,678.1 1156.4,681.6 1163.1,685 1170.3,687.6 1184.6,693.7 1189.9,695.7 1193.5,696.8 1197.1,697.7 1200.6,698.2 1231,700.5 1231,744.6 1198.9,747.1 1193.5,748.3 1184.6,751.4 1172.1,756.8 1161.7,760.8 1152.4,765.8 1147.1,769.6 1143.5,772.7 1138.2,778.3 1135.3,781.9 1132.8,785.7 1128.3,794.2 1124.8,803 1118.6,817.1 1116.1,824.1 1115.2,827.6 1114.6,831.1 1112.1,862.8 1067.5,862.8 1064.8,829.4 1063.5,824.1 1061,817.1 1058,810 1054.8,803 1052.1,796 1050.7,792.7 1045.5,783.6 1041.7,778.6 1038.3,774.8 1034.6,771.3 1030.2,767.8 1025.7,764.9 1017.9,760.8 1007.8,756.9 995.3,751.5 986.4,748.4 982.8,747.5 979.2,746.9 947.1,744.5 947.1,700.6 981,697.9 986.4,696.7 993.5,694.3 998.9,692.2 1007.8,688.2 1016.7,684.8 1020.3,683.1 1026.3,679.9 1031,676.7 1034.6,673.7 1039.2,669.3 1043.7,664 1047.1,658.9 1051,651.7 1054.4,642.9 1060,630.6 1063.3,621.8 1064.2,618.3 1064.9,614.8Z" fill="#95FF6A"/>
<path d="M1072.7,583.1 1106.9,583.1 1109.9,611.2 1111.3,616.5 1115.4,627.1 1121.7,641.2 1125.7,650.8 1131.1,660.5 1133.5,664 1136.4,667.6 1143.3,674.6 1147.3,678.1 1152.4,681.7 1161.9,686.9 1172.1,690.9 1186.4,697.2 1197.1,701.2 1200.6,702.3 1204.2,703 1231,705.7 1231,739.4 1204.2,742.1 1200.6,742.8 1195.3,744.5 1189.9,746.5 1181,750.2 1172.1,754.2 1164.1,757.3 1160.4,759 1154.2,762.4 1148.6,766 1145.3,768.7 1141.7,772 1137.2,776.6 1134.2,780.1 1130.6,785.4 1125.7,794.2 1122.1,803 1115,818.8 1111,829.4 1109.7,834.7 1106.8,862.8 1072.8,862.8 1070.1,836.4 1069.5,832.9 1067.3,825.9 1063.2,815.5 1057.5,803 1053.9,794.2 1050.7,788.3 1047.9,783.6 1045.4,780.1 1041.7,775.9 1036.4,770.6 1031.1,766 1025.7,762.5 1016.7,757.8 1007.8,754.3 991.7,747.3 981,743.4 975.7,742.1 947.1,739.3 947.1,705.8 975.7,703 977.5,702.7 984.6,700.5 993.5,697.1 1007.8,690.8 1016.7,687.3 1020.3,685.5 1027.3,681.6 1031,679.1 1034.6,676.2 1039.9,671 1044.8,665.8 1047.1,662.7 1048.9,659.9 1052.6,653.5 1054.2,650.2 1057.9,641.2 1065,625.3 1068.3,616.5 1069.4,613 1070,609.5Z" fill="#99FF66"/>
<path d="M1079,583.1 1100.6,583.1 1104,606 1104.8,609.5 1106.9,614.8 1119.2,641.2 1123.1,649.9 1124.9,653.5 1129,660.5 1132.7,665.8 1137.5,671.1 1145.3,678.5 1148.9,681.4 1151.9,683.4 1161.4,688.7 1202.4,707 1206,708.1 1207.8,708.5 1231,711.9 1231,733.2 1207.8,736.6 1204.2,737.5 1198.9,739.6 1172.1,751.7 1163.1,755.5 1153.4,760.8 1148.2,764.3 1145.3,766.6 1141.7,769.9 1136.7,774.8 1133.5,778.4 1131,781.6 1129.2,784.2 1123.6,794.2 1119.7,803 1105.8,832.9 1104.6,836.4 1104.2,838.2 1100.4,862.8 1079.2,862.8 1075.4,838.2 1074.4,834.7 1072.3,829.4 1059.9,803 1056,794.2 1051.1,785.4 1047.5,780.1 1042.8,774.8 1036.4,768.5 1033.6,766 1031,764 1027.4,761.5 1016.7,755.6 1007.8,751.8 982.8,740.5 977.5,738.2 973.9,737 972.1,736.7 947.1,733 947.1,712.1 972.1,708.4 975.7,707.5 981,705.4 1007.8,693.3 1015,690.3 1018.5,688.6 1024.8,685.1 1027.8,683.4 1031,681.1 1036.4,676.6 1045.4,667.5 1048.2,664 1050.6,660.5 1055.6,651.7 1073.5,613 1075.2,607.7Z" fill="#9DFF62"/>
<path d="M1088.3,593.7 1089.9,593 1091.7,594 1093.5,596.6 1095.3,600.7 1096.4,604.2 1097.2,606 1104.2,617.2 1109.6,626.5 1117.9,642.9 1122,651.7 1127.4,661 1129.5,664 1132.3,667.5 1141.7,677.1 1145.3,680.4 1148.9,683.2 1154.7,686.9 1163.1,691.5 1170.3,694.7 1186.7,702.7 1196.2,708 1207.8,715 1209.6,715.9 1212.6,716.8 1217.1,718.6 1220,720.3 1221.3,722.1 1220.9,723.8 1218.9,725.6 1215.2,727.3 1209.6,729.2 1207.8,730 1197.8,736.1 1188.5,741.4 1172.1,749.6 1162.9,753.7 1152.4,759.5 1148.9,761.9 1145.3,764.7 1136.6,773.1 1133.2,776.6 1130.2,780.1 1127.7,783.6 1125.7,787.1 1121.6,794.2 1117.5,803 1109.6,818.6 1104.2,827.9 1097.7,838.2 1096.8,839.9 1095.3,844.4 1093.5,848.5 1091.7,851.1 1089.9,852.1 1088.2,851.4 1086.4,849.1 1084.6,845.2 1083.4,841.7 1081.9,838.2 1075.7,828.4 1070.3,819.2 1062.1,803 1058,794.2 1053,785.4 1050.7,781.9 1048.9,779.5 1046.4,776.6 1043,773.1 1036.4,766.6 1033.8,764.3 1029.2,760.8 1026.3,759 1016.7,753.7 1007.8,749.7 991.1,741.4 981.8,736.1 972.1,730.2 970.3,729.3 964.4,727.3 960.7,725.6 958.7,723.8 958.3,722.1 959.6,720.3 962.5,718.6 967,716.8 970.3,715.8 972.1,714.9 983.4,708 992.9,702.7 1007.8,695.4 1018.5,690.4 1027.4,685.4 1031,683 1034.6,680.1 1044,671.1 1047.3,667.5 1050.1,664 1052.5,660.5 1056.6,653.5 1068.5,629.3 1073.9,619.7 1082.4,606 1083.2,604.2 1084.6,599.9 1086.4,596Z" fill="#A1FF5E"/>
<path d="M1082.8,614.6 1086.4,612.2 1088.2,611.7 1089.9,611.5 1091.7,611.7 1093.5,612.4 1095.3,613.4 1097.1,614.8 1100.7,618.5 1104.2,623.1 1107.8,628.6 1115,641.2 1120.3,651.7 1125.4,660.5 1127.4,663.6 1129.1,665.8 1132.2,669.3 1143.5,680.5 1147.1,683.6 1152.4,687.3 1161.4,692.3 1170.3,696.6 1178.4,701 1187.6,706.2 1192.8,709.8 1197.1,713.3 1200.4,716.8 1201.5,718.6 1202.3,720.3 1202.6,722.1 1202.5,723.8 1202,725.6 1201,727.3 1199.8,729.1 1198.2,730.9 1194.1,734.4 1189.1,737.9 1180.1,743.2 1172.1,747.6 1161.4,752.8 1150.7,759 1147.1,761.5 1143.9,764.3 1134.8,773.1 1129.9,778.4 1126,783.6 1120.3,793.4 1115.6,803 1111.4,810.4 1106,819.4 1102.4,824.4 1098.9,828.6 1095.3,831.7 1093.5,832.7 1091.7,833.4 1089.9,833.6 1088.2,833.4 1086.4,832.8 1084.6,831.9 1081,828.9 1077.4,824.8 1073.9,819.8 1068.5,810.9 1064,803 1059.6,794 1053.6,783.6 1049.7,778.4 1044.7,773.1 1034.6,763.3 1029.2,759.1 1018.5,753 1007.8,747.8 996.4,741.4 990.5,737.9 985.5,734.4 981.4,730.9 979.8,729.1 978.5,727.3 977.6,725.6 977.1,723.8 977,722.1 977.4,720.3 978.1,718.6 979.2,716.8 982.4,713.3 986.8,709.8 992,706.2 998.1,702.7 1007.8,697.3 1018.5,692.2 1029.2,685.9 1032.8,683.4 1034.8,681.6 1045.7,671.1 1050.5,665.8 1054.2,660.5 1059.3,651.7 1064.6,641.2 1070.3,631.1 1073.9,625.3 1077.4,620.3 1079.2,618.1Z" fill="#A5FF5A"/>
<path d="M1086.7,618.3 1088.2,617.9 1089.9,617.7 1091.7,617.9 1093.5,618.5 1095.3,619.3 1097.1,620.6 1100.7,623.8 1104.2,628.2 1111.4,638.2 1114.2,642.9 1118.7,651.7 1123.8,660.5 1126.2,664 1130.7,669.3 1143.5,682 1147.1,685.1 1152.2,688.6 1161.4,693.9 1170.3,698.3 1173.9,700.3 1180.3,704.5 1187.5,709.8 1191.5,713.3 1194.4,716.8 1195.4,718.6 1196,720.3 1196.3,722.1 1196.2,723.8 1195.8,725.6 1195,727.3 1193.9,729.1 1192.4,730.9 1188.7,734.4 1181.6,739.7 1173.6,744.9 1170.3,746.8 1161.4,751.2 1150.7,757.4 1147.1,760.1 1143.5,763.2 1133.4,773.1 1129.2,777.4 1125.6,781.9 1119.3,792.4 1112.7,804.7 1107.8,812.1 1102.4,819.2 1098.9,823 1097.1,824.5 1095.3,825.7 1093.5,826.6 1091.7,827.2 1089.9,827.4 1088.2,827.2 1086.4,826.7 1084.6,825.9 1082.8,824.8 1081,823.3 1077.4,819.6 1072.1,812.5 1066.7,804.5 1061.3,794.2 1054.2,782.2 1051.2,778.4 1046.2,773.1 1035.4,762.5 1032.8,760.3 1029.2,757.6 1018.5,751.4 1009.6,746.9 1006,744.9 998,739.7 990.9,734.4 987.2,730.9 985.7,729.1 984.6,727.3 983.8,725.6 983.4,723.8 983.3,722.1 983.6,720.3 984.2,718.6 985.2,716.8 988.1,713.3 992.1,709.8 999.3,704.5 1006,700.2 1009.6,698.2 1018.5,693.7 1027.4,688.6 1030.1,686.9 1032.8,684.8 1036.4,681.7 1047.2,671.1 1050.7,667.4 1054.6,662.3 1060.9,651.7 1066.4,641.2 1070.3,635.1 1073.9,630.2 1077.4,625.5 1081,621.8 1082.8,620.3 1084.6,619.2Z" fill="#A9FF56"/>
<path d="M1086.3,623.6 1088.2,623 1089.9,622.9 1091.7,623.1 1093.5,623.6 1095.3,624.4 1097.1,625.6 1100.7,628.5 1106,634.1 1111.4,641 1113.2,644 1117.2,651.7 1122.4,660.5 1125.7,665 1129.4,669.3 1143.5,683.2 1148.9,687.7 1152.4,690.2 1159.6,694.3 1172.1,701 1177,704.5 1181.3,708 1186.6,713.3 1189.3,716.8 1190.1,718.6 1190.7,720.3 1191,722.1 1190.9,723.8 1190.5,725.6 1189.8,727.3 1188.7,729.1 1185.9,732.6 1180.4,737.9 1176,741.4 1172.1,744.1 1161.4,749.8 1154.2,753.8 1148.9,757.4 1143.5,761.9 1132.1,773.1 1127.1,778.4 1123.9,782.5 1121.9,785.4 1117.8,792.4 1112.1,803 1109.6,806.6 1106,811 1100.7,816.6 1097.1,819.5 1095.3,820.7 1093.5,821.5 1091.7,822 1089.9,822.2 1088.2,822.1 1086.4,821.6 1084.6,820.8 1082.8,819.7 1079.2,816.9 1073.9,811.3 1070.3,807 1067.5,803 1061.8,792.4 1056.5,783.6 1052.5,778.4 1047.5,773.1 1036.4,762.2 1032.8,759 1030.6,757.3 1025.7,754 1018.5,749.9 1007.8,744.3 1003.6,741.4 999.2,737.9 993.7,732.6 990.9,729.1 989.8,727.3 989.1,725.6 988.7,723.8 988.6,722.1 988.9,720.3 989.4,718.6 990.3,716.8 993,713.3 998.3,708 1002.6,704.5 1007.5,701 1018.5,695.2 1026.8,690.4 1029.5,688.6 1032.8,686.1 1036.4,682.9 1048.5,671.1 1052.4,666.8 1056,662.3 1061.4,653.5 1067.1,642.9 1068.5,640.6 1072.1,635.9 1075.7,631.8 1079.2,628.2 1082.8,625.4 1084.6,624.3Z" fill="#ADFF52"/>
<path d="M1083.8,628.8 1086.4,627.8 1088.2,627.4 1089.9,627.3 1091.7,627.5 1093.5,627.9 1097.1,629.5 1100.7,631.9 1102.4,633.4 1106,636.9 1109.7,641.2 1111.4,643.6 1116.7,653.3 1121.2,660.5 1123.9,664.2 1128.3,669.3 1143.5,684.3 1148.9,688.9 1153.7,692.2 1159.6,695.7 1170.3,701.5 1172.1,702.7 1176.4,706.2 1180,709.8 1181.6,711.5 1184.1,715 1185.8,718.6 1186.5,722.1 1186.4,723.8 1186.1,725.6 1185.5,727.3 1184.7,729.1 1182.4,732.6 1179.3,736.1 1175.5,739.7 1172.1,742.4 1168.5,744.6 1161.2,748.5 1152.4,753.7 1147.6,757.3 1143.5,760.8 1129.2,774.8 1124.5,780.1 1121.8,783.6 1118.5,788.9 1111.4,801.5 1109.6,804.1 1106,808.2 1100.7,813.2 1097.1,815.6 1093.5,817.2 1091.7,817.6 1089.9,817.8 1088.2,817.7 1086.4,817.3 1082.8,815.8 1079.2,813.4 1075.7,810.3 1073.9,808.5 1070.3,804.4 1068.5,801.9 1063.2,792.4 1060,787.2 1057.8,783.6 1055.1,780.1 1050.3,774.8 1034.6,759.5 1031,756.5 1027.2,753.7 1018.5,748.5 1011.4,744.8 1007.8,742.6 1004.1,739.7 1000.3,736.1 997.3,732.6 994.9,729.1 994.1,727.3 993.5,725.6 993.1,723.8 993.1,722.1 993.3,720.3 993.8,718.6 994.5,716.8 995.5,715 998,711.5 1003.2,706.2 1007.5,702.7 1009.6,701.4 1020.3,695.5 1026,692.2 1031,688.7 1036.4,684 1051.3,669.3 1055.9,664 1059.6,658.7 1063.8,651.7 1067.6,644.7 1070.3,640.7 1073.9,636.6 1077.4,633.1 1081,630.4Z" fill="#B1FF4E"/>
<path d="M1089.2,630.6 1091.7,630.7 1093.5,631 1097.1,632.4 1100.7,634.6 1104.2,637.5 1106,639.3 1107.8,641.2 1110.4,644.7 1115.6,653.5 1120.1,660.5 1122.7,664 1125.7,667.5 1141.7,683.5 1147.4,688.6 1154.2,693.6 1161.4,698 1169.6,702.7 1172,704.5 1174,706.2 1175.8,708 1178.9,711.5 1181.1,715 1182.6,718.6 1183.3,722.1 1183.2,723.8 1182.9,725.6 1181.7,729.1 1180.7,730.9 1178.2,734.4 1175,737.9 1173.2,739.7 1170.3,741.9 1166.7,744.1 1161.4,747.1 1153.5,752 1148.9,755.2 1145.3,758.2 1128.3,774.8 1123.5,780.1 1118.4,787.2 1115,792.4 1109.9,801.2 1107.8,803.9 1106,805.9 1102.4,809.1 1100.7,810.5 1097.1,812.7 1093.5,814.1 1089.9,814.6 1086.4,814.1 1082.8,812.8 1079.2,810.7 1077.4,809.3 1073.9,806.1 1072.1,804.3 1069.7,801.2 1064.6,792.4 1061.2,787.2 1056.1,780.1 1051.3,774.8 1034.6,758.5 1031,755.5 1025.7,751.7 1018.5,747.2 1009.6,742.1 1007.8,740.8 1004.6,737.9 1001.4,734.4 1000,732.6 997.9,729.1 996.7,725.6 996.4,723.8 996.3,722.1 996.5,720.3 997,718.6 998.4,715 999.5,713.3 1002.2,709.8 1005.6,706.2 1007.6,704.5 1010,702.7 1018.5,697.9 1027.4,692.3 1031,689.6 1034.6,686.6 1050.6,671.1 1056,665.1 1059.5,660.5 1061.4,657.6 1070.3,643 1073.9,639 1077.4,635.8 1081,633.2 1084.6,631.5 1086.4,631Z" fill="#B5FF4A"/>
<path d="M1084.5,634.1 1088.2,633.2 1091.7,633.3 1093.5,633.6 1097.1,634.9 1098.9,635.8 1100.7,636.9 1104.2,639.7 1106,641.4 1108.8,644.7 1118.5,659.6 1123.2,665.8 1128.2,671.1 1141.7,684.4 1146.3,688.6 1150.7,692.1 1161.4,699.2 1168.5,703.6 1171.9,706.2 1173.6,708 1176.5,711.5 1178.7,715 1180.1,718.6 1180.6,722.1 1180.3,725.6 1179.1,729.1 1177.2,732.6 1174.5,736.1 1172.9,737.9 1171,739.7 1168.7,741.4 1159.6,747 1150.7,753 1145.4,757.3 1141.7,760.7 1127.3,774.8 1122.6,780.1 1118.6,785.4 1109.5,799.5 1106.7,803 1104.2,805.4 1100.7,808.2 1097.1,810.2 1093.5,811.5 1089.9,811.9 1086.4,811.6 1082.8,810.3 1081,809.4 1077.4,807.1 1073.9,804 1072.1,802.1 1070.3,799.7 1065.7,792.4 1059.8,783.6 1057,780.1 1053.9,776.6 1038,760.8 1032.1,755.5 1025.7,750.7 1010.9,741.4 1008.6,739.7 1006.7,737.9 1003.7,734.4 1001.3,730.9 999.8,727.3 999.1,723.8 999.2,720.3 1000.1,716.8 1001.9,713.3 1003.1,711.5 1006,708 1007.8,706.2 1011.4,703.4 1018.5,699.1 1029.2,691.9 1032.8,689.1 1036.4,685.9 1051.4,671.1 1056.4,665.8 1059.2,662.3 1061.7,658.7 1070.3,645.4 1072.1,643 1073.8,641.2 1075.7,639.5 1079.2,636.7 1082.8,634.7Z" fill="#B9FF46"/>
<path d="M1086,635.9 1088.2,635.5 1089.9,635.4 1091.7,635.5 1095.3,636.3 1097.1,637 1100.7,639 1104.2,641.7 1107.8,645.6 1118.3,660.5 1122.4,665.8 1127.3,671.1 1141.7,685.3 1145.3,688.6 1149.6,692.2 1154.2,695.5 1167.5,704.5 1171.6,708 1174.4,711.5 1176.5,715 1177.8,718.6 1178.3,722.1 1178,725.6 1176.9,729.1 1175.1,732.6 1173.9,734.4 1170.8,737.9 1166.4,741.4 1150.7,752.1 1146.5,755.5 1141.7,759.9 1126.5,774.8 1122.1,779.7 1118.5,784.3 1107.8,799.5 1106,801.7 1104.2,803.4 1100.7,806.1 1097.1,808.1 1093.5,809.3 1089.9,809.7 1086.4,809.3 1082.8,808.2 1079.2,806.3 1075.7,803.7 1073.9,802 1071.8,799.5 1061.4,784.7 1057.8,780 1053.1,774.8 1038.2,760.1 1033.2,755.5 1029.2,752.3 1013.2,741.4 1008.8,737.9 1005.7,734.4 1003.5,730.9 1002,727.3 1001.6,725.6 1001.3,722.1 1001.8,718.6 1003.1,715 1005.1,711.5 1008,708 1012.1,704.5 1029.2,692.7 1032.8,689.9 1036.2,686.9 1052.3,671.1 1057.2,665.8 1061.4,660.5 1070.3,647.6 1073.9,643.1 1076,641.2 1079.2,638.8 1082.8,636.9Z" fill="#BDFF42"/>
<path d="M1087.2,637.6 1089.9,637.4 1091.7,637.5 1095.3,638.3 1098.9,639.8 1100.7,640.8 1104.2,643.6 1106,645.5 1109.6,649.7 1120.1,664 1123.9,668.3 1128.3,672.8 1141.7,686 1147.1,690.9 1150.8,693.9 1163.3,702.7 1167.7,706.2 1170.3,708.7 1172.6,711.5 1174.6,715 1175.8,718.6 1176.3,722.1 1176,725.6 1175,729.1 1173.2,732.6 1172,734.4 1170.3,736.4 1164.6,741.4 1152.2,750.2 1147.1,754.2 1141.7,759.1 1127.5,773.1 1124,776.6 1120.9,780.1 1118.1,783.6 1109.6,795.4 1104.2,801.4 1100.7,804.3 1097.1,806.1 1093.5,807.3 1089.9,807.7 1086.4,807.4 1082.8,806.3 1079.2,804.4 1075.7,801.7 1073.9,799.9 1070.3,795.8 1061.5,783.6 1057.2,778.4 1053.9,774.8 1039.6,760.8 1034.6,756 1031,752.9 1027.4,750.2 1017.3,743.2 1010.8,737.9 1007.6,734.4 1005.4,730.9 1004.6,729.1 1003.6,725.6 1003.3,722.1 1003.8,718.6 1005,715 1007,711.5 1010,708 1011.9,706.2 1016.2,702.7 1031,692.2 1034.6,689.1 1038.2,685.7 1053.1,671.1 1057.8,666 1061.4,661.6 1070.3,649.3 1073.9,645.1 1075.7,643.4 1078.5,641.2 1081,639.7 1084.6,638.2Z" fill="#C3FF3C"/>
<path d="M1086.8,641.2 1089.9,640.9 1091.7,641 1095.3,641.7 1097.1,642.4 1098.9,643.2 1102.4,645.5 1106,648.5 1111.4,654.3 1116.7,661.6 1120.1,665.8 1125.1,671.1 1145.3,690.8 1150.7,695.2 1160.8,702.7 1166.3,708 1169.1,711.5 1171.1,715 1172.3,718.6 1172.8,722.1 1172.5,725.6 1171.5,729.1 1170.7,730.9 1169.7,732.6 1167.1,736.1 1163.8,739.7 1159.8,743.2 1148.9,751.3 1145.3,754.3 1141.7,757.6 1122.6,776.6 1118,781.9 1111.4,790.7 1109.6,792.9 1106,796.6 1104.2,798.2 1100.7,800.8 1097.1,802.7 1093.5,803.9 1089.9,804.3 1086.4,803.9 1082.8,802.8 1079.2,801 1075.7,798.4 1072.1,795.1 1068.5,791.1 1061.6,781.9 1057,776.6 1038.2,757.9 1034.6,754.5 1031,751.5 1019.7,743.2 1015.8,739.7 1012.5,736.1 1009.9,732.6 1008.9,730.9 1008.1,729.1 1007.1,725.6 1006.8,722.1 1007.3,718.6 1008.5,715 1010.5,711.5 1011.8,709.8 1015,706.2 1018.8,702.7 1021,701 1031,693.6 1034.6,690.6 1038.2,687.2 1057.9,667.5 1062.3,662.3 1068.5,654 1073.9,648.3 1077.4,645.3 1081,643.1 1084.6,641.6Z" fill="#CBFF34"/>
<path d="M1083.8,644.7 1086.4,643.9 1089.9,643.6 1093.5,644 1095.3,644.5 1097.1,645.1 1100.7,646.8 1104.2,649.3 1106,650.8 1110.5,655.2 1116.7,663.3 1120.3,667.5 1141.7,688.8 1145.3,692.2 1148.9,695.2 1158.8,702.7 1162.4,706.2 1165.3,709.8 1167.5,713.3 1169,716.8 1169.5,718.6 1169.9,722.1 1169.7,725.6 1169.3,727.3 1168,730.9 1166,734.4 1164.7,736.1 1161.6,739.7 1159.9,741.4 1157.8,743.2 1148.9,749.9 1141.7,756.3 1121.2,776.6 1116.6,781.9 1111.3,788.9 1109.6,790.9 1106,794.3 1102.4,797.1 1100.7,798.3 1097.1,800 1093.5,801.1 1089.9,801.5 1088.2,801.4 1084.6,800.7 1081,799.3 1077.4,797.3 1073.9,794.6 1072.1,793 1068.5,789.2 1061.4,780 1054.9,773.1 1034.6,753.2 1029.2,748.7 1021.7,743.2 1019.7,741.4 1016.4,737.9 1013.6,734.4 1011.6,730.9 1010.3,727.3 1009.7,723.8 1009.8,720.3 1010.1,718.6 1011.3,715 1012.1,713.3 1014.3,709.8 1017.2,706.2 1022.1,701.6 1029.2,696.4 1034.6,691.9 1055.9,671.1 1060.8,665.8 1068.5,655.9 1072.1,652.1 1075.7,649.1 1077.4,647.8 1081,645.7Z" fill="#D3FF2C"/>
<path d="M1085.3,646.4 1088.2,645.9 1091.7,646 1093.5,646.2 1097.1,647.2 1100.7,648.9 1102.4,650 1104.2,651.2 1107.8,654.1 1111.4,658 1117.5,665.8 1122.5,671.1 1143.5,691.7 1148.9,696.4 1157.1,702.7 1160.6,706.2 1162,708 1164.4,711.5 1166.2,715 1167.3,718.6 1167.7,722.1 1167.5,725.6 1167.1,727.3 1165.8,730.9 1163.9,734.4 1162.7,736.1 1159.8,739.7 1158.1,741.4 1156.1,743.2 1147.1,750.2 1141.7,755.1 1120,776.6 1116.7,780.3 1109.6,789.2 1106,792.5 1102.4,795.1 1098.9,797.1 1095.3,798.5 1093.5,798.9 1089.9,799.2 1086.4,798.9 1084.6,798.5 1081,797.3 1077.4,795.3 1072.1,791.2 1068.5,787.4 1061.2,778.4 1056.2,773.1 1034.6,752 1030.4,748.5 1023.5,743.2 1019.7,739.7 1015.7,734.4 1013.8,730.9 1012.5,727.3 1011.9,723.8 1012,720.3 1012.3,718.6 1012.8,716.8 1014.2,713.3 1016.3,709.8 1017.6,708 1020.7,704.5 1023.9,701.6 1032.8,694.7 1038.2,689.7 1058.8,669.3 1063.6,664 1068.5,657.6 1072.1,653.9 1075.7,651 1079.2,648.7 1082.8,647.1Z" fill="#DBFF24"/>
<path d="M1085.7,648.2 1088.2,647.8 1091.7,647.8 1095.3,648.5 1097.1,649 1100.7,650.6 1102.4,651.7 1106,654.1 1107.8,655.7 1110.7,658.7 1116.4,665.8 1121.3,671.1 1143.5,692.9 1148.9,697.6 1155.5,702.7 1159,706.2 1160.4,708 1162.7,711.5 1164.3,715 1165.4,718.6 1165.8,722.1 1165.6,725.6 1165.2,727.3 1164,730.9 1162.2,734.4 1161.1,736.1 1158.3,739.7 1156.5,741.4 1147.1,749 1141.7,753.9 1120.3,775.1 1115.7,780.1 1109.6,787.6 1106,790.9 1102.4,793.5 1098.9,795.4 1095.3,796.6 1093.5,797 1089.9,797.4 1086.4,797.1 1084.6,796.7 1081,795.5 1077.4,793.6 1073.9,791.2 1072.1,789.7 1068.5,785.9 1062.4,778.4 1057.3,773.1 1035.8,752 1031,747.8 1025.1,743.2 1021.3,739.7 1019.8,737.9 1017.4,734.4 1015.6,730.9 1014.4,727.3 1013.8,723.8 1013.9,720.3 1014.2,718.6 1015.3,715 1016,713.3 1018,709.8 1019.2,708 1022.2,704.5 1024.1,702.7 1032.8,695.8 1038.2,690.8 1060,669.3 1064.7,664 1068.9,658.7 1072.1,655.4 1075.7,652.6 1079.2,650.5 1082.8,648.9Z" fill="#E3FF1C"/>
<path d="M1084.9,649.9 1088.2,649.4 1091.7,649.4 1093.5,649.7 1097.1,650.6 1100.7,652.1 1102.4,653.1 1106,655.6 1107.8,657.1 1109.6,659 1116.7,667.4 1120.2,671.1 1143.5,693.9 1147.4,697.4 1154,702.7 1157.5,706.2 1160.1,709.8 1162,713.3 1162.8,715 1163.8,718.6 1164.2,722.1 1163.9,725.6 1163.6,727.3 1162.4,730.9 1161.6,732.6 1160.7,734.4 1158.3,737.9 1155.1,741.4 1147.1,748 1141.7,753 1119.5,774.8 1114.6,780.1 1109.6,786.2 1106,789.5 1102.4,792 1098.9,793.8 1095.3,795 1093.5,795.4 1089.9,795.7 1086.4,795.5 1084.6,795.1 1081,793.9 1079.2,793.1 1075.7,791 1072.1,788.2 1070.3,786.5 1063.4,778.4 1058.3,773.1 1036.4,751.5 1031,746.7 1024.5,741.4 1022.8,739.7 1020,736.1 1018,732.6 1017.2,730.9 1016,727.3 1015.5,723.8 1015.6,720.3 1015.8,718.6 1016.3,716.8 1017.6,713.3 1019.5,709.8 1020.7,708 1023.7,704.5 1025.6,702.7 1032.8,696.9 1038.2,691.9 1061.1,669.3 1064.3,665.8 1070.3,658.7 1072.1,656.9 1073.9,655.4 1077.4,652.9 1081,651.2Z" fill="#EBFF14"/>
<path d="M1081,652.5 1086.4,651 1089.9,650.8 1093.5,651.1 1095.3,651.5 1098.9,652.7 1102.4,654.4 1104.2,655.6 1107.8,658.5 1119.5,671.1 1143.5,694.7 1152.6,702.7 1156.2,706.2 1158.8,709.8 1160.6,713.3 1161.9,716.8 1162.3,718.6 1162.7,722.1 1162.5,725.6 1162.1,727.3 1161,730.9 1160.3,732.6 1158.3,736.1 1157,737.9 1153.8,741.4 1147.1,747.1 1141.7,752.1 1118.6,774.8 1115.3,778.4 1109.6,784.9 1106,788.2 1102.4,790.7 1098.9,792.4 1095.3,793.6 1091.7,794.2 1089.9,794.3 1086.4,794 1082.8,793.2 1079.2,791.8 1077.4,790.8 1073.9,788.4 1072.1,786.9 1070.3,785.2 1063.2,777.1 1059.2,773.1 1036.4,750.7 1027.8,743.2 1024.1,739.7 1021.3,736.1 1019.3,732.6 1017.9,729.1 1017.5,727.3 1017,723.8 1017,720.3 1017.3,718.6 1018.3,715 1019.8,711.5 1020.8,709.8 1023.4,706.2 1026.9,702.7 1031,699.3 1036.4,694.4 1060.1,671.1 1065.2,665.8 1070.3,660 1072.1,658.2 1073.9,656.7 1077.4,654.3Z" fill="#F3FF0C"/>
<path d="M1082,653.5 1084.6,652.7 1088.2,652.1 1091.7,652.2 1095.3,652.7 1098.9,653.9 1102.4,655.6 1106,658 1107.8,659.5 1118.7,671.1 1141.9,693.9 1151.7,702.7 1155,706.2 1157.6,709.8 1159.4,713.3 1160.6,716.8 1161.3,720.3 1161.3,723.8 1160.9,727.3 1160.4,729.1 1159,732.6 1157.1,736.1 1155.8,737.9 1152.6,741.4 1141.7,751.4 1117.9,774.8 1109.6,783.8 1106,787 1104.2,788.4 1102.4,789.4 1098.9,791.2 1095.3,792.3 1091.7,792.9 1088.2,793 1086.4,792.8 1082.8,791.9 1081,791.3 1077.4,789.6 1075.7,788.5 1072.1,785.8 1070.3,784.1 1065.1,778.4 1059.9,773.1 1036.4,749.9 1028.8,743.2 1025.3,739.7 1022.5,736.1 1020.6,732.6 1019.2,729.1 1018.8,727.3 1018.3,723.8 1018.4,720.3 1019,716.8 1019.5,715 1021,711.5 1023.2,708 1024.6,706.2 1027.9,702.7 1036.4,695.1 1060.9,671.1 1070.3,661 1072.1,659.3 1073.9,657.8 1077.4,655.5Z" fill="#FBFF04"/>
<path d="M1087,653.5 1089.9,653.3 1091.7,653.3 1095.3,653.8 1097.1,654.3 1100.7,655.7 1104.2,657.7 1106,659 1109.6,662.1 1118.1,671.1 1143.5,696.1 1150.8,702.7 1154,706.2 1156.6,709.8 1158.3,713.3 1159,715 1159.8,718.6 1160.2,722.1 1160,725.6 1158.7,730.9 1157.1,734.4 1154.8,737.9 1151.8,741.4 1141.7,750.8 1117.3,774.8 1109.6,783 1106,786.1 1102.4,788.5 1098.9,790.2 1093.5,791.6 1089.9,791.9 1086.4,791.7 1084.6,791.3 1081,790.3 1079.2,789.5 1075.7,787.6 1073.9,786.3 1070.3,783.3 1060.5,773.1 1036.4,749.3 1029.6,743.2 1026.2,739.7 1023.6,736.1 1021.6,732.6 1020.9,730.9 1019.9,727.3 1019.4,723.8 1019.4,720.3 1019.7,718.6 1021.2,713.3 1023,709.8 1027,704.5 1038.2,694.1 1061.5,671.1 1070.3,661.8 1072.1,660.2 1075.7,657.5 1079.2,655.6 1082.8,654.2Z" fill="#FFF700"/>
<path d="M1082.8,655.8 1088.2,654.9 1091.7,654.9 1095.3,655.5 1098.9,656.5 1102.4,658.1 1104.2,659.2 1107.8,661.8 1109.6,663.5 1116.9,671.1 1141.7,695.5 1151.2,704.5 1152.6,706.2 1155,709.8 1156.8,713.3 1158.2,718.6 1158.6,722.1 1158.4,725.6 1158.1,727.3 1157.1,730.9 1156.4,732.6 1155.5,734.4 1153.4,737.9 1150.4,741.4 1141.7,749.6 1116.1,774.8 1109.6,781.6 1107.8,783.3 1104.2,785.9 1100.7,787.9 1098.9,788.6 1095.3,789.7 1093.5,790 1089.9,790.2 1086.4,790 1084.6,789.7 1079.2,788 1075.7,786.1 1073.9,784.9 1070.3,781.9 1061.7,773.1 1036.4,748.1 1029.2,741.4 1027.6,739.7 1025.1,736.1 1023.2,732.6 1021.5,727.3 1021.1,723.8 1021.1,720.3 1021.3,718.6 1022.8,713.3 1024.6,709.8 1027,706.2 1028.4,704.5 1038.2,695.2 1062.7,671.1 1070.3,663.2 1072.1,661.6 1073.9,660.2 1077.4,658 1081,656.4Z" fill="#FFE700"/>
<path d="M1081,657.6 1086.4,656.3 1089.9,656.1 1093.5,656.4 1095.3,656.7 1098.9,657.7 1102.4,659.4 1106,661.6 1107.8,663 1150,704.5 1152.7,708 1154.7,711.5 1155.5,713.3 1156.6,716.8 1157.2,720.3 1157.3,723.8 1157.1,725.6 1156.8,727.3 1155.8,730.9 1155.2,732.6 1153.3,736.1 1150.8,739.7 1149.2,741.4 1141.7,748.5 1107.8,782.1 1104.2,784.7 1100.7,786.6 1097.1,788 1095.3,788.4 1091.7,788.9 1089.9,789 1086.4,788.8 1082.8,788 1081,787.5 1077.4,785.9 1075.7,784.9 1072.1,782.3 1070.3,780.7 1063.2,773.4 1038.2,748.8 1030.4,741.4 1028.8,739.7 1026.3,736.1 1024.4,732.6 1023.2,729.1 1022.8,727.3 1022.3,723.8 1022.4,720.3 1022.6,718.6 1023,716.8 1024.1,713.3 1024.9,711.5 1026.9,708 1029.7,704.5 1072.1,662.8 1073.9,661.4 1077.4,659.2Z" fill="#FFD700"/>
<path d="M1079.2,659.4 1084.6,657.7 1088.2,657.2 1091.7,657.3 1095.3,657.8 1098.9,658.8 1102.4,660.5 1104.2,661.5 1107.8,664.1 1148.8,704.5 1151.6,708 1153.6,711.5 1155,715 1155.5,716.8 1156.1,720.3 1156.2,722.1 1156,725.6 1155.3,729.1 1154.7,730.9 1153.2,734.4 1152.2,736.1 1149.7,739.7 1148.1,741.4 1107.8,781 1104.2,783.6 1100.7,785.5 1097.1,786.9 1093.5,787.6 1091.7,787.8 1088.2,787.9 1086.4,787.7 1081,786.4 1077.4,784.8 1075.7,783.8 1072.1,781.2 1070.3,779.7 1063.8,773.1 1031.5,741.4 1029.9,739.7 1027.4,736.1 1025.6,732.6 1024.3,729.1 1023.6,725.6 1023.4,723.8 1023.5,720.3 1023.7,718.6 1024.6,715 1025.2,713.3 1026.9,709.8 1028,708 1030.7,704.5 1064.8,671.1 1070.3,665.4 1072.1,663.9 1075.7,661.3Z" fill="#FFC700"/>
<path d="M1084.6,658.7 1088.2,658.2 1091.7,658.3 1093.5,658.5 1097.1,659.3 1098.9,659.8 1102.4,661.5 1106,663.7 1107.8,665.1 1146.1,702.7 1149.3,706.2 1151.6,709.8 1153.4,713.3 1154.5,716.8 1154.8,718.6 1155.2,722.1 1155,725.6 1154.7,727.3 1153.7,730.9 1153,732.6 1151.2,736.1 1150,737.9 1147.1,741.4 1107.8,780 1104.2,782.6 1100.7,784.5 1097.1,785.8 1095.3,786.3 1091.7,786.8 1088.2,786.8 1086.4,786.7 1082.8,785.9 1081,785.3 1079.2,784.6 1075.7,782.8 1072.1,780.2 1070.3,778.6 1032.5,741.4 1031,739.7 1028.4,736.1 1026.6,732.6 1025.3,729.1 1024.9,727.3 1024.5,723.8 1024.5,720.3 1024.8,718.6 1025.1,716.8 1026.3,713.3 1028,709.8 1029.1,708 1031.8,704.5 1070.3,666.5 1072.1,664.9 1073.9,663.5 1077.4,661.3 1081,659.7Z" fill="#FFB700"/>
<path d="M1081.7,660.5 1084.6,659.7 1088.2,659.2 1091.7,659.3 1095.3,659.8 1098.9,660.8 1102.4,662.5 1105,664 1107.8,666.1 1146.8,704.5 1149.5,708 1151.6,711.5 1153,715 1153.5,716.8 1154.1,720.3 1154.2,722.1 1154,725.6 1153.3,729.1 1152.7,730.9 1151.2,734.4 1150.1,736.1 1147.6,739.7 1146,741.4 1107.8,779 1104.2,781.6 1100.7,783.5 1097.1,784.9 1093.5,785.6 1091.7,785.9 1088.2,785.9 1086.4,785.7 1082.8,784.9 1081,784.4 1077.4,782.8 1075.7,781.8 1072.1,779.2 1070.3,777.6 1033.6,741.4 1032,739.7 1029.5,736.1 1027.6,732.6 1026.3,729.1 1025.9,727.3 1025.5,723.8 1025.5,720.3 1025.8,718.6 1026.6,715 1027.3,713.3 1029,709.8 1030.1,708 1032.8,704.5 1070.3,667.5 1072.3,665.8 1075.7,663.3 1079.2,661.5Z" fill="#FFA700"/>
<path d="M1085.7,660.5 1088.2,660.2 1091.7,660.2 1093.9,660.5 1097.1,661.2 1099.9,662.3 1102.4,663.5 1106,665.7 1108.2,667.5 1144,702.7 1147.2,706.2 1149.6,709.8 1151.3,713.3 1152.5,716.8 1152.8,718.6 1153.2,722.1 1153,725.6 1152.7,727.3 1152.3,729.1 1151,732.6 1149.1,736.1 1147.9,737.9 1145,741.4 1109.6,776.3 1107.3,778.4 1104.2,780.6 1102.4,781.6 1098.9,783.3 1095.3,784.3 1091.7,784.9 1089.9,784.9 1088.2,784.9 1084.6,784.4 1081.8,783.6 1079.2,782.7 1074.7,780.1 1072.1,778.2 1070.3,776.6 1034.6,741.4 1033,739.7 1030.5,736.1 1028.6,732.6 1027.3,729.1 1026.9,727.3 1026.5,723.8 1026.5,720.3 1026.8,718.6 1027.4,715.6 1028.3,713.3 1029.2,711.1 1031,708.1 1033.9,704.5 1072.1,666.9 1075.7,664.3 1079.2,662.4 1082.8,661.1Z" fill="#FF9700"/>
<path d="M1082.4,662.3 1084.6,661.7 1088.2,661.2 1091.7,661.2 1095.3,661.8 1098.9,662.8 1101.5,664 1104.2,665.5 1107.8,668.2 1143,702.7 1145.3,705.2 1147.5,708 1148.6,709.8 1150.3,713.3 1151.5,716.8 1152.1,720.3 1152.2,722.1 1152,725.6 1151.3,729.1 1150.7,730.9 1149.1,734.4 1148.1,736.1 1145.5,739.7 1143.9,741.4 1107.8,776.9 1104.2,779.5 1099.8,781.9 1095.3,783.3 1091.7,783.9 1088.2,783.9 1086.4,783.7 1084.6,783.4 1081,782.4 1079.2,781.6 1075.7,779.7 1073.6,778.4 1070.3,775.5 1035.7,741.4 1034.1,739.7 1031.5,736.1 1029.2,731.7 1027.9,727.3 1027.4,723.8 1027.4,721.5 1027.8,718.6 1028.6,715 1029.3,713.3 1031,709.7 1032.8,707.1 1034.9,704.5 1072.1,668 1075,665.8 1077.4,664.3Z" fill="#FF8700"/>
<path d="M1087.7,662.3 1089.9,662.2 1093.5,662.5 1098.9,663.9 1102.4,665.6 1104.2,666.6 1107.8,669.3 1109.6,670.9 1141.9,702.7 1145.1,706.2 1147.5,709.8 1149.2,713.3 1150.7,717.9 1151.1,722.1 1151.1,723.8 1150.6,727.3 1148.9,732.6 1147,736.1 1144.4,739.7 1142.8,741.4 1109.6,774.1 1106,777.2 1104.2,778.5 1101.3,780.1 1097.1,781.8 1093.5,782.6 1089.9,782.9 1088.2,782.9 1084.6,782.4 1082.7,781.9 1079.2,780.6 1075.2,778.4 1072.1,776 1070.3,774.4 1036.8,741.4 1035.2,739.7 1032.6,736.1 1030.7,732.6 1029.2,728.5 1028.5,723.8 1028.5,722.1 1028.8,718.6 1029.2,716.6 1030.4,713.3 1031.2,711.5 1032.8,708.7 1036,704.5 1072.1,669.1 1075.7,666.5 1079.2,664.5 1082.8,663.2Z" fill="#FF7800"/>
<path d="M1083.9,664 1086.4,663.5 1089.9,663.3 1093.5,663.6 1095.7,664 1098.9,665 1102.4,666.7 1106,669 1107.8,670.4 1140.7,702.7 1143.9,706.2 1146.3,709.8 1148.1,713.3 1149.3,716.8 1149.9,720.3 1149.9,723.8 1149.8,725.6 1149,729.1 1148.5,730.9 1146.9,734.4 1145.8,736.1 1143.2,739.7 1141.7,741.4 1107.8,774.7 1104.2,777.3 1100.7,779.3 1098.7,780.1 1095.3,781.2 1091.7,781.7 1088.2,781.8 1086.4,781.6 1084.6,781.2 1081,780.2 1077.4,778.6 1075.7,777.5 1072.1,774.9 1070.3,773.3 1037.9,741.4 1036.4,739.7 1033.8,736.1 1031.9,732.6 1030.6,729.1 1029.8,725.6 1029.6,723.8 1029.7,720.3 1030,718.6 1030.9,715 1031.5,713.3 1033.3,709.8 1034.4,708 1037.2,704.5 1072.1,670.2 1073.9,668.8 1077.4,666.5 1081,664.9Z" fill="#FF6800"/>
<path d="M1081.9,665.8 1084.6,665 1088.2,664.5 1091.7,664.5 1095.3,665.1 1098.9,666.2 1102.4,667.9 1106,670.2 1107.8,671.6 1139.5,702.7 1142.7,706.2 1145.1,709.8 1146.9,713.3 1148.1,716.8 1148.7,720.3 1148.8,723.8 1148.6,725.6 1147.9,729.1 1147.3,730.9 1146.6,732.6 1144.7,736.1 1142.1,739.7 1140.5,741.4 1107.8,773.5 1104.2,776.2 1100.7,778.1 1097.1,779.5 1095.3,780 1091.7,780.6 1088.2,780.6 1086.4,780.4 1082.8,779.6 1081,779 1077.4,777.4 1075.7,776.3 1072.1,773.7 1070.3,772.1 1037.5,739.7 1034.9,736.1 1033,732.6 1031.7,729.1 1031.3,727.3 1030.8,723.8 1030.9,720.3 1031.1,718.6 1032,715 1032.7,713.3 1033.5,711.5 1035.6,708 1038.4,704.5 1072.1,671.4 1073.9,670 1077.4,667.7Z" fill="#FF5800"/>
<path d="M1087.3,665.8 1091.7,665.7 1095.3,666.3 1097.1,666.7 1100.7,668.1 1102.4,669 1106,671.3 1107.9,672.8 1138.3,702.7 1141.6,706.2 1144,709.8 1145.7,713.3 1146.9,716.8 1147.5,720.3 1147.6,722.1 1147.4,725.6 1147.1,727.3 1146.1,730.9 1145.4,732.6 1144.5,734.4 1142.3,737.9 1139.3,741.4 1109.6,770.6 1106,773.8 1102.4,776.1 1098.9,777.7 1095.3,778.8 1093.5,779.2 1089.9,779.5 1086.4,779.2 1084.6,778.9 1081,777.9 1079.2,777.1 1075.7,775.2 1073.9,774 1070.3,770.9 1038.7,739.7 1036.1,736.1 1034.2,732.6 1032.9,729.1 1032.2,725.6 1032,723.8 1032.1,720.3 1032.3,718.6 1033.2,715 1033.9,713.3 1035.6,709.8 1036.7,708 1039.5,704.5 1072.1,672.5 1075.7,669.9 1079.2,668 1082.8,666.7Z" fill="#FF4800"/>
<path d="M1083.9,667.5 1086.4,667 1089.9,666.8 1093.5,667.1 1097.1,667.9 1098.9,668.5 1102.4,670.1 1106,672.4 1107.8,673.9 1138.2,703.8 1140.4,706.2 1142.8,709.8 1144.6,713.3 1145.7,716.8 1146.3,720.3 1146.4,723.8 1146.2,725.6 1145.9,727.3 1144.9,730.9 1144.2,732.6 1142.4,736.1 1139.8,739.7 1109.6,769.5 1106,772.7 1102.4,774.9 1098.9,776.6 1095.3,777.7 1091.7,778.2 1088.2,778.3 1086.4,778.1 1082.8,777.3 1081,776.7 1079.2,776 1075.7,774.1 1072,771.3 1039.9,739.7 1037.2,736.1 1035.4,732.6 1034.1,729.1 1033.7,727.3 1033.2,723.8 1033.3,720.3 1033.5,718.6 1033.9,716.8 1035,713.3 1036.8,709.8 1037.9,708 1040.7,704.5 1072.1,673.7 1073.9,672.2 1077.4,670 1081,668.4Z" fill="#FF3800"/>
<path d="M1079.2,670.2 1084.6,668.5 1088.2,668 1091.7,668 1093.5,668.2 1097.1,669 1100.7,670.3 1104.2,672.3 1106,673.6 1109.6,676.8 1137.7,704.5 1139.3,706.2 1141.7,709.8 1143.4,713.3 1144.6,716.8 1145.2,720.3 1145.3,723.8 1145.1,725.6 1144.4,729.1 1143.8,730.9 1142.3,734.4 1141.2,736.1 1138.6,739.7 1109.6,768.3 1106,771.5 1102.4,773.9 1098.9,775.5 1095.3,776.6 1091.7,777.1 1088.2,777.1 1086.4,776.9 1082.8,776.2 1081,775.6 1077.4,774 1075.7,773 1072.1,770.3 1042.7,741.4 1039.9,738.4 1037.3,734.4 1035.8,730.9 1034.8,727.3 1034.3,723.8 1034.4,720.3 1035,716.8 1035.5,715 1036.9,711.5 1037.9,709.8 1040.3,706.2 1041.9,704.5 1072.1,674.8 1075.7,672.1Z" fill="#FF2800"/>
<path d="M1082.8,670 1088.2,669 1091.7,669.1 1095.3,669.6 1097.1,670.1 1100.7,671.4 1102.4,672.3 1105.9,674.6 1107.8,676.2 1138.2,706.2 1140.7,709.8 1142.4,713.3 1143,715 1143.9,718.6 1144.2,722.1 1144,725.6 1143.3,729.1 1142.7,730.9 1141.2,734.4 1140.2,736.1 1137.5,739.7 1108.9,767.8 1106,770.5 1102.4,772.8 1098.9,774.4 1095.3,775.5 1091.7,776 1088.2,776.1 1086.4,775.9 1084.6,775.6 1081,774.5 1079.2,773.8 1075.7,771.9 1072.1,769.2 1043.9,741.4 1040.7,737.9 1038.4,734.4 1036.9,730.9 1035.9,727.3 1035.4,723.8 1035.5,720.3 1035.7,718.6 1036.6,715 1037.2,713.3 1038.9,709.8 1040.1,708 1043.1,704.5 1070.3,677.7 1073.7,674.6 1075.7,673.2 1079.2,671.3Z" fill="#FF1800"/>
<path d="M1079.2,672.3 1084.6,670.6 1088.2,670.1 1091.7,670.1 1095.3,670.6 1098.9,671.7 1100.7,672.4 1104.2,674.4 1106,675.7 1108.6,678.1 1137.1,706.2 1139.6,709.8 1141.3,713.3 1142.5,716.8 1143.1,720.3 1143.1,723.8 1143,725.6 1142.3,729.1 1141.7,730.9 1141,732.6 1139.1,736.1 1136.4,739.7 1107.8,767.8 1106,769.4 1102.4,771.8 1098.9,773.4 1095.3,774.5 1091.7,775 1088.2,775 1086.4,774.8 1082.8,774.1 1081,773.5 1077.4,771.9 1075.7,770.9 1072.1,768.1 1045,741.4 1041.7,737.9 1040.5,736.1 1038.6,732.6 1037.3,729.1 1036.6,725.6 1036.5,723.8 1036.5,720.3 1037.1,716.8 1037.6,715 1039,711.5 1040,709.8 1042.5,706.2 1072.1,677 1073.9,675.5 1077.4,673.2Z" fill="#FF0800"/>
<path d="M1084.6,671.5 1089.9,671 1093.5,671.3 1097.1,672 1098.9,672.6 1100.7,673.4 1104.2,675.4 1107.8,678.4 1134.3,704.5 1137.4,708 1139.6,711.5 1141,715 1141.8,718.6 1142.2,722.1 1142,725.6 1141.7,727.3 1140.7,730.9 1140,732.6 1138.1,736.1 1136.8,737.9 1134.6,740.4 1106,768.4 1102.4,770.8 1098.9,772.5 1095.3,773.5 1093.5,773.9 1089.9,774.1 1086.4,773.9 1084.6,773.6 1081,772.6 1077.4,771 1075.7,769.9 1072.1,767 1045.3,740.7 1042.8,737.9 1040.5,734.4 1038.9,730.9 1037.9,727.3 1037.4,723.8 1037.5,720.3 1037.7,718.6 1038.6,715 1039.2,713.3 1041,709.8 1043.6,706.2 1072.1,678.1 1073.9,676.5 1077.4,674.1 1081,672.5Z" fill="#F70000"/>
<path d="M1083.1,672.8 1086.4,672.1 1089.9,671.9 1093.5,672.2 1095.3,672.5 1098.9,673.6 1100.7,674.3 1104.1,676.3 1106,677.8 1135,706.2 1137.6,709.8 1139.4,713.3 1140.6,716.8 1141.1,720.3 1141.2,723.8 1141.1,725.6 1140.3,729.1 1139.8,730.9 1139.1,732.6 1137.1,736.1 1134.2,739.7 1106,767.3 1102.4,769.8 1098.9,771.5 1095.3,772.6 1091.7,773.1 1089.9,773.2 1086.4,773 1082.8,772.2 1081,771.6 1077.4,770 1075.7,768.9 1072.1,766 1045.4,739.7 1043.8,737.9 1041.4,734.4 1039.8,730.9 1038.8,727.3 1038.4,723.8 1038.5,720.3 1038.7,718.6 1039.5,715 1041,711.5 1042,709.8 1044.6,706.2 1073.9,677.5 1077.4,675.1 1081,673.5Z" fill="#E70000"/>
<path d="M1089.3,672.8 1093.5,673.1 1097.1,673.9 1098.9,674.5 1100.7,675.2 1104.2,677.3 1107.8,680.4 1132.3,704.5 1135.5,708 1137.7,711.5 1139.1,715 1140,718.6 1140.3,722.1 1140.1,725.6 1139.9,727.3 1138.9,730.9 1137.2,734.4 1136.1,736.1 1133.2,739.7 1107.8,764.7 1104.2,767.8 1100.7,769.8 1097.1,771.2 1093.5,772 1089.9,772.3 1086.4,772.1 1084.6,771.8 1081,770.7 1077.4,769.1 1073.9,766.6 1046.4,739.7 1043.5,736.1 1042.4,734.4 1040.7,730.9 1039.7,727.3 1039.4,725.6 1039.3,722.1 1039.6,718.6 1040.5,715 1041.9,711.5 1044.1,708 1047.3,704.5 1072.1,680.1 1075.7,677.1 1079.2,675.1 1082.8,673.8 1084.6,673.3Z" fill="#D70000"/>
<path d="M1083.2,674.6 1086.4,673.9 1089.9,673.7 1093.5,673.9 1095.3,674.3 1098.9,675.4 1100.7,676.1 1104,678.1 1106,679.7 1131.3,704.5 1134.5,708 1135.7,709.8 1137.6,713.3 1138.8,716.8 1139.4,720.3 1139.4,723.8 1139.3,725.6 1138.5,729.1 1138,730.9 1137.2,732.6 1135.2,736.1 1132.8,739.1 1107.8,763.7 1105.2,766 1102.4,768 1098.9,769.7 1095.3,770.8 1091.7,771.4 1089.9,771.4 1086.4,771.2 1082.8,770.4 1081,769.8 1077.4,768.2 1075.7,767 1072.4,764.3 1045.7,737.9 1043.3,734.4 1041.6,730.9 1040.6,727.3 1040.2,723.8 1040.2,720.3 1040.5,718.6 1041.4,715 1042.8,711.5 1043.9,709.8 1046.6,706.2 1073.9,679.4 1077.4,676.9 1081,675.3ZM1086.4,718.3 1084.7,720.3 1084.3,722.1 1084.4,723.8 1085.2,725.6 1086.4,726.8 1087.2,727.3 1088.2,727.8 1089.9,728 1091.7,727.7 1093.5,726.6 1094.4,725.6 1095.2,723.8 1095.3,722.1 1094.9,720.3 1093.6,718.6 1091.7,717.4 1089.9,717.1 1088.2,717.3Z" fill="#C70000"/>
<path d="M1088.1,674.6 1089.9,674.5 1093.5,674.8 1097.1,675.6 1100.7,677 1102.4,678 1106,680.6 1131,705.2 1133.6,708 1135.9,711.5 1137.4,715 1138.3,718.6 1138.6,722.1 1138.4,725.6 1138.1,727.3 1137.1,730.9 1135.4,734.4 1134.3,736.1 1131.3,739.7 1107.8,762.8 1104.2,765.9 1100.7,768.1 1097.1,769.5 1093.5,770.3 1089.9,770.6 1086.4,770.4 1084.6,770 1081,769 1077.4,767.3 1075.7,766.1 1072.1,763.1 1046.7,737.9 1044.2,734.4 1042.5,730.9 1041.5,727.3 1041,723.8 1041.1,720.3 1041.3,718.6 1042.2,715 1043.7,711.5 1044.8,709.8 1047.5,706.2 1072.1,682 1074.5,679.9 1077.4,677.8 1081,676.1 1084.6,675.1ZM1086.4,714.3 1084.6,715.2 1082.8,716.8 1081.7,718.6 1081,720.3 1080.7,722.1 1080.8,723.8 1081.3,725.6 1082.2,727.3 1083.7,729.1 1086.4,730.9 1088.2,731.3 1089.9,731.5 1091.7,731.3 1093.5,730.7 1095.9,729.1 1097.5,727.3 1098.3,725.6 1098.8,723.8 1098.9,722.1 1098.6,720.3 1097.9,718.6 1096.7,716.8 1095.3,715.4 1093.5,714.4 1091.7,713.8 1089.9,713.6 1088.2,713.8Z" fill="#B70000"/>
<path d="M1082.9,676.3 1086.4,675.6 1088.2,675.4 1091.7,675.4 1093.5,675.6 1097.1,676.5 1098.9,677.1 1102.4,678.9 1104.2,680.1 1107.8,683.3 1131,706.1 1132.7,708 1133.9,709.8 1135.8,713.3 1137,716.8 1137.6,720.3 1137.7,723.8 1137.6,725.6 1136.8,729.1 1135.5,732.6 1134.5,734.4 1132,737.9 1107.8,761.8 1104.2,765 1102.4,766.2 1098.9,768 1095.3,769.1 1091.7,769.7 1088.2,769.7 1086.4,769.5 1082.8,768.7 1079.2,767.3 1077.4,766.4 1073.9,763.8 1047.6,737.9 1046.2,736.1 1044.1,732.6 1042.8,729.1 1042.1,725.6 1041.9,723.8 1042,720.3 1042.6,716.8 1043.8,713.3 1044.6,711.5 1046.9,708 1048.9,705.8 1073.9,681.3 1077.4,678.7 1081,677ZM1088.2,711.5 1086.4,711.9 1084.6,712.7 1082.8,713.8 1081,715.5 1079.2,718.6 1078.7,720.3 1078.5,722.1 1078.6,723.8 1078.9,725.6 1079.6,727.3 1081,729.6 1082.8,731.3 1084.6,732.5 1086.4,733.2 1088.2,733.6 1089.9,733.7 1091.7,733.5 1093.5,733.1 1095.3,732.3 1097.3,730.9 1099,729.1 1100,727.3 1100.7,725.6 1101,723.8 1101.1,722.1 1100.9,720.3 1100.4,718.6 1098.9,715.9 1097.1,714 1096.1,713.3 1093.5,712 1091.7,711.5 1089.9,711.4Z" fill="#A70000"/>
<path d="M1087.2,676.3 1091.7,676.2 1095.3,676.8 1097.1,677.3 1100.7,678.7 1102.4,679.7 1106,682.4 1130.2,706.2 1131.8,708 1134.1,711.5 1135.7,715 1136.6,718.6 1136.9,722.1 1136.7,725.6 1136.4,727.3 1135.4,730.9 1133.7,734.4 1132.5,736.1 1129.4,739.7 1106.1,762.5 1104.2,764.1 1100.7,766.4 1097.1,767.8 1093.5,768.6 1089.9,768.9 1086.4,768.7 1084.6,768.4 1081,767.3 1077.4,765.5 1075.7,764.3 1073.5,762.5 1050.2,739.7 1047.1,736.1 1045.9,734.4 1044.2,730.9 1043.2,727.3 1042.7,723.8 1042.8,720.3 1043,718.6 1044,715 1045.5,711.5 1046.5,709.8 1049.4,706.2 1072.1,683.9 1075.7,680.8 1077.4,679.6 1081,677.8 1084.6,676.7ZM1088.2,709.7 1086.4,710 1082.9,711.5 1081,712.9 1079.2,714.8 1078,716.8 1077.3,718.6 1076.7,722.1 1076.7,723.8 1077.4,727 1078.5,729.1 1079.7,730.9 1081.5,732.6 1084.4,734.4 1086.4,735 1088.2,735.4 1089.9,735.5 1091.7,735.4 1095.2,734.4 1097.1,733.3 1098.9,731.9 1100.7,729.9 1102,727.3 1102.6,725.6 1102.9,722.1 1102.7,720.3 1102.3,718.6 1100.7,715.2 1099,713.3 1097.1,711.8 1095.3,710.8 1093.5,710.1 1091.7,709.7Z" fill="#970000"/>
<path d="M1082.7,678.1 1084.6,677.6 1088.2,677 1091.7,677.1 1093.5,677.3 1097.1,678.1 1098.9,678.8 1102.4,680.6 1104.2,681.8 1107.8,685.1 1129.3,706.2 1130.9,708 1132.2,709.8 1134.1,713.3 1135.3,716.8 1136,720.3 1136,723.8 1135.9,725.6 1135.1,729.1 1133.7,732.6 1132.8,734.4 1130.2,737.9 1107,760.8 1104.2,763.3 1102.4,764.5 1098.9,766.3 1095.3,767.5 1091.7,768 1088.2,768.1 1086.4,767.9 1082.8,767.1 1079.2,765.6 1077.4,764.7 1073.9,762 1049.4,737.9 1048,736.1 1045.9,732.6 1044.5,729.1 1043.7,725.6 1043.6,723.8 1043.6,720.3 1044.3,716.8 1045.5,713.3 1046.4,711.5 1048.7,708 1050.3,706.2 1073.9,683.1 1077.4,680.4 1079.2,679.5ZM1084.6,709.2 1082.8,709.9 1080.4,711.5 1079.2,712.6 1077.4,714.8 1076.5,716.8 1075.7,718.8 1075.2,722.1 1075.5,725.6 1076,727.3 1077.4,730.2 1079.3,732.6 1081.5,734.4 1084.6,736 1086.4,736.5 1089.9,736.9 1091.7,736.7 1094.6,736.1 1098.1,734.4 1100.2,732.6 1101.7,730.9 1102.8,729.1 1104.1,725.6 1104.4,723.8 1104.3,720.3 1103.8,718.6 1102.4,715.3 1101,713.3 1098.9,711.3 1096.5,709.8 1093.5,708.7 1091.7,708.3 1089.9,708.1 1088.2,708.3Z" fill="#870000"/>
<path d="M1086.2,678.1 1088.2,677.9 1091.7,677.9 1095.3,678.4 1097.1,678.9 1100.7,680.4 1102.4,681.5 1106,684.2 1130,708 1132.4,711.5 1134,715 1134.9,718.6 1135.3,722.1 1135,725.6 1134.3,729.1 1133.7,730.9 1131.9,734.4 1129.3,737.9 1106.1,760.8 1104.2,762.4 1102.4,763.7 1098.9,765.5 1095.3,766.7 1091.7,767.2 1088.2,767.3 1086.4,767.1 1084.6,766.7 1081,765.6 1077.4,763.8 1073.9,761.1 1052.1,739.7 1048.9,736.1 1047.7,734.4 1045.9,730.9 1044.9,727.3 1044.4,723.8 1044.4,720.3 1044.7,718.6 1045.6,715 1047.2,711.5 1049.6,708 1072.1,685.7 1075.7,682.5 1079.2,680.3 1081,679.5 1082.8,678.8ZM1084.6,708 1081,709.8 1078.9,711.5 1077.3,713.3 1075.3,716.8 1074.4,720.3 1074.2,722.1 1074.5,725.6 1075.6,729.1 1077.4,732 1079.2,733.9 1082.4,736.1 1084.6,737 1088.2,737.9 1091.3,737.9 1093.5,737.5 1097.1,736.2 1099.8,734.4 1101.6,732.6 1102.9,730.9 1104.2,728.5 1105.1,725.6 1105.4,722.1 1104.9,718.6 1104.2,716.5 1102.4,713.4 1100.7,711.4 1098.5,709.8 1095.3,708.1 1093.5,707.6 1089.9,707.2 1088.2,707.3Z" fill="#800000"/>
</g></g>
<rect x="953.1" y="589.1" width="271.9" height="267.7" fill="none" stroke="#262626" stroke-width="2.2"/><path d="M959.23,589.1v3.9 M959.23,856.8v-3.9M1045.78,589.1v3.9 M1045.78,856.8v-3.9M1089.05,589.1v3.9 M1089.05,856.8v-3.9M1132.32,589.1v3.9 M1132.32,856.8v-3.9M1218.87,589.1v3.9 M1218.87,856.8v-3.9M953.1,850.77h3.9 M1225,850.77h-3.9M953.1,765.56h3.9 M1225,765.56h-3.9M953.1,722.95h3.9 M1225,722.95h-3.9M953.1,680.34h3.9 M1225,680.34h-3.9M953.1,595.13h3.9 M1225,595.13h-3.9" stroke="#262626" stroke-width="2" fill="none"/>
<rect x="1264.4" y="589.1" width="17.3" height="267.5" fill="url(#jet)" stroke="#333" stroke-width="2.3"/>
<path d="M1281.7,722.7h-3.5" stroke="#262626" stroke-width="1.6"/>
<rect x="161.4" y="1065" width="274.1" height="267" fill="none" stroke="#262626" stroke-width="2.2"/><path d="M161.4,1065v3.9 M161.4,1332v-3.9M298.45,1065v3.9 M298.45,1332v-3.9M435.5,1065v3.9 M435.5,1332v-3.9M161.4,1087.1h3.9 M435.5,1087.1h-3.9M161.4,1198.47h3.9 M435.5,1198.47h-3.9M161.4,1309.85h3.9 M435.5,1309.85h-3.9" stroke="#262626" stroke-width="2" fill="none"/>
<rect x="244.25" y="1065" width="108.4" height="267" fill="#FFFFB3"/>
<path d="M161.4,1087.1H435.5" stroke="#808080" stroke-width="4.2" stroke-dasharray="23.5 14.1" fill="none"/>
<path d="M161.4,1309.85H435.5" stroke="#808080" stroke-width="4.2" stroke-dasharray="23.5 14.1" fill="none"/>
<path d="M150.7,1289.33C152.49,1289.33 157.15,1289.37 161.44,1289.33C165.74,1289.3 171.47,1289.01 176.48,1289.12C181.49,1289.23 186.87,1289.51 191.52,1289.98C196.17,1290.44 200.11,1291.02 204.41,1291.91C208.71,1292.81 213.36,1294.06 217.3,1295.35C221.24,1296.64 224.82,1298.14 228.04,1299.65C231.26,1301.15 233.95,1302.69 236.63,1304.37C239.32,1306.05 242.9,1308.85 244.15,1309.74L352.64,1309.74C353.71,1308.67 356.58,1305.27 359.08,1303.3C361.59,1301.33 364.45,1299.54 367.67,1297.93C370.9,1296.32 374.48,1294.78 378.42,1293.63C382.35,1292.48 386.65,1291.7 391.31,1291.05C395.96,1290.41 401.33,1290.05 406.34,1289.76C411.36,1289.48 416.55,1289.41 421.38,1289.33C426.21,1289.26 431.41,1289.33 435.34,1289.33C439.28,1289.33 443.4,1289.33 445.01,1289.33" stroke="#0000FF" stroke-width="5.8" fill="none" stroke-linejoin="round" clip-path="url(#ka3)"/>
<rect x="557" y="1065" width="271.9" height="267" fill="none" stroke="#262626" stroke-width="2.2"/><path d="M557,1065v3.9 M557,1332v-3.9M692.95,1065v3.9 M692.95,1332v-3.9M828.9,1065v3.9 M828.9,1332v-3.9M557,1087.1h3.9 M828.9,1087.1h-3.9M557,1198.47h3.9 M828.9,1198.47h-3.9M557,1309.85h3.9 M828.9,1309.85h-3.9" stroke="#262626" stroke-width="2" fill="none"/>
<path d="M557,1087.1H828.9" stroke="#808080" stroke-width="4.2" stroke-dasharray="23.5 14.1" fill="none"/>
<path d="M557,1309.85H828.9" stroke="#808080" stroke-width="4.2" stroke-dasharray="23.5 14.1" fill="none"/>
<path d="M550.95,1285.07C551.94,1284.8 554.89,1284.01 556.87,1283.47C558.84,1282.92 560.81,1282.36 562.78,1281.79C564.76,1281.21 566.73,1280.63 568.7,1280.02C570.67,1279.42 572.64,1278.8 574.62,1278.17C576.59,1277.53 578.56,1276.88 580.53,1276.21C582.51,1275.54 584.48,1274.86 586.45,1274.15C588.42,1273.44 590.39,1272.72 592.37,1271.97C594.34,1271.22 596.31,1270.46 598.28,1269.67C600.26,1268.87 602.23,1268.06 604.2,1267.22C606.17,1266.38 608.14,1265.52 610.12,1264.63C612.09,1263.73 614.06,1262.82 616.03,1261.87C618.01,1260.92 619.98,1259.94 621.95,1258.93C623.92,1257.91 625.89,1256.87 627.87,1255.78C629.84,1254.7 631.81,1253.58 633.78,1252.42C635.76,1251.26 637.73,1250.06 639.7,1248.81C641.67,1247.57 643.64,1246.28 645.62,1244.93C647.59,1243.59 649.56,1242.2 651.53,1240.75C653.51,1239.29 655.48,1237.79 657.45,1236.22C659.42,1234.64 661.39,1233.01 663.37,1231.3C665.34,1229.59 667.31,1227.81 669.28,1225.94C671.26,1224.07 673.23,1222.13 675.2,1220.09C677.17,1218.04 679.14,1215.91 681.12,1213.66C683.09,1211.4 685.06,1209.06 687.03,1206.56C689.01,1204.07 691.96,1200.01 692.95,1198.7C693.94,1200.01 696.89,1204.07 698.87,1206.56C700.84,1209.06 702.81,1211.4 704.78,1213.66C706.76,1215.91 708.73,1218.04 710.7,1220.09C712.67,1222.13 714.64,1224.07 716.62,1225.94C718.59,1227.81 720.56,1229.59 722.53,1231.3C724.51,1233.01 726.48,1234.64 728.45,1236.22C730.42,1237.79 732.39,1239.29 734.37,1240.75C736.34,1242.2 738.31,1243.59 740.28,1244.93C742.26,1246.28 744.23,1247.57 746.2,1248.81C748.17,1250.06 750.14,1251.26 752.12,1252.42C754.09,1253.58 756.06,1254.7 758.03,1255.78C760.01,1256.87 761.98,1257.91 763.95,1258.93C765.92,1259.94 767.89,1260.92 769.87,1261.87C771.84,1262.82 773.81,1263.73 775.78,1264.63C777.76,1265.52 779.73,1266.38 781.7,1267.22C783.67,1268.06 785.64,1268.87 787.62,1269.67C789.59,1270.46 791.56,1271.22 793.53,1271.97C795.51,1272.72 797.48,1273.44 799.45,1274.15C801.42,1274.86 803.39,1275.54 805.37,1276.21C807.34,1276.88 809.31,1277.53 811.28,1278.17C813.26,1278.8 815.23,1279.42 817.2,1280.02C819.17,1280.63 821.14,1281.21 823.12,1281.79C825.09,1282.36 827.06,1282.92 829.03,1283.47C831.01,1284.01 833.96,1284.8 834.95,1285.07" stroke="#0000FF" stroke-width="5.8" fill="none" stroke-linejoin="round" clip-path="url(#kb3)"/>
<rect x="953.1" y="1065" width="271.9" height="267" fill="none" stroke="#262626" stroke-width="2.2"/><path d="M953.1,1065v3.9 M953.1,1332v-3.9M1089.05,1065v3.9 M1089.05,1332v-3.9M1225,1065v3.9 M1225,1332v-3.9M953.1,1087.1h3.9 M1225,1087.1h-3.9M953.1,1198.47h3.9 M1225,1198.47h-3.9M953.1,1309.85h3.9 M1225,1309.85h-3.9" stroke="#262626" stroke-width="2" fill="none"/>
<rect x="1060.65" y="1065" width="56.8" height="267" fill="#FFFFB3"/>
<path d="M953.1,1087.1H1225" stroke="#808080" stroke-width="4.2" stroke-dasharray="23.5 14.1" fill="none"/>
<path d="M953.1,1309.85H1225" stroke="#808080" stroke-width="4.2" stroke-dasharray="23.5 14.1" fill="none"/>
<path d="M948.25,1288.8C949.16,1288.38 949.42,1288.26 953.71,1286.3C958,1284.34 968.25,1280.11 973.98,1277.02C979.72,1273.93 984.1,1270.84 988.1,1267.74C992.1,1264.65 995.11,1261.56 997.98,1258.46C1000.84,1255.37 1003.17,1252.28 1005.29,1249.18C1007.42,1246.09 1009.16,1243 1010.74,1239.91C1012.32,1236.81 1013.59,1233.72 1014.78,1230.63C1015.97,1227.53 1016.92,1224.44 1017.88,1221.35C1018.83,1218.25 1019.64,1215.16 1020.5,1212.07C1021.37,1208.98 1022.21,1205.88 1023.09,1202.79C1023.98,1199.7 1024.89,1196.6 1025.81,1193.51C1026.73,1190.42 1027.68,1187.32 1028.64,1184.23C1029.59,1181.14 1030.57,1178.05 1031.55,1174.95C1032.54,1171.86 1033.53,1168.77 1034.54,1165.67C1035.54,1162.58 1036.56,1159.49 1037.58,1156.39C1038.59,1153.3 1039.62,1150.21 1040.64,1147.12C1041.67,1144.02 1042.7,1140.93 1043.72,1137.84C1044.75,1134.74 1045.78,1131.65 1046.8,1128.56C1047.82,1125.46 1048.83,1122.37 1049.84,1119.28C1050.85,1116.19 1051.09,1115.36 1052.84,1110C1054.58,1104.64 1059.06,1090.92 1060.3,1087.1L1117.8,1087.1C1119.04,1090.92 1123.52,1104.64 1125.26,1110C1127.01,1115.36 1127.25,1116.19 1128.26,1119.28C1129.27,1122.37 1130.28,1125.46 1131.3,1128.56C1132.32,1131.65 1133.35,1134.74 1134.38,1137.84C1135.4,1140.93 1136.43,1144.02 1137.46,1147.12C1138.48,1150.21 1139.51,1153.3 1140.52,1156.39C1141.54,1159.49 1142.56,1162.58 1143.56,1165.67C1144.57,1168.77 1145.56,1171.86 1146.55,1174.95C1147.53,1178.05 1148.51,1181.14 1149.46,1184.23C1150.42,1187.32 1151.37,1190.42 1152.29,1193.51C1153.21,1196.6 1154.12,1199.7 1155.01,1202.79C1155.89,1205.88 1156.73,1208.98 1157.6,1212.07C1158.46,1215.16 1159.27,1218.25 1160.22,1221.35C1161.18,1224.44 1162.13,1227.53 1163.32,1230.63C1164.51,1233.72 1165.78,1236.81 1167.36,1239.91C1168.94,1243 1170.68,1246.09 1172.81,1249.18C1174.93,1252.28 1177.26,1255.37 1180.12,1258.46C1182.99,1261.56 1186,1264.65 1190,1267.74C1194,1270.84 1198.38,1273.93 1204.12,1277.02C1209.85,1280.11 1220.1,1284.34 1224.39,1286.3C1228.68,1288.26 1228.94,1288.38 1229.85,1288.8" stroke="#0000FF" stroke-width="5.8" fill="none" stroke-linejoin="round" clip-path="url(#kc3)"/>
<rect x="161.4" y="1540.6" width="274.1" height="266.9" fill="none" stroke="#262626" stroke-width="2.2"/><path d="M161.4,1540.6v3.9 M161.4,1807.5v-3.9M298.45,1540.6v3.9 M298.45,1807.5v-3.9M435.5,1540.6v3.9 M435.5,1807.5v-3.9M161.4,1552.6h3.9 M435.5,1552.6h-3.9M161.4,1673.9h3.9 M435.5,1673.9h-3.9M161.4,1795.3h3.9 M435.5,1795.3h-3.9" stroke="#262626" stroke-width="2" fill="none"/>
<rect x="244.25" y="1540.6" width="108.4" height="266.9" fill="#FFFFB3"/>
<path d="M161.4,1673.9H435.5" stroke="#808080" stroke-width="4.2" stroke-dasharray="23.5 14.1" fill="none"/>
<path d="M150.56,1676.89C152.31,1677.41 157.59,1678.93 161.11,1680C164.63,1681.07 168.06,1682.13 171.67,1683.33C175.28,1684.54 179.07,1685.87 182.78,1687.22C186.48,1688.57 190.19,1690.06 193.89,1691.44C197.59,1692.83 201.48,1694.5 205,1695.56C208.52,1696.61 211.85,1697.35 215,1697.78C218.15,1698.2 221.3,1698.39 223.89,1698.11C226.48,1697.83 228.7,1697.09 230.56,1696.11C232.41,1695.13 233.61,1693.89 235,1692.22C236.39,1690.56 237.59,1688.33 238.89,1686.11C240.19,1683.89 241.39,1680.74 242.78,1678.89C244.17,1677.04 245.56,1675.83 247.22,1675C248.89,1674.17 250.37,1674.07 252.78,1673.89C255.19,1673.7 260.19,1673.89 261.67,1673.89L335.23,1673.91C336.71,1673.91 341.71,1674.1 344.12,1673.91C346.53,1673.73 348.01,1673.63 349.68,1672.8C351.34,1671.97 352.73,1670.76 354.12,1668.91C355.51,1667.06 356.71,1663.91 358.01,1661.69C359.31,1659.47 360.51,1657.24 361.9,1655.58C363.29,1653.91 364.49,1652.67 366.34,1651.69C368.2,1650.71 370.42,1649.97 373.01,1649.69C375.6,1649.41 378.75,1649.6 381.9,1650.02C385.05,1650.45 388.38,1651.19 391.9,1652.24C395.42,1653.3 399.31,1654.97 403.01,1656.36C406.71,1657.74 410.42,1659.23 414.12,1660.58C417.83,1661.93 421.62,1663.26 425.23,1664.47C428.84,1665.67 432.27,1666.73 435.79,1667.8C439.31,1668.87 444.59,1670.39 446.34,1670.91" stroke="#0000FF" stroke-width="5.8" fill="none" stroke-linejoin="round" clip-path="url(#ka4)"/>
<rect x="557" y="1540.6" width="271.9" height="266.9" fill="none" stroke="#262626" stroke-width="2.2"/><path d="M557,1540.6v3.9 M557,1807.5v-3.9M692.95,1540.6v3.9 M692.95,1807.5v-3.9M828.9,1540.6v3.9 M828.9,1807.5v-3.9M557,1590.5h3.9 M828.9,1590.5h-3.9M557,1673.9h3.9 M828.9,1673.9h-3.9M557,1757.2h3.9 M828.9,1757.2h-3.9" stroke="#262626" stroke-width="2" fill="none"/>
<path d="M557,1673.9H828.9" stroke="#808080" stroke-width="4.2" stroke-dasharray="23.5 14.1" fill="none"/>
<path d="M555,1673.9L648.64,1673.91C651.79,1673.91 663.18,1673.91 667.55,1673.91C671.91,1673.91 673,1674.15 674.82,1673.91C676.64,1673.67 677.36,1673.79 678.45,1672.45C679.55,1671.12 680.52,1669.42 681.36,1665.91C682.21,1662.39 682.94,1657.42 683.55,1651.36C684.15,1645.3 684.52,1638.03 685,1629.55C685.48,1621.06 685.97,1610.15 686.45,1600.45C686.94,1590.76 687.42,1579.85 687.91,1571.36C688.39,1562.88 688.93,1554.15 689.36,1549.55C689.8,1544.94 690.16,1541.3 690.53,1543.73C690.89,1546.15 691.25,1553.42 691.55,1564.09C691.84,1574.76 692.03,1589.42 692.27,1607.73C692.52,1626.03 692.76,1652.09 693,1673.91C693.24,1695.73 693.48,1720.58 693.73,1738.64C693.97,1756.7 694.16,1771.85 694.45,1782.27C694.75,1792.7 695.11,1801.18 695.47,1801.18C695.84,1801.18 696.2,1790.27 696.64,1782.27C697.07,1774.27 697.61,1762.88 698.09,1753.18C698.58,1743.48 699.06,1732.58 699.55,1724.09C700.03,1715.61 700.52,1708.33 701,1702.27C701.48,1696.21 701.85,1691.73 702.45,1687.73C703.06,1683.73 703.79,1680.45 704.64,1678.27C705.48,1676.09 706.21,1675.36 707.55,1674.64C708.88,1673.91 709.61,1674.03 712.64,1673.91C715.67,1673.79 723.55,1673.91 725.73,1673.91L830.9,1673.9" stroke="#0000FF" stroke-width="5.8" fill="none" stroke-linejoin="round" clip-path="url(#kb4)"/>
<rect x="953.1" y="1540.6" width="271.9" height="266.9" fill="none" stroke="#262626" stroke-width="2.2"/><path d="M953.1,1540.6v3.9 M953.1,1807.5v-3.9M1089.05,1540.6v3.9 M1089.05,1807.5v-3.9M1225,1540.6v3.9 M1225,1807.5v-3.9M953.1,1552.6h3.9 M1225,1552.6h-3.9M953.1,1673.9h3.9 M1225,1673.9h-3.9M953.1,1795.3h3.9 M1225,1795.3h-3.9" stroke="#262626" stroke-width="2" fill="none"/>
<rect x="1060.65" y="1540.6" width="56.8" height="266.9" fill="#FFFFB3"/>
<path d="M953.1,1673.9H1225" stroke="#808080" stroke-width="4.2" stroke-dasharray="23.5 14.1" fill="none"/>
<path d="M945,1645.56C946.39,1644.54 950.56,1641.57 953.33,1639.44C956.11,1637.31 958.8,1635.37 961.67,1632.78C964.54,1630.19 967.59,1627.22 970.56,1623.89C973.52,1620.56 976.67,1616.67 979.44,1612.78C982.22,1608.89 984.81,1604.81 987.22,1600.56C989.63,1596.3 991.85,1591.48 993.89,1587.22C995.93,1582.96 997.59,1579.26 999.44,1575C1001.3,1570.74 1003.33,1565.37 1005,1561.67C1006.67,1557.96 1008.06,1555 1009.44,1552.78C1010.83,1550.56 1012.22,1549.22 1013.33,1548.33C1014.44,1547.44 1015.19,1547.35 1016.11,1547.44C1017.04,1547.54 1017.87,1547.72 1018.89,1548.89C1019.91,1550.06 1021.02,1551.76 1022.22,1554.44C1023.43,1557.13 1024.72,1561.02 1026.11,1565C1027.5,1568.98 1029.07,1573.7 1030.56,1578.33C1032.04,1582.96 1033.52,1587.78 1035,1592.78C1036.48,1597.78 1037.96,1602.96 1039.44,1608.33C1040.93,1613.7 1042.41,1619.63 1043.89,1625C1045.37,1630.37 1046.85,1635.56 1048.33,1640.56C1049.81,1645.56 1051.39,1650.93 1052.78,1655C1054.17,1659.07 1055.37,1662.31 1056.67,1665C1057.96,1667.69 1059.07,1669.67 1060.56,1671.11C1062.04,1672.56 1063.89,1673.2 1065.56,1673.67C1067.22,1674.13 1068.43,1673.85 1070.56,1673.89C1072.69,1673.93 1077.04,1673.89 1078.33,1673.89L1099.77,1673.91C1101.06,1673.91 1105.41,1673.87 1107.54,1673.91C1109.67,1673.95 1110.88,1673.67 1112.54,1674.13C1114.21,1674.6 1116.06,1675.24 1117.54,1676.69C1119.03,1678.13 1120.14,1680.11 1121.43,1682.8C1122.73,1685.49 1123.93,1688.73 1125.32,1692.8C1126.71,1696.87 1128.29,1702.24 1129.77,1707.24C1131.25,1712.24 1132.73,1717.43 1134.21,1722.8C1135.69,1728.17 1137.17,1734.1 1138.66,1739.47C1140.14,1744.84 1141.62,1750.02 1143.1,1755.02C1144.58,1760.02 1146.06,1764.84 1147.54,1769.47C1149.03,1774.1 1150.6,1778.82 1151.99,1782.8C1153.38,1786.78 1154.67,1790.67 1155.88,1793.36C1157.08,1796.04 1158.19,1797.74 1159.21,1798.91C1160.23,1800.08 1161.06,1800.26 1161.99,1800.36C1162.91,1800.45 1163.66,1800.36 1164.77,1799.47C1165.88,1798.58 1167.27,1797.24 1168.66,1795.02C1170.04,1792.8 1171.43,1789.84 1173.1,1786.13C1174.77,1782.43 1176.8,1777.06 1178.66,1772.8C1180.51,1768.54 1182.17,1764.84 1184.21,1760.58C1186.25,1756.32 1188.47,1751.5 1190.88,1747.24C1193.29,1742.99 1195.88,1738.91 1198.66,1735.02C1201.43,1731.13 1204.58,1727.24 1207.54,1723.91C1210.51,1720.58 1213.56,1717.61 1216.43,1715.02C1219.3,1712.43 1221.99,1710.49 1224.77,1708.36C1227.54,1706.23 1231.71,1703.26 1233.1,1702.24" stroke="#0000FF" stroke-width="5.8" fill="none" stroke-linejoin="round" clip-path="url(#kc4)"/>
<rect x="1225" y="111.55" width="123.6" height="142.4" fill="#fff" stroke="#262626" stroke-width="2.2"/>
<path d="M1236.3,149.8H1256.3" stroke="#FF0000" stroke-width="6"/><path d="M1236.3,216.1H1256.3" stroke="#0000FF" stroke-width="6"/>
<text transform="translate(166.58,434) scale(1.03,1)" font-size="37.4" text-anchor="middle" fill="#262626">-3</text>
<text transform="translate(252.83,434) scale(1.03,1)" font-size="37.4" text-anchor="middle" fill="#262626">-1</text>
<text transform="translate(297.45,434) scale(1.03,1)" font-size="37.4" text-anchor="middle" fill="#262626">0</text>
<text transform="translate(340.57,434) scale(1.03,1)" font-size="37.4" text-anchor="middle" fill="#262626">1</text>
<text transform="translate(427.12,434) scale(1.03,1)" font-size="37.4" text-anchor="middle" fill="#262626">3</text>
<text transform="translate(166.58,910.1) scale(1.03,1)" font-size="37.4" text-anchor="middle" fill="#262626">-3</text>
<text transform="translate(252.83,910.1) scale(1.03,1)" font-size="37.4" text-anchor="middle" fill="#262626">-1</text>
<text transform="translate(297.45,910.1) scale(1.03,1)" font-size="37.4" text-anchor="middle" fill="#262626">0</text>
<text transform="translate(340.57,910.1) scale(1.03,1)" font-size="37.4" text-anchor="middle" fill="#262626">1</text>
<text transform="translate(427.12,910.1) scale(1.03,1)" font-size="37.4" text-anchor="middle" fill="#262626">3</text>
<text transform="translate(159.9,1385) scale(1.03,1)" font-size="37.4" text-anchor="middle" fill="#262626">-0.2</text>
<text transform="translate(297.95,1385) scale(1.03,1)" font-size="37.4" text-anchor="middle" fill="#262626">0</text>
<text transform="translate(435.5,1385) scale(1.03,1)" font-size="37.4" text-anchor="middle" fill="#262626">0.2</text>
<text transform="translate(159.9,1860.5) scale(1.03,1)" font-size="37.4" text-anchor="middle" fill="#262626">-0.2</text>
<text transform="translate(297.95,1860.5) scale(1.03,1)" font-size="37.4" text-anchor="middle" fill="#262626">0</text>
<text transform="translate(435.5,1860.5) scale(1.03,1)" font-size="37.4" text-anchor="middle" fill="#262626">0.2</text>
<text transform="translate(143.9,125.55) scale(1.03,1)" font-size="37.4" text-anchor="end" fill="#262626">0.2</text>
<text transform="translate(143.9,260.1) scale(1.03,1)" font-size="37.4" text-anchor="end" fill="#262626">0</text>
<text transform="translate(143.9,395.3) scale(1.03,1)" font-size="37.4" text-anchor="end" fill="#262626">-0.2</text>
<text transform="translate(143.9,610.3) scale(1.03,1)" font-size="37.4" text-anchor="end" fill="#262626">3</text>
<text transform="translate(143.9,694.8) scale(1.03,1)" font-size="37.4" text-anchor="end" fill="#262626">1</text>
<text transform="translate(143.9,737.2) scale(1.03,1)" font-size="37.4" text-anchor="end" fill="#262626">0</text>
<text transform="translate(143.9,780.1) scale(1.03,1)" font-size="37.4" text-anchor="end" fill="#262626">-1</text>
<text transform="translate(143.9,865.2) scale(1.03,1)" font-size="37.4" text-anchor="end" fill="#262626">-3</text>
<text transform="translate(143.9,1100.6) scale(1.03,1)" font-size="37.4" text-anchor="end" fill="#262626">1</text>
<text transform="translate(143.9,1212.47) scale(1.03,1)" font-size="37.4" text-anchor="end" fill="#262626">0.5</text>
<text transform="translate(143.9,1323.55) scale(1.03,1)" font-size="37.4" text-anchor="end" fill="#262626">0</text>
<text transform="translate(143.9,1567.4) scale(1.03,1)" font-size="37.4" text-anchor="end" fill="#262626">0.05</text>
<text transform="translate(143.9,1687.5) scale(1.03,1)" font-size="37.4" text-anchor="end" fill="#262626">0</text>
<text transform="translate(143.9,1809) scale(1.03,1)" font-size="37.4" text-anchor="end" fill="#262626">-0.05</text>
<text transform="translate(562.13,434) scale(1.03,1)" font-size="37.4" text-anchor="middle" fill="#262626">-3</text>
<text transform="translate(647.68,434) scale(1.03,1)" font-size="37.4" text-anchor="middle" fill="#262626">-1</text>
<text transform="translate(691.95,434) scale(1.03,1)" font-size="37.4" text-anchor="middle" fill="#262626">0</text>
<text transform="translate(734.72,434) scale(1.03,1)" font-size="37.4" text-anchor="middle" fill="#262626">1</text>
<text transform="translate(820.57,434) scale(1.03,1)" font-size="37.4" text-anchor="middle" fill="#262626">3</text>
<text transform="translate(562.13,910.1) scale(1.03,1)" font-size="37.4" text-anchor="middle" fill="#262626">-3</text>
<text transform="translate(647.68,910.1) scale(1.03,1)" font-size="37.4" text-anchor="middle" fill="#262626">-1</text>
<text transform="translate(691.95,910.1) scale(1.03,1)" font-size="37.4" text-anchor="middle" fill="#262626">0</text>
<text transform="translate(734.72,910.1) scale(1.03,1)" font-size="37.4" text-anchor="middle" fill="#262626">1</text>
<text transform="translate(820.57,910.1) scale(1.03,1)" font-size="37.4" text-anchor="middle" fill="#262626">3</text>
<text transform="translate(555.5,1385) scale(1.03,1)" font-size="37.4" text-anchor="middle" fill="#262626">-0.2</text>
<text transform="translate(692.45,1385) scale(1.03,1)" font-size="37.4" text-anchor="middle" fill="#262626">0</text>
<text transform="translate(828.9,1385) scale(1.03,1)" font-size="37.4" text-anchor="middle" fill="#262626">0.2</text>
<text transform="translate(555.5,1860.5) scale(1.03,1)" font-size="37.4" text-anchor="middle" fill="#262626">-0.2</text>
<text transform="translate(692.45,1860.5) scale(1.03,1)" font-size="37.4" text-anchor="middle" fill="#262626">0</text>
<text transform="translate(828.9,1860.5) scale(1.03,1)" font-size="37.4" text-anchor="middle" fill="#262626">0.2</text>
<text transform="translate(539.5,125.55) scale(1.03,1)" font-size="37.4" text-anchor="end" fill="#262626">0.2</text>
<text transform="translate(539.5,260.1) scale(1.03,1)" font-size="37.4" text-anchor="end" fill="#262626">0</text>
<text transform="translate(539.5,395.3) scale(1.03,1)" font-size="37.4" text-anchor="end" fill="#262626">-0.2</text>
<text transform="translate(539.5,610.3) scale(1.03,1)" font-size="37.4" text-anchor="end" fill="#262626">3</text>
<text transform="translate(539.5,694.8) scale(1.03,1)" font-size="37.4" text-anchor="end" fill="#262626">1</text>
<text transform="translate(539.5,737.2) scale(1.03,1)" font-size="37.4" text-anchor="end" fill="#262626">0</text>
<text transform="translate(539.5,780.1) scale(1.03,1)" font-size="37.4" text-anchor="end" fill="#262626">-1</text>
<text transform="translate(539.5,865.2) scale(1.03,1)" font-size="37.4" text-anchor="end" fill="#262626">-3</text>
<text transform="translate(539.5,1100.6) scale(1.03,1)" font-size="37.4" text-anchor="end" fill="#262626">1</text>
<text transform="translate(539.5,1212.47) scale(1.03,1)" font-size="37.4" text-anchor="end" fill="#262626">0.5</text>
<text transform="translate(539.5,1323.55) scale(1.03,1)" font-size="37.4" text-anchor="end" fill="#262626">0</text>
<text transform="translate(539.5,1604.5) scale(1.03,1)" font-size="37.4" text-anchor="end" fill="#262626">20</text>
<text transform="translate(539.5,1687.5) scale(1.03,1)" font-size="37.4" text-anchor="end" fill="#262626">0</text>
<text transform="translate(539.5,1771.2) scale(1.03,1)" font-size="37.4" text-anchor="end" fill="#262626">-20</text>
<text transform="translate(958.23,434) scale(1.03,1)" font-size="37.4" text-anchor="middle" fill="#262626">-3</text>
<text transform="translate(1043.78,434) scale(1.03,1)" font-size="37.4" text-anchor="middle" fill="#262626">-1</text>
<text transform="translate(1088.05,434) scale(1.03,1)" font-size="37.4" text-anchor="middle" fill="#262626">0</text>
<text transform="translate(1130.82,434) scale(1.03,1)" font-size="37.4" text-anchor="middle" fill="#262626">1</text>
<text transform="translate(1216.67,434) scale(1.03,1)" font-size="37.4" text-anchor="middle" fill="#262626">3</text>
<text transform="translate(958.23,910.1) scale(1.03,1)" font-size="37.4" text-anchor="middle" fill="#262626">-3</text>
<text transform="translate(1043.78,910.1) scale(1.03,1)" font-size="37.4" text-anchor="middle" fill="#262626">-1</text>
<text transform="translate(1088.05,910.1) scale(1.03,1)" font-size="37.4" text-anchor="middle" fill="#262626">0</text>
<text transform="translate(1130.82,910.1) scale(1.03,1)" font-size="37.4" text-anchor="middle" fill="#262626">1</text>
<text transform="translate(1216.67,910.1) scale(1.03,1)" font-size="37.4" text-anchor="middle" fill="#262626">3</text>
<text transform="translate(951.6,1385) scale(1.03,1)" font-size="37.4" text-anchor="middle" fill="#262626">-0.2</text>
<text transform="translate(1088.55,1385) scale(1.03,1)" font-size="37.4" text-anchor="middle" fill="#262626">0</text>
<text transform="translate(1225,1385) scale(1.03,1)" font-size="37.4" text-anchor="middle" fill="#262626">0.2</text>
<text transform="translate(951.6,1860.5) scale(1.03,1)" font-size="37.4" text-anchor="middle" fill="#262626">-0.2</text>
<text transform="translate(1088.55,1860.5) scale(1.03,1)" font-size="37.4" text-anchor="middle" fill="#262626">0</text>
<text transform="translate(1225,1860.5) scale(1.03,1)" font-size="37.4" text-anchor="middle" fill="#262626">0.2</text>
<text transform="translate(935.6,125.55) scale(1.03,1)" font-size="37.4" text-anchor="end" fill="#262626">0.2</text>
<text transform="translate(935.6,260.1) scale(1.03,1)" font-size="37.4" text-anchor="end" fill="#262626">0</text>
<text transform="translate(935.6,395.3) scale(1.03,1)" font-size="37.4" text-anchor="end" fill="#262626">-0.2</text>
<text transform="translate(935.6,610.3) scale(1.03,1)" font-size="37.4" text-anchor="end" fill="#262626">3</text>
<text transform="translate(935.6,694.8) scale(1.03,1)" font-size="37.4" text-anchor="end" fill="#262626">1</text>
<text transform="translate(935.6,737.2) scale(1.03,1)" font-size="37.4" text-anchor="end" fill="#262626">0</text>
<text transform="translate(935.6,780.1) scale(1.03,1)" font-size="37.4" text-anchor="end" fill="#262626">-1</text>
<text transform="translate(935.6,865.2) scale(1.03,1)" font-size="37.4" text-anchor="end" fill="#262626">-3</text>
<text transform="translate(935.6,1100.6) scale(1.03,1)" font-size="37.4" text-anchor="end" fill="#262626">1</text>
<text transform="translate(935.6,1212.47) scale(1.03,1)" font-size="37.4" text-anchor="end" fill="#262626">0.5</text>
<text transform="translate(935.6,1323.55) scale(1.03,1)" font-size="37.4" text-anchor="end" fill="#262626">0</text>
<text transform="translate(935.6,1567.4) scale(1.03,1)" font-size="37.4" text-anchor="end" fill="#262626">0.05</text>
<text transform="translate(935.6,1687.5) scale(1.03,1)" font-size="37.4" text-anchor="end" fill="#262626">0</text>
<text transform="translate(935.6,1809) scale(1.03,1)" font-size="37.4" text-anchor="end" fill="#262626">-0.05</text>
<text transform="translate(1298.2,601.7) scale(1.03,1)" font-size="33.8" text-anchor="start" fill="#262626">1</text>
<text transform="translate(1296.2,735.6) scale(1.03,1)" font-size="33.8" text-anchor="start" fill="#262626">0</text>
<text transform="translate(1296.5,868.5) scale(1.03,1)" font-size="33.8" text-anchor="start" fill="#262626">-1</text>
<text transform="translate(258.58,88.53) scale(0.4711,0.5234)" font-size="100" fill="#000" stroke="#000" stroke-width="0.3">(</text>
<text transform="translate(274.70,87.75) scale(0.4871,0.4650)" font-size="100" fill="#000" stroke="#000" stroke-width="0.3">a1</text>
<text transform="translate(322.20,88.53) scale(0.4711,0.5234)" font-size="100" fill="#000" stroke="#000" stroke-width="0.3">)</text>
<text transform="translate(258.58,566.08) scale(0.4711,0.5234)" font-size="100" fill="#000" stroke="#000" stroke-width="0.3">(</text>
<text transform="translate(274.63,565.30) scale(0.5053,0.4650)" font-size="100" fill="#000" stroke="#000" stroke-width="0.3">a2</text>
<text transform="translate(322.20,566.08) scale(0.4711,0.5234)" font-size="100" fill="#000" stroke="#000" stroke-width="0.3">)</text>
<text transform="translate(258.58,1041.98) scale(0.4711,0.5234)" font-size="100" fill="#000" stroke="#000" stroke-width="0.3">(</text>
<text transform="translate(274.66,1041.20) scale(0.4966,0.4650)" font-size="100" fill="#000" stroke="#000" stroke-width="0.3">a3</text>
<text transform="translate(322.20,1041.98) scale(0.4711,0.5234)" font-size="100" fill="#000" stroke="#000" stroke-width="0.3">)</text>
<text transform="translate(258.58,1517.58) scale(0.4711,0.5234)" font-size="100" fill="#000" stroke="#000" stroke-width="0.3">(</text>
<text transform="translate(274.71,1516.80) scale(0.4827,0.4650)" font-size="100" fill="#000" stroke="#000" stroke-width="0.3">a4</text>
<text transform="translate(322.20,1517.58) scale(0.4711,0.5234)" font-size="100" fill="#000" stroke="#000" stroke-width="0.3">)</text>
<text transform="translate(652.03,88.53) scale(0.4711,0.5234)" font-size="100" fill="#000" stroke="#000" stroke-width="0.3">(</text>
<text transform="translate(669.20,87.75) scale(0.4777,0.4650)" font-size="100" fill="#000" stroke="#000" stroke-width="0.3">b1</text>
<text transform="translate(718.30,88.53) scale(0.4711,0.5234)" font-size="100" fill="#000" stroke="#000" stroke-width="0.3">)</text>
<text transform="translate(652.03,566.08) scale(0.4711,0.5234)" font-size="100" fill="#000" stroke="#000" stroke-width="0.3">(</text>
<text transform="translate(669.20,565.30) scale(0.4942,0.4650)" font-size="100" fill="#000" stroke="#000" stroke-width="0.3">b2</text>
<text transform="translate(718.30,566.08) scale(0.4711,0.5234)" font-size="100" fill="#000" stroke="#000" stroke-width="0.3">)</text>
<text transform="translate(652.03,1041.98) scale(0.4711,0.5234)" font-size="100" fill="#000" stroke="#000" stroke-width="0.3">(</text>
<text transform="translate(669.20,1041.20) scale(0.4865,0.4650)" font-size="100" fill="#000" stroke="#000" stroke-width="0.3">b3</text>
<text transform="translate(718.30,1041.98) scale(0.4711,0.5234)" font-size="100" fill="#000" stroke="#000" stroke-width="0.3">)</text>
<text transform="translate(652.03,1517.58) scale(0.4711,0.5234)" font-size="100" fill="#000" stroke="#000" stroke-width="0.3">(</text>
<text transform="translate(669.20,1516.80) scale(0.4741,0.4650)" font-size="100" fill="#000" stroke="#000" stroke-width="0.3">b4</text>
<text transform="translate(718.30,1517.58) scale(0.4711,0.5234)" font-size="100" fill="#000" stroke="#000" stroke-width="0.3">)</text>
<text transform="translate(1050.38,88.53) scale(0.4711,0.5234)" font-size="100" fill="#000" stroke="#000" stroke-width="0.3">(</text>
<text transform="translate(1066.45,87.75) scale(0.4673,0.4650)" font-size="100" fill="#000" stroke="#000" stroke-width="0.3">c1</text>
<text transform="translate(1111.75,88.53) scale(0.4711,0.5234)" font-size="100" fill="#000" stroke="#000" stroke-width="0.3">)</text>
<text transform="translate(1050.38,566.08) scale(0.4711,0.5234)" font-size="100" fill="#000" stroke="#000" stroke-width="0.3">(</text>
<text transform="translate(1066.38,565.30) scale(0.4856,0.4650)" font-size="100" fill="#000" stroke="#000" stroke-width="0.3">c2</text>
<text transform="translate(1111.75,566.08) scale(0.4711,0.5234)" font-size="100" fill="#000" stroke="#000" stroke-width="0.3">)</text>
<text transform="translate(1050.38,1041.98) scale(0.4711,0.5234)" font-size="100" fill="#000" stroke="#000" stroke-width="0.3">(</text>
<text transform="translate(1066.41,1041.20) scale(0.4772,0.4650)" font-size="100" fill="#000" stroke="#000" stroke-width="0.3">c3</text>
<text transform="translate(1111.75,1041.98) scale(0.4711,0.5234)" font-size="100" fill="#000" stroke="#000" stroke-width="0.3">)</text>
<text transform="translate(1050.38,1517.58) scale(0.4711,0.5234)" font-size="100" fill="#000" stroke="#000" stroke-width="0.3">(</text>
<text transform="translate(1066.46,1516.80) scale(0.4639,0.4650)" font-size="100" fill="#000" stroke="#000" stroke-width="0.3">c4</text>
<text transform="translate(1111.75,1517.58) scale(0.4711,0.5234)" font-size="100" fill="#000" stroke="#000" stroke-width="0.3">)</text>
<text transform="translate(190.08,31.30) scale(0.5374,0.4885)" font-size="100" font-style="italic" fill="#000" stroke="#000" stroke-width="0.3">T</text>
<text transform="translate(217.90,38.70) scale(0.3319,0.3333)" font-size="100" fill="#000" stroke="#000" stroke-width="0.3">1</text>
<path d="M252.5,16.3H284.2M252.5,24.1H284.2" stroke="#000" stroke-width="1.9"/>
<text transform="translate(298.98,31.10) scale(0.4850,0.4647)" font-size="100" fill="#000" stroke="#000" stroke-width="0.3">0.1</text>
<text transform="translate(358.78,31.30) scale(0.5374,0.4885)" font-size="100" font-style="italic" fill="#000" stroke="#000" stroke-width="0.3">T</text>
<text transform="translate(386.00,38.70) scale(0.3528,0.3321)" font-size="100" fill="#000" stroke="#000" stroke-width="0.3">2</text>
<text transform="translate(614.68,31.30) scale(0.5374,0.4885)" font-size="100" font-style="italic" fill="#000" stroke="#000" stroke-width="0.3">T</text>
<text transform="translate(642.97,38.70) scale(0.3234,0.3333)" font-size="100" fill="#000" stroke="#000" stroke-width="0.3">1</text>
<path d="M677,16.3H708.7M677,24.1H708.7" stroke="#000" stroke-width="1.9"/>
<text transform="translate(723.63,31.30) scale(0.5374,0.4885)" font-size="100" font-style="italic" fill="#000" stroke="#000" stroke-width="0.3">T</text>
<text transform="translate(751.00,38.70) scale(0.3528,0.3321)" font-size="100" fill="#000" stroke="#000" stroke-width="0.3">2</text>
<text transform="translate(987.18,31.30) scale(0.5374,0.4885)" font-size="100" font-style="italic" fill="#000" stroke="#000" stroke-width="0.3">T</text>
<text transform="translate(1015.47,38.70) scale(0.3234,0.3333)" font-size="100" fill="#000" stroke="#000" stroke-width="0.3">1</text>
<path d="M1049.7,16.3H1081.3M1049.7,24.1H1081.3" stroke="#000" stroke-width="1.9"/>
<text transform="translate(1096.55,31.33) scale(0.4857,0.4681)" font-size="100" fill="#000" stroke="#000" stroke-width="0.3">10</text>
<text transform="translate(1142.98,31.30) scale(0.5374,0.4885)" font-size="100" font-style="italic" fill="#000" stroke="#000" stroke-width="0.3">T</text>
<text transform="translate(1171.04,38.70) scale(0.3429,0.3321)" font-size="100" fill="#000" stroke="#000" stroke-width="0.3">2</text>
<text transform="translate(195.87,487.30) scale(0.4772,0.4748)" font-size="100" font-style="italic" fill="#262626" stroke="#262626" stroke-width="0.3">k</text>
<text transform="translate(220.82,493.80) scale(0.3707,0.3370)" font-size="100" font-style="italic" fill="#262626" stroke="#262626" stroke-width="0.3">x</text>
<text transform="translate(257.77,487.62) scale(0.4691,0.5212)" font-size="100" fill="#262626" stroke="#262626" stroke-width="0.3">(</text>
<text transform="translate(274.46,486.90) scale(0.5056,0.4787)" font-size="100" fill="#262626" stroke="#262626" stroke-width="0.3">nm</text>
<path d="M342.4,460.7H361.9" stroke="#262626" stroke-width="1.5"/>
<text transform="translate(363.77,470.10) scale(0.3461,0.3333)" font-size="100" fill="#262626" stroke="#262626" stroke-width="0.3">1</text>
<text transform="translate(384.54,487.62) scale(0.4691,0.5212)" font-size="100" fill="#262626" stroke="#262626" stroke-width="0.3">)</text>
<text transform="translate(195.87,963.40) scale(0.4772,0.4748)" font-size="100" font-style="italic" fill="#262626" stroke="#262626" stroke-width="0.3">k</text>
<text transform="translate(220.82,969.90) scale(0.3707,0.3370)" font-size="100" font-style="italic" fill="#262626" stroke="#262626" stroke-width="0.3">x</text>
<text transform="translate(257.77,963.72) scale(0.4691,0.5212)" font-size="100" fill="#262626" stroke="#262626" stroke-width="0.3">(</text>
<text transform="translate(274.46,963.00) scale(0.5056,0.4787)" font-size="100" fill="#262626" stroke="#262626" stroke-width="0.3">nm</text>
<path d="M342.4,936.8H361.9" stroke="#262626" stroke-width="1.5"/>
<text transform="translate(363.77,946.20) scale(0.3461,0.3333)" font-size="100" fill="#262626" stroke="#262626" stroke-width="0.3">1</text>
<text transform="translate(384.54,963.72) scale(0.4691,0.5212)" font-size="100" fill="#262626" stroke="#262626" stroke-width="0.3">)</text>
<text transform="translate(216.05,1437.50) scale(0.5441,0.4947)" font-size="100" font-style="italic" fill="#262626" stroke="#262626" stroke-width="0.3">E</text>
<text transform="translate(249.09,1445.00) scale(0.3792,0.3557)" font-size="100" font-style="italic" fill="#262626" stroke="#262626" stroke-width="0.3">F</text>
<text transform="translate(292.97,1438.45) scale(0.4721,0.5245)" font-size="100" fill="#262626" stroke="#262626" stroke-width="0.3">(</text>
<text transform="translate(308.66,1437.56) scale(0.4852,0.4955)" font-size="100" fill="#262626" stroke="#262626" stroke-width="0.3">eV</text>
<text transform="translate(365.94,1438.45) scale(0.4721,0.5245)" font-size="100" fill="#262626" stroke="#262626" stroke-width="0.3">)</text>
<text transform="translate(216.05,1913.00) scale(0.5441,0.4947)" font-size="100" font-style="italic" fill="#262626" stroke="#262626" stroke-width="0.3">E</text>
<text transform="translate(249.09,1920.50) scale(0.3792,0.3557)" font-size="100" font-style="italic" fill="#262626" stroke="#262626" stroke-width="0.3">F</text>
<text transform="translate(292.97,1913.95) scale(0.4721,0.5245)" font-size="100" fill="#262626" stroke="#262626" stroke-width="0.3">(</text>
<text transform="translate(308.66,1913.06) scale(0.4852,0.4955)" font-size="100" fill="#262626" stroke="#262626" stroke-width="0.3">eV</text>
<text transform="translate(365.94,1913.95) scale(0.4721,0.5245)" font-size="100" fill="#262626" stroke="#262626" stroke-width="0.3">)</text>
<text transform="translate(590.37,487.30) scale(0.4772,0.4748)" font-size="100" font-style="italic" fill="#262626" stroke="#262626" stroke-width="0.3">k</text>
<text transform="translate(615.32,493.80) scale(0.3707,0.3370)" font-size="100" font-style="italic" fill="#262626" stroke="#262626" stroke-width="0.3">x</text>
<text transform="translate(652.27,487.62) scale(0.4691,0.5212)" font-size="100" fill="#262626" stroke="#262626" stroke-width="0.3">(</text>
<text transform="translate(668.96,486.90) scale(0.5056,0.4787)" font-size="100" fill="#262626" stroke="#262626" stroke-width="0.3">nm</text>
<path d="M736.9,460.7H756.4" stroke="#262626" stroke-width="1.5"/>
<text transform="translate(758.27,470.10) scale(0.3461,0.3333)" font-size="100" fill="#262626" stroke="#262626" stroke-width="0.3">1</text>
<text transform="translate(779.04,487.62) scale(0.4691,0.5212)" font-size="100" fill="#262626" stroke="#262626" stroke-width="0.3">)</text>
<text transform="translate(590.37,963.40) scale(0.4772,0.4748)" font-size="100" font-style="italic" fill="#262626" stroke="#262626" stroke-width="0.3">k</text>
<text transform="translate(615.32,969.90) scale(0.3707,0.3370)" font-size="100" font-style="italic" fill="#262626" stroke="#262626" stroke-width="0.3">x</text>
<text transform="translate(652.27,963.72) scale(0.4691,0.5212)" font-size="100" fill="#262626" stroke="#262626" stroke-width="0.3">(</text>
<text transform="translate(668.96,963.00) scale(0.5056,0.4787)" font-size="100" fill="#262626" stroke="#262626" stroke-width="0.3">nm</text>
<path d="M736.9,936.8H756.4" stroke="#262626" stroke-width="1.5"/>
<text transform="translate(758.27,946.20) scale(0.3461,0.3333)" font-size="100" fill="#262626" stroke="#262626" stroke-width="0.3">1</text>
<text transform="translate(779.04,963.72) scale(0.4691,0.5212)" font-size="100" fill="#262626" stroke="#262626" stroke-width="0.3">)</text>
<text transform="translate(610.55,1437.50) scale(0.5441,0.4947)" font-size="100" font-style="italic" fill="#262626" stroke="#262626" stroke-width="0.3">E</text>
<text transform="translate(643.59,1445.00) scale(0.3792,0.3557)" font-size="100" font-style="italic" fill="#262626" stroke="#262626" stroke-width="0.3">F</text>
<text transform="translate(687.47,1438.45) scale(0.4721,0.5245)" font-size="100" fill="#262626" stroke="#262626" stroke-width="0.3">(</text>
<text transform="translate(703.16,1437.56) scale(0.4852,0.4955)" font-size="100" fill="#262626" stroke="#262626" stroke-width="0.3">eV</text>
<text transform="translate(760.44,1438.45) scale(0.4721,0.5245)" font-size="100" fill="#262626" stroke="#262626" stroke-width="0.3">)</text>
<text transform="translate(610.55,1913.00) scale(0.5441,0.4947)" font-size="100" font-style="italic" fill="#262626" stroke="#262626" stroke-width="0.3">E</text>
<text transform="translate(643.59,1920.50) scale(0.3792,0.3557)" font-size="100" font-style="italic" fill="#262626" stroke="#262626" stroke-width="0.3">F</text>
<text transform="translate(687.47,1913.95) scale(0.4721,0.5245)" font-size="100" fill="#262626" stroke="#262626" stroke-width="0.3">(</text>
<text transform="translate(703.16,1913.06) scale(0.4852,0.4955)" font-size="100" fill="#262626" stroke="#262626" stroke-width="0.3">eV</text>
<text transform="translate(760.44,1913.95) scale(0.4721,0.5245)" font-size="100" fill="#262626" stroke="#262626" stroke-width="0.3">)</text>
<text transform="translate(986.47,487.30) scale(0.4772,0.4748)" font-size="100" font-style="italic" fill="#262626" stroke="#262626" stroke-width="0.3">k</text>
<text transform="translate(1011.42,493.80) scale(0.3707,0.3370)" font-size="100" font-style="italic" fill="#262626" stroke="#262626" stroke-width="0.3">x</text>
<text transform="translate(1048.37,487.62) scale(0.4691,0.5212)" font-size="100" fill="#262626" stroke="#262626" stroke-width="0.3">(</text>
<text transform="translate(1065.06,486.90) scale(0.5056,0.4787)" font-size="100" fill="#262626" stroke="#262626" stroke-width="0.3">nm</text>
<path d="M1133,460.7H1152.5" stroke="#262626" stroke-width="1.5"/>
<text transform="translate(1154.37,470.10) scale(0.3461,0.3333)" font-size="100" fill="#262626" stroke="#262626" stroke-width="0.3">1</text>
<text transform="translate(1175.14,487.62) scale(0.4691,0.5212)" font-size="100" fill="#262626" stroke="#262626" stroke-width="0.3">)</text>
<text transform="translate(986.47,963.40) scale(0.4772,0.4748)" font-size="100" font-style="italic" fill="#262626" stroke="#262626" stroke-width="0.3">k</text>
<text transform="translate(1011.42,969.90) scale(0.3707,0.3370)" font-size="100" font-style="italic" fill="#262626" stroke="#262626" stroke-width="0.3">x</text>
<text transform="translate(1048.37,963.72) scale(0.4691,0.5212)" font-size="100" fill="#262626" stroke="#262626" stroke-width="0.3">(</text>
<text transform="translate(1065.06,963.00) scale(0.5056,0.4787)" font-size="100" fill="#262626" stroke="#262626" stroke-width="0.3">nm</text>
<path d="M1133,936.8H1152.5" stroke="#262626" stroke-width="1.5"/>
<text transform="translate(1154.37,946.20) scale(0.3461,0.3333)" font-size="100" fill="#262626" stroke="#262626" stroke-width="0.3">1</text>
<text transform="translate(1175.14,963.72) scale(0.4691,0.5212)" font-size="100" fill="#262626" stroke="#262626" stroke-width="0.3">)</text>
<text transform="translate(1006.65,1437.50) scale(0.5441,0.4947)" font-size="100" font-style="italic" fill="#262626" stroke="#262626" stroke-width="0.3">E</text>
<text transform="translate(1039.69,1445.00) scale(0.3792,0.3557)" font-size="100" font-style="italic" fill="#262626" stroke="#262626" stroke-width="0.3">F</text>
<text transform="translate(1083.57,1438.45) scale(0.4721,0.5245)" font-size="100" fill="#262626" stroke="#262626" stroke-width="0.3">(</text>
<text transform="translate(1099.26,1437.56) scale(0.4852,0.4955)" font-size="100" fill="#262626" stroke="#262626" stroke-width="0.3">eV</text>
<text transform="translate(1156.54,1438.45) scale(0.4721,0.5245)" font-size="100" fill="#262626" stroke="#262626" stroke-width="0.3">)</text>
<text transform="translate(1006.65,1913.00) scale(0.5441,0.4947)" font-size="100" font-style="italic" fill="#262626" stroke="#262626" stroke-width="0.3">E</text>
<text transform="translate(1039.69,1920.50) scale(0.3792,0.3557)" font-size="100" font-style="italic" fill="#262626" stroke="#262626" stroke-width="0.3">F</text>
<text transform="translate(1083.57,1913.95) scale(0.4721,0.5245)" font-size="100" fill="#262626" stroke="#262626" stroke-width="0.3">(</text>
<text transform="translate(1099.26,1913.06) scale(0.4852,0.4955)" font-size="100" fill="#262626" stroke="#262626" stroke-width="0.3">eV</text>
<text transform="translate(1156.54,1913.95) scale(0.4721,0.5245)" font-size="100" fill="#262626" stroke="#262626" stroke-width="0.3">)</text>
<g transform="rotate(-90)">
<text transform="translate(-320.62,54.94) scale(0.4181,0.4646)" font-size="100" font-style="italic" fill="#262626" stroke="#262626" stroke-width="0.3">ϵ</text>
<text transform="translate(-301.88,67.40) scale(0.3509,0.3237)" font-size="100" font-weight="bold" fill="#262626" stroke="#262626" stroke-width="0.3">k</text>
<text transform="translate(-262.00,54.70) scale(0.4701,0.5223)" font-size="100" fill="#262626" stroke="#262626" stroke-width="0.3">(</text>
<text transform="translate(-246.85,54.65) scale(0.4870,0.5000)" font-size="100" fill="#262626" stroke="#262626" stroke-width="0.3">eV</text>
<text transform="translate(-189.13,54.70) scale(0.4701,0.5223)" font-size="100" fill="#262626" stroke="#262626" stroke-width="0.3">)</text>
<text transform="translate(-825.52,84.80) scale(0.5076,0.4763)" font-size="100" font-style="italic" fill="#262626" stroke="#262626" stroke-width="0.3">k</text>
<text transform="translate(-797.50,91.59) scale(0.3033,0.3215)" font-size="100" font-style="italic" fill="#262626" stroke="#262626" stroke-width="0.3">y</text>
<text transform="translate(-763.85,85.10) scale(0.4701,0.5223)" font-size="100" fill="#262626" stroke="#262626" stroke-width="0.3">(</text>
<text transform="translate(-747.44,84.80) scale(0.5065,0.4617)" font-size="100" fill="#262626" stroke="#262626" stroke-width="0.3">nm</text>
<path d="M-679.5,59.1H-660.1" stroke="#262626" stroke-width="1.5"/>
<text transform="translate(-657.98,67.10) scale(0.3404,0.3288)" font-size="100" fill="#262626" stroke="#262626" stroke-width="0.3">1</text>
<text transform="translate(-638.28,85.10) scale(0.4701,0.5223)" font-size="100" fill="#262626" stroke="#262626" stroke-width="0.3">)</text>
<text transform="translate(-1299.42,68.48) scale(0.4567,0.4152)" font-size="100" font-style="italic" fill="#262626" stroke="#262626" stroke-width="0.3">σ</text>
<text transform="translate(-1274.27,81.00) scale(0.3519,0.3450)" font-size="100" fill="#262626" stroke="#262626" stroke-width="0.3">H</text>
<text transform="translate(-1221.35,69.00) scale(0.4701,0.5223)" font-size="100" fill="#262626" stroke="#262626" stroke-width="0.3">(</text>
<text transform="translate(-1204.50,68.45) scale(0.4662,0.4458)" font-size="100" font-style="italic" fill="#262626" stroke="#262626" stroke-width="0.3">e</text>
<text transform="translate(-1182.79,51.00) scale(0.3280,0.3275)" font-size="100" fill="#262626" stroke="#262626" stroke-width="0.3">2</text>
<text transform="translate(-1139.83,68.90) scale(0.5271,0.4791)" font-size="100" font-style="italic" fill="#262626" stroke="#262626" stroke-width="0.3">h</text>
<text transform="translate(-1113.58,69.00) scale(0.4701,0.5223)" font-size="100" fill="#262626" stroke="#262626" stroke-width="0.3">)</text>
<text transform="translate(-1768.56,35.38) scale(0.5083,0.4989)" font-size="100" font-style="italic" fill="#262626" stroke="#262626" stroke-width="0.3">D</text>
<text transform="translate(-1730.40,43.10) scale(0.3778,0.3435)" font-size="100" font-style="italic" fill="#262626" stroke="#262626" stroke-width="0.3">xz</text>
<text transform="translate(-1676.57,35.78) scale(0.4711,0.5234)" font-size="100" fill="#262626" stroke="#262626" stroke-width="0.3">(</text>
<text transform="translate(-1659.88,35.50) scale(0.4985,0.4532)" font-size="100" fill="#262626" stroke="#262626" stroke-width="0.3">nm</text>
<text transform="translate(-1595.10,35.78) scale(0.4711,0.5234)" font-size="100" fill="#262626" stroke="#262626" stroke-width="0.3">)</text>
</g>
<path d="M33.2,1226.4L79.6,1243.8M33.2,1144.2L79.6,1162" stroke="#262626" stroke-width="1.9" fill="none"/>
<text transform="translate(1265.51,166.47) scale(0.3975,0.4333)" font-size="100" font-style="italic" fill="#000" stroke="#000" stroke-width="0.3">ϵ</text>
<text transform="translate(1284.24,179.40) scale(0.3419,0.3108)" font-size="100" font-weight="bold" fill="#000" stroke="#000" stroke-width="0.3">k</text>
<text transform="translate(1285.44,142.20) scale(0.3302,0.3669)" font-size="100" fill="#000" stroke="#000" stroke-width="0.3">(</text>
<text transform="translate(1322.72,142.20) scale(0.3302,0.3669)" font-size="100" fill="#000" stroke="#000" stroke-width="0.3">)</text>
<text transform="translate(1265.51,232.67) scale(0.3975,0.4333)" font-size="100" font-style="italic" fill="#000" stroke="#000" stroke-width="0.3">ϵ</text>
<text transform="translate(1284.24,245.60) scale(0.3419,0.3108)" font-size="100" font-weight="bold" fill="#000" stroke="#000" stroke-width="0.3">k</text>
<text transform="translate(1285.44,208.40) scale(0.3302,0.3669)" font-size="100" fill="#000" stroke="#000" stroke-width="0.3">(</text>
<text transform="translate(1322.72,208.40) scale(0.3302,0.3669)" font-size="100" fill="#000" stroke="#000" stroke-width="0.3">)</text>
<path d="M1298.3,133.3H1320M1309.15,122.4V144.2" stroke="#000" stroke-width="1.5"/>
<path d="M1298.9,199.3H1319.4" stroke="#000" stroke-width="1.5"/>
<text transform="translate(1224.65,511.70) scale(0.4859,0.4951)" font-size="100" fill="#000" stroke="#000" stroke-width="0.3">Ω</text>
<text transform="translate(1260.81,487.92) scale(0.3262,0.3614)" font-size="100" fill="#000" stroke="#000" stroke-width="0.3">(</text>
<path d="M1275,478.9H1295" stroke="#000" stroke-width="1.5"/>
<text transform="translate(1298.34,487.92) scale(0.3262,0.3614)" font-size="100" fill="#000" stroke="#000" stroke-width="0.3">)</text>
<text transform="translate(1259.84,526.10) scale(0.3038,0.3194)" font-size="100" font-weight="bold" fill="#000" stroke="#000" stroke-width="0.3">k</text>
<text transform="translate(1279.97,526.18) scale(0.3495,0.3883)" font-size="100" fill="#000" stroke="#000" stroke-width="0.3">,</text>
<text transform="translate(1290.45,526.10) scale(0.3587,0.3261)" font-size="100" font-style="italic" fill="#000" stroke="#000" stroke-width="0.3">z</text>
<text transform="translate(1211.89,575.76) scale(0.4738,0.5146)" font-size="100" fill="#000" stroke="#000" stroke-width="0.3">(</text>
<text transform="translate(1230.48,575.00) scale(0.4681,0.4255)" font-size="100" fill="#000" stroke="#000" stroke-width="0.3">nm</text>
<text transform="translate(1293.26,557.80) scale(0.3321,0.3019)" font-size="100" fill="#000" stroke="#000" stroke-width="0.3">2</text>
<text transform="translate(1312.78,575.76) scale(0.4631,0.5146)" font-size="100" fill="#000" stroke="#000" stroke-width="0.3">)</text>
</svg>
</body></html>
